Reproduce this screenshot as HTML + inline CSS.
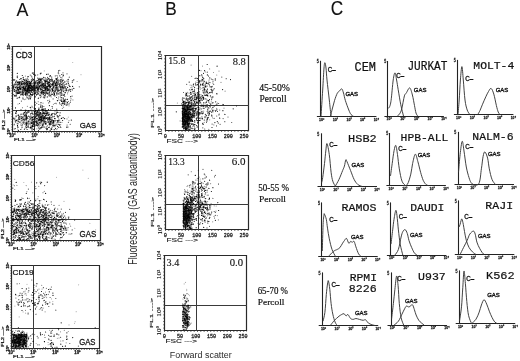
<!DOCTYPE html>
<html><head><meta charset="utf-8"><style>
html,body{margin:0;padding:0;background:#fff;}
body{width:520px;height:361px;overflow:hidden;}
svg{display:block;filter:grayscale(1);}
</style></head><body>
<svg width="520" height="361" viewBox="0 0 520 361">
<rect width="520" height="361" fill="#fff"/>
<text transform="matrix(0.29750,0,0,0.30000,16.550,15.550)" font-size="60" font-family='"Liberation Sans", sans-serif' font-weight="normal" fill="#111" stroke="#111" stroke-width="0.33" stroke-linejoin="round">A</text>
<text transform="matrix(0.28750,0,0,0.30244,165.312,14.750)" font-size="60" font-family='"Liberation Sans", sans-serif' font-weight="normal" fill="#111" stroke="#111" stroke-width="0.34" stroke-linejoin="round">B</text>
<text transform="matrix(0.28684,0,0,0.32683,330.689,14.750)" font-size="60" font-family='"Liberation Sans", sans-serif' font-weight="normal" fill="#111" stroke="#111" stroke-width="0.33" stroke-linejoin="round">C</text>
<line x1="12.5" y1="46" x2="12.5" y2="132" stroke="#2a2a2a" stroke-width="1.2"/>
<line x1="101.5" y1="46" x2="101.5" y2="132" stroke="#2a2a2a" stroke-width="1.2"/>
<line x1="12" y1="46.5" x2="102" y2="46.5" stroke="#2a2a2a" stroke-width="1.2"/>
<line x1="12" y1="131.5" x2="102" y2="131.5" stroke="#2a2a2a" stroke-width="1.2"/>
<line x1="34.5" y1="46" x2="34.5" y2="132" stroke="#3a3a3a" stroke-width="1"/>
<line x1="12" y1="110.5" x2="102" y2="110.5" stroke="#3a3a3a" stroke-width="1"/>
<path d="M24.3 90.5h0M19.4 88.7h0M21.3 83.8h0M29.1 82.6h0M22.2 83.6h0M16.7 84.4h0M19.8 92.4h0M13.3 79.9h0M21.3 85.3h0M22.1 86.5h0M26.2 82.4h0M33.9 90.5h0M16.5 95.3h0M25.1 83.7h0M21.7 83.8h0M33.8 81.6h0M22.4 87.1h0M31.9 86.3h0M28.2 90.1h0M35.7 85.8h0M42.2 87.5h0M26.7 92.6h0M22.2 82.2h0M23.2 94.5h0M22.3 91.9h0M36.0 91.6h0M19.8 89.1h0M16.6 91.1h0M29.4 95.7h0M25.7 95.5h0M33.9 87.2h0M32.3 88.1h0M18.7 89.6h0M29.2 87.7h0M28.9 91.8h0M33.2 88.5h0M17.7 89.9h0M13.8 88.0h0M20.9 85.8h0M23.3 87.4h0M27.5 87.3h0M25.8 92.4h0M22.5 94.3h0M17.3 83.3h0M31.4 86.6h0M26.8 96.4h0M24.1 81.4h0M29.2 91.9h0M32.0 86.3h0M17.1 85.3h0M17.4 84.7h0M14.4 85.9h0M24.1 86.8h0M33.0 88.2h0M32.5 88.8h0M25.4 93.4h0M27.0 84.0h0M22.9 94.1h0M32.7 79.6h0M19.9 81.6h0M25.7 99.2h0M17.7 82.4h0M31.4 81.4h0M23.8 93.1h0M26.7 81.8h0M29.2 97.8h0M32.5 86.4h0M33.4 91.2h0M31.2 87.5h0M28.5 92.0h0M23.9 90.3h0M13.3 90.1h0M35.0 85.7h0M27.1 88.3h0M20.1 83.0h0M25.5 90.3h0M24.4 99.6h0M34.6 96.8h0M17.6 89.4h0M21.5 82.6h0M19.7 86.9h0M21.2 93.2h0M25.7 85.1h0M38.7 97.7h0M17.7 85.1h0M50.2 89.3h0M23.7 90.0h0M35.4 83.7h0M16.1 90.7h0M41.4 83.8h0M23.6 93.6h0M25.7 89.7h0M16.9 88.4h0M18.9 85.9h0M18.3 88.7h0M29.1 87.6h0M22.1 89.6h0M33.4 89.7h0M28.8 80.9h0M38.5 89.7h0M40.6 84.4h0M36.8 88.3h0M29.1 83.1h0M32.7 90.9h0M26.0 78.5h0M19.1 81.6h0M39.7 88.5h0M28.0 93.9h0M27.9 87.2h0M27.4 84.7h0M17.2 93.8h0M22.1 90.7h0M16.7 81.2h0M22.0 83.8h0M21.5 88.9h0M23.6 81.8h0M25.5 83.5h0M25.1 89.9h0M40.4 89.6h0M17.8 87.3h0M21.5 86.8h0M20.9 83.5h0M32.4 86.4h0M20.1 90.6h0M28.1 98.4h0M20.7 91.7h0M21.2 87.7h0M33.7 80.2h0M45.5 87.4h0M22.3 81.9h0M30.5 82.7h0M36.2 94.9h0M26.1 86.0h0M33.5 90.3h0M32.9 88.9h0M20.2 88.1h0M23.0 87.9h0M17.4 84.9h0M34.7 90.2h0M34.4 87.6h0M21.1 87.9h0M30.6 90.6h0M36.8 94.6h0M22.5 84.8h0M33.6 92.6h0M17.0 89.0h0M33.7 89.1h0M27.0 83.9h0M35.9 85.2h0M29.4 87.3h0M44.7 90.8h0M44.7 87.6h0M39.1 87.4h0M44.3 82.9h0M42.5 78.3h0M13.9 87.2h0M54.8 89.8h0M50.5 85.2h0M37.3 89.6h0M37.8 80.8h0M24.7 91.2h0M37.7 94.4h0M41.0 84.6h0M42.6 81.3h0M56.1 82.1h0M50.0 96.4h0M37.8 86.1h0M34.3 90.5h0M48.6 82.6h0M34.8 85.4h0M54.1 88.6h0M37.2 92.8h0M59.4 92.4h0M46.1 90.3h0M50.1 87.0h0M54.6 95.2h0M30.7 94.4h0M38.5 84.0h0M48.8 89.1h0M39.4 86.6h0M26.1 92.7h0M48.6 81.6h0M40.6 90.5h0M36.3 81.1h0M39.9 86.4h0M64.1 82.3h0M38.2 101.7h0M39.6 94.8h0M31.0 96.2h0M45.8 85.3h0M39.2 79.7h0M40.5 94.2h0M48.5 85.3h0M50.0 84.0h0M32.1 87.1h0M48.7 88.8h0M47.4 86.5h0M38.6 88.2h0M46.6 92.3h0M47.4 81.4h0M59.7 87.0h0M34.4 85.5h0M40.8 88.8h0M34.4 86.6h0M44.9 93.6h0M38.3 90.1h0M49.5 89.2h0M42.1 91.6h0M38.9 84.4h0M34.0 87.5h0M58.7 86.3h0M40.4 88.6h0M40.7 86.8h0M41.5 93.3h0M42.6 85.4h0M50.0 79.7h0M39.4 86.2h0M51.9 81.6h0M51.6 78.4h0M32.1 88.2h0M39.4 92.0h0M37.3 75.1h0M48.9 90.3h0M28.4 79.6h0M39.1 88.0h0M44.5 95.4h0M36.1 86.0h0M56.1 82.3h0M26.9 90.0h0M61.9 86.1h0M33.2 79.2h0M47.6 84.1h0M57.4 87.0h0M37.2 91.4h0M51.4 92.6h0M31.0 83.4h0M54.9 81.3h0M31.4 91.5h0M34.7 93.4h0M36.4 85.7h0M48.0 84.9h0M39.3 86.9h0M43.6 94.3h0M32.7 83.4h0M31.2 80.6h0M47.6 88.7h0M51.1 86.4h0M55.2 91.6h0M38.8 91.3h0M54.4 84.1h0M27.0 88.5h0M54.9 90.6h0M57.2 92.7h0M32.6 86.9h0M57.7 87.0h0M47.1 89.3h0M54.4 81.6h0M33.9 84.1h0M54.7 91.1h0M59.1 87.7h0M44.2 98.1h0M45.4 78.3h0M44.1 86.0h0M46.9 87.1h0M51.2 86.4h0M35.6 81.7h0M49.1 96.0h0M35.1 92.8h0M51.9 94.2h0M58.0 93.8h0M34.3 84.5h0M48.1 90.6h0M41.6 94.8h0M25.4 76.1h0M51.5 85.5h0M37.7 86.8h0M37.2 88.1h0M48.9 82.6h0M37.9 84.7h0M37.9 91.2h0M53.0 84.9h0M36.5 90.6h0M51.0 85.8h0M44.1 91.4h0M34.3 88.7h0M49.3 79.4h0M40.3 88.8h0M40.2 93.5h0M41.1 86.8h0M32.8 90.1h0M35.2 86.5h0M46.4 86.9h0M43.2 88.3h0M45.5 93.2h0M39.6 95.4h0M31.3 91.0h0M64.8 86.9h0M52.8 84.1h0M50.3 95.3h0M57.2 87.8h0M49.3 100.2h0M52.1 89.5h0M62.3 89.5h0M64.0 85.4h0M62.7 90.6h0M54.9 91.3h0M68.2 90.5h0M61.1 104.4h0M41.3 96.6h0M63.5 83.9h0M62.5 88.4h0M58.5 89.6h0M52.5 90.3h0M63.2 91.0h0M61.7 95.5h0M52.4 85.6h0M60.7 86.8h0M57.3 82.7h0M58.5 90.4h0M54.9 83.2h0M60.7 83.9h0M69.6 89.0h0M58.4 82.1h0M53.7 90.1h0M58.7 91.5h0M66.3 91.1h0M55.4 90.1h0M56.9 82.0h0M59.2 86.4h0M53.3 87.7h0M55.0 95.3h0M58.6 89.6h0M49.4 86.2h0M53.7 83.8h0M56.3 83.9h0M68.6 91.2h0M58.1 93.4h0M59.4 90.0h0M63.7 87.0h0M60.4 85.0h0M54.2 94.8h0M67.8 92.3h0M61.6 93.5h0M66.0 86.5h0M65.4 99.2h0M56.9 95.1h0M61.2 88.9h0M58.5 81.2h0M58.0 80.7h0M61.5 82.7h0M77.1 81.5h0M61.4 99.5h0M50.1 86.7h0M72.9 80.7h0M57.1 80.0h0M49.6 80.4h0M48.7 82.7h0M43.4 88.7h0M56.5 86.8h0M50.1 87.3h0M62.9 80.2h0M40.5 83.5h0M57.8 89.4h0M46.8 80.7h0M52.3 89.6h0M46.2 81.8h0M49.4 85.7h0M66.5 81.0h0M55.9 82.8h0M35.0 89.8h0M49.2 82.2h0M52.1 85.6h0M62.1 77.9h0M55.9 84.9h0M66.8 83.9h0M56.6 79.3h0M47.4 87.3h0M57.2 91.0h0M48.9 84.0h0M53.7 81.9h0M58.7 82.6h0M44.7 83.2h0M60.5 82.6h0M59.0 83.4h0M47.3 84.3h0M46.3 87.2h0M53.5 84.6h0M57.9 87.8h0M45.3 84.4h0M67.0 81.0h0M49.4 85.8h0M53.8 81.0h0M34.0 90.4h0M51.9 80.0h0M45.8 81.5h0M61.6 84.6h0M51.2 96.9h0M49.6 79.7h0M58.9 73.8h0M55.5 88.4h0M57.2 78.8h0M48.6 87.0h0M64.1 102.7h0M59.9 103.9h0M67.5 93.8h0M65.1 103.2h0M66.9 102.0h0M57.5 100.7h0M64.7 101.8h0M64.1 101.4h0M63.2 105.9h0M63.2 101.3h0M55.9 103.2h0M61.1 100.8h0M63.4 99.6h0M69.0 105.8h0M65.9 99.3h0M62.4 108.4h0M62.1 101.0h0M68.3 104.1h0M63.6 107.5h0M72.9 99.9h0M65.6 104.8h0M63.2 99.3h0M67.3 104.5h0M56.4 103.7h0M58.6 118.8h0M23.7 122.8h0M17.6 129.0h0M23.0 113.9h0M32.5 128.5h0M14.8 119.2h0M35.2 121.3h0M25.0 122.7h0M24.8 113.8h0M22.5 117.5h0M26.8 120.2h0M33.2 111.1h0M17.9 123.0h0M25.2 120.1h0M28.3 111.1h0M15.1 118.1h0M33.4 123.1h0M33.8 118.8h0M18.0 115.1h0M17.8 127.0h0M31.9 113.0h0M26.4 121.3h0M25.9 119.3h0M31.8 120.5h0M15.1 120.3h0M31.1 125.8h0M36.5 121.8h0M23.6 121.4h0M36.3 118.6h0M15.2 121.7h0M20.6 122.5h0M20.8 124.9h0M26.5 118.4h0M21.7 127.8h0M14.4 124.2h0M18.8 118.3h0M25.2 122.5h0M27.9 124.1h0M40.2 123.2h0M35.2 125.9h0M21.4 125.7h0M25.0 115.8h0M34.9 121.4h0M28.1 125.0h0M32.6 107.2h0M19.3 117.9h0M16.4 116.6h0M31.1 115.8h0M35.1 119.9h0M24.3 124.5h0M37.3 115.3h0M41.2 121.6h0M31.3 120.2h0M22.5 107.7h0M30.7 124.6h0M28.5 127.2h0M20.6 122.8h0M16.3 115.3h0M16.0 115.5h0M45.1 112.3h0M21.9 123.5h0M23.9 113.9h0M28.2 127.2h0M19.8 119.5h0M41.6 114.1h0M18.1 123.1h0M20.4 121.1h0M36.4 123.1h0M31.9 106.2h0M18.0 104.0h0M29.3 123.8h0M32.5 117.4h0M31.9 119.9h0M24.8 121.9h0M22.7 122.6h0M31.8 129.4h0M26.4 119.9h0M36.4 115.7h0M24.9 128.3h0M22.0 121.7h0M31.0 122.2h0M22.4 116.7h0M25.7 114.0h0M35.3 122.0h0M57.3 116.4h0M43.8 122.2h0M53.7 124.5h0M42.6 110.5h0M46.6 129.2h0M40.5 114.3h0M45.6 115.6h0M28.5 120.7h0M18.2 123.8h0M42.8 123.3h0M58.4 122.5h0M46.4 126.3h0M35.9 125.6h0M38.2 121.7h0M53.0 123.8h0M44.0 123.2h0M47.6 125.7h0M39.5 114.7h0M38.5 114.0h0M44.2 117.3h0M43.2 127.3h0M26.0 110.5h0M45.8 117.6h0M41.0 107.4h0M31.7 111.2h0M48.3 122.2h0M41.8 113.2h0M41.4 120.8h0M27.5 113.2h0M51.3 117.3h0M40.7 125.3h0M30.0 122.9h0M49.2 122.1h0M38.0 113.1h0M39.2 124.7h0M50.2 119.3h0M43.0 103.2h0M43.3 126.2h0M47.7 126.1h0M34.6 109.2h0M44.2 117.7h0M49.0 117.8h0M32.4 128.7h0M34.2 118.0h0M39.3 111.6h0M53.4 122.0h0M40.9 119.3h0M24.0 120.1h0M30.8 125.1h0M36.4 120.5h0M50.9 123.5h0M44.0 123.3h0M53.4 124.3h0M41.0 124.6h0M59.6 115.0h0M39.7 119.7h0M35.6 112.6h0M30.0 123.4h0M56.1 123.0h0M52.6 123.4h0M37.8 126.6h0M39.3 117.8h0M31.1 123.2h0M45.9 128.4h0M18.8 115.1h0M44.0 106.5h0M37.4 121.5h0M34.3 113.0h0M45.0 120.9h0M38.5 112.9h0M39.3 116.0h0M48.0 113.1h0M58.7 116.8h0M43.3 111.9h0M47.2 128.4h0M43.4 116.3h0M34.6 126.0h0M51.4 122.5h0M47.0 121.8h0M35.1 112.8h0M37.2 119.7h0M46.4 113.0h0M39.2 115.5h0M51.1 119.1h0M40.8 114.7h0M44.4 122.6h0M44.2 118.6h0M41.7 114.5h0M29.7 111.2h0M43.1 121.2h0M37.7 114.0h0M36.9 128.8h0M39.1 122.1h0M41.5 121.7h0M30.6 127.4h0M32.2 123.1h0M35.0 124.4h0M55.0 118.9h0M43.3 125.0h0M50.3 121.4h0M45.2 118.6h0M40.1 128.7h0M57.0 115.4h0M35.8 120.0h0M39.7 120.4h0M38.0 110.9h0M48.3 115.1h0M43.9 112.8h0M40.3 113.4h0M38.7 112.0h0M46.8 113.8h0M39.9 112.6h0M48.4 119.2h0M44.9 111.6h0M42.2 109.8h0M43.6 116.6h0M34.5 112.1h0M42.1 115.4h0M35.7 116.2h0M42.3 112.5h0M39.3 115.6h0M46.8 114.2h0M45.9 110.8h0M34.5 113.7h0M36.3 119.0h0M42.2 111.0h0M42.5 107.6h0M38.6 114.9h0M47.1 112.0h0M39.6 112.5h0M43.5 116.0h0M43.6 110.6h0M43.8 113.7h0M45.6 110.8h0M40.7 114.1h0M45.9 113.3h0M47.3 112.3h0M52.3 120.2h0M60.7 124.6h0M46.4 112.2h0M53.9 125.8h0M60.6 122.4h0M53.6 122.4h0M56.6 113.1h0M52.9 124.4h0M56.7 129.6h0M50.2 119.8h0M58.1 121.9h0M62.0 122.3h0M52.5 119.7h0M54.1 123.1h0M56.8 124.5h0M57.3 128.6h0M67.0 118.9h0M55.2 121.0h0M46.4 127.2h0M55.0 126.8h0M47.1 115.7h0M38.1 124.7h0M69.0 120.6h0M52.2 126.3h0M46.3 117.4h0M53.5 120.7h0M60.5 126.7h0M40.8 104.3h0M41.6 110.0h0M32.4 80.7h0M26.6 91.4h0M42.8 83.0h0M37.8 74.7h0M53.4 104.3h0M63.3 89.7h0M50.7 109.7h0M17.3 83.8h0M61.5 93.5h0M58.2 98.6h0M27.4 106.3h0M15.9 92.9h0M62.9 98.8h0M24.0 94.5h0M25.1 79.5h0" stroke="#000" stroke-opacity="0.45" stroke-width="1.2" stroke-linecap="round" fill="none"/>
<path d="M35.0 84.1h0M19.3 82.0h0M20.6 89.3h0M31.4 86.8h0M22.6 91.5h0M30.2 82.8h0M16.2 94.0h0M27.6 78.9h0M18.0 91.5h0M21.9 80.0h0M27.5 89.8h0M30.5 98.3h0M33.4 88.5h0M27.1 95.4h0M18.0 81.6h0M28.8 95.8h0M29.6 89.0h0M27.1 93.1h0M31.0 88.7h0M20.0 83.2h0M16.1 95.3h0M28.4 87.2h0M29.4 87.8h0M29.7 90.4h0M40.1 85.9h0M14.9 85.0h0M29.1 98.2h0M21.3 94.6h0M18.8 89.8h0M38.2 87.0h0M27.8 76.9h0M22.0 84.6h0M35.9 86.8h0M16.5 86.6h0M21.6 82.9h0M24.2 84.0h0M27.0 86.6h0M31.2 88.7h0M35.9 92.0h0M23.0 98.9h0M23.2 91.0h0M26.3 84.0h0M26.0 84.6h0M18.2 93.2h0M17.5 84.8h0M42.1 85.4h0M30.8 97.2h0M16.6 93.9h0M25.1 94.4h0M19.8 88.8h0M26.8 92.4h0M22.5 87.4h0M19.5 87.2h0M27.5 85.7h0M22.2 91.3h0M18.8 83.7h0M16.4 92.4h0M28.3 84.5h0M26.7 89.0h0M29.7 82.9h0M15.5 84.7h0M31.1 90.3h0M27.3 84.7h0M39.0 83.5h0M33.8 86.6h0M25.3 93.4h0M16.2 96.2h0M22.0 87.4h0M22.1 91.0h0M20.8 78.5h0M39.5 82.0h0M30.4 90.6h0M30.7 83.8h0M29.5 83.9h0M35.4 75.6h0M27.3 85.9h0M18.9 97.7h0M37.9 90.1h0M13.5 88.9h0M29.4 85.1h0M17.8 92.4h0M22.1 92.7h0M25.3 88.2h0M26.6 89.2h0M37.8 89.6h0M27.0 88.4h0M27.1 93.0h0M26.5 80.3h0M18.0 87.4h0M26.5 80.2h0M36.0 88.1h0M25.4 90.5h0M13.7 94.6h0M27.6 92.2h0M56.6 89.1h0M27.0 87.8h0M15.9 90.1h0M23.6 92.5h0M25.9 89.1h0M22.7 94.3h0M29.6 89.4h0M22.4 94.4h0M32.4 78.6h0M32.0 86.2h0M35.7 82.1h0M28.8 99.2h0M20.8 95.1h0M35.5 91.8h0M23.3 99.0h0M33.2 90.2h0M21.9 92.1h0M28.0 87.1h0M20.0 85.2h0M28.1 91.9h0M26.9 91.4h0M23.9 83.8h0M30.8 88.4h0M23.1 85.9h0M25.1 91.3h0M29.5 86.3h0M38.4 89.9h0M19.1 92.1h0M27.3 90.4h0M38.1 87.3h0M27.2 94.2h0M28.9 86.9h0M19.2 97.7h0M32.9 89.1h0M32.5 86.2h0M23.3 78.9h0M30.7 85.2h0M22.4 84.1h0M28.4 87.7h0M33.4 89.8h0M36.1 88.3h0M39.2 82.3h0M26.4 94.1h0M23.8 88.6h0M14.5 91.4h0M38.7 87.7h0M32.4 95.1h0M23.4 82.8h0M31.1 82.7h0M24.8 90.6h0M26.9 90.7h0M13.5 88.6h0M33.5 89.0h0M18.7 87.5h0M25.9 86.8h0M30.6 89.0h0M14.9 96.3h0M16.6 80.9h0M27.2 86.5h0M17.3 89.7h0M31.1 91.5h0M33.3 89.3h0M21.4 101.1h0M23.0 83.4h0M28.3 89.0h0M17.0 84.8h0M31.5 89.0h0M19.8 87.2h0M15.6 81.9h0M15.4 95.6h0M15.8 91.1h0M16.1 92.2h0M33.9 85.0h0M33.7 88.8h0M22.1 87.2h0M20.6 88.1h0M23.9 91.8h0M28.3 82.1h0M45.7 88.7h0M51.3 88.8h0M45.2 85.5h0M53.6 90.9h0M64.4 84.9h0M47.3 81.3h0M45.8 90.3h0M40.9 89.6h0M38.2 78.8h0M46.9 93.3h0M39.5 78.3h0M26.8 86.0h0M43.5 85.5h0M31.3 94.5h0M38.6 85.8h0M57.3 90.3h0M57.6 77.2h0M45.4 92.6h0M45.5 86.8h0M32.6 90.0h0M31.6 87.2h0M32.2 87.9h0M36.0 82.3h0M37.0 85.0h0M19.8 85.1h0M44.7 87.3h0M28.4 90.2h0M41.6 88.0h0M46.3 91.0h0M35.6 90.2h0M49.9 87.9h0M37.9 88.5h0M48.3 82.7h0M30.4 92.1h0M31.9 88.6h0M33.9 84.9h0M32.0 77.1h0M60.6 79.8h0M36.8 85.3h0M44.3 88.0h0M46.8 79.1h0M40.9 82.3h0M29.8 90.2h0M54.5 93.6h0M41.6 79.6h0M54.9 96.1h0M48.3 89.7h0M47.1 92.2h0M40.6 88.1h0M37.7 93.0h0M22.9 97.9h0M41.3 85.4h0M45.7 82.5h0M48.1 83.3h0M34.6 82.7h0M28.4 86.7h0M41.0 85.5h0M34.0 87.8h0M61.2 92.5h0M39.8 81.2h0M33.4 82.6h0M34.9 82.7h0M29.1 88.4h0M37.3 89.8h0M33.9 85.4h0M40.9 80.6h0M37.6 86.0h0M25.2 81.9h0M44.2 86.3h0M50.9 91.2h0M45.4 84.9h0M51.4 88.9h0M43.2 93.7h0M42.7 91.6h0M45.9 83.4h0M34.9 83.4h0M40.6 97.6h0M38.9 89.1h0M44.2 90.7h0M27.3 84.1h0M52.7 89.1h0M44.9 95.3h0M53.7 92.6h0M52.4 91.4h0M41.1 85.3h0M56.2 87.7h0M42.1 93.3h0M32.3 73.1h0M38.5 81.2h0M39.4 86.3h0M53.1 98.9h0M53.0 85.8h0M32.2 90.3h0M27.7 89.0h0M40.7 80.9h0M53.9 86.5h0M39.1 85.5h0M47.4 90.5h0M32.5 87.1h0M45.0 77.6h0M39.3 87.3h0M51.3 84.5h0M37.7 87.4h0M28.8 92.7h0M25.0 86.1h0M37.2 92.2h0M38.7 82.3h0M38.1 94.2h0M49.7 93.2h0M49.1 85.9h0M43.8 84.6h0M39.6 87.2h0M49.1 89.2h0M37.8 89.8h0M47.8 100.6h0M43.8 93.0h0M48.5 78.7h0M45.3 95.2h0M33.9 86.7h0M45.3 88.4h0M46.2 87.9h0M31.2 86.9h0M52.6 94.4h0M28.0 87.5h0M52.7 83.9h0M31.7 88.2h0M45.3 79.8h0M47.4 88.7h0M48.0 93.5h0M35.9 93.0h0M31.4 79.6h0M38.2 87.9h0M37.5 90.3h0M43.3 93.0h0M45.9 91.5h0M44.8 97.7h0M45.2 82.7h0M42.3 90.3h0M43.3 97.1h0M57.9 88.7h0M41.6 93.3h0M49.2 86.3h0M42.5 92.4h0M34.6 89.8h0M52.3 79.4h0M65.7 88.3h0M49.4 92.2h0M29.0 89.1h0M26.3 83.6h0M33.1 73.4h0M36.0 87.6h0M32.4 89.3h0M44.0 93.1h0M37.9 84.3h0M38.2 84.6h0M45.5 90.8h0M57.7 91.5h0M66.9 90.5h0M61.2 89.7h0M72.4 90.0h0M60.9 87.9h0M69.0 90.1h0M60.7 86.7h0M58.0 90.3h0M57.9 91.6h0M56.2 92.6h0M65.2 89.9h0M55.1 87.4h0M72.1 96.1h0M52.7 90.3h0M60.4 95.9h0M64.9 81.9h0M54.3 91.9h0M62.4 86.4h0M61.1 88.1h0M60.5 92.4h0M48.6 94.9h0M65.3 87.4h0M60.3 83.6h0M79.3 86.8h0M50.3 95.3h0M63.5 91.6h0M58.7 93.9h0M53.4 92.9h0M49.2 90.0h0M72.3 80.8h0M66.5 83.9h0M58.6 90.5h0M50.1 90.4h0M67.0 73.8h0M65.3 86.8h0M61.9 97.7h0M61.0 93.9h0M52.2 84.7h0M46.1 81.4h0M61.6 91.9h0M63.2 103.7h0M72.1 89.0h0M56.4 87.6h0M63.6 91.2h0M63.7 88.0h0M61.3 87.7h0M57.5 84.9h0M57.6 77.0h0M44.9 90.3h0M62.8 94.1h0M62.8 85.3h0M61.6 91.1h0M47.9 86.4h0M72.3 82.4h0M50.4 75.5h0M64.4 86.9h0M44.8 83.5h0M65.1 90.7h0M59.7 85.8h0M47.6 77.4h0M43.7 79.0h0M49.1 79.5h0M57.7 90.0h0M60.9 77.4h0M62.5 83.2h0M64.8 96.5h0M49.9 76.6h0M63.0 72.8h0M55.6 84.5h0M46.3 81.4h0M44.9 81.6h0M64.8 81.3h0M61.2 84.6h0M55.3 75.9h0M70.0 86.6h0M45.1 84.7h0M48.9 84.5h0M57.0 75.6h0M55.9 78.4h0M43.0 91.5h0M55.7 84.5h0M52.2 80.4h0M57.4 81.1h0M50.4 83.5h0M51.3 94.8h0M69.3 77.2h0M65.8 84.3h0M59.1 80.7h0M50.6 86.3h0M64.0 94.7h0M56.5 84.0h0M62.0 80.4h0M60.3 81.5h0M56.9 78.5h0M41.7 86.8h0M59.8 70.3h0M63.7 82.9h0M47.6 80.9h0M55.5 84.6h0M58.8 79.8h0M60.5 80.3h0M49.9 83.2h0M68.2 79.4h0M56.1 88.6h0M46.8 81.3h0M63.8 101.2h0M64.9 92.8h0M66.7 104.8h0M65.8 101.6h0M64.5 101.1h0M64.1 99.8h0M66.8 105.4h0M71.0 98.8h0M69.3 103.8h0M70.3 102.5h0M59.0 100.0h0M64.2 103.2h0M70.6 100.8h0M68.3 101.5h0M61.9 101.0h0M54.9 103.5h0M16.0 112.4h0M32.2 120.0h0M14.3 128.9h0M30.6 128.2h0M15.7 113.1h0M36.4 124.9h0M24.4 120.2h0M17.2 123.7h0M30.0 127.7h0M41.0 121.6h0M24.3 119.7h0M30.3 116.2h0M36.2 114.9h0M27.9 118.6h0M26.0 112.7h0M31.8 118.7h0M40.1 120.7h0M36.7 125.0h0M28.5 116.0h0M21.7 120.1h0M20.0 117.5h0M36.3 116.6h0M26.2 127.7h0M29.8 117.7h0M15.9 120.9h0M22.1 117.5h0M24.4 129.4h0M50.5 122.1h0M18.7 118.0h0M21.5 120.3h0M14.1 124.8h0M22.2 127.2h0M15.5 128.6h0M24.2 118.0h0M25.3 110.1h0M16.0 116.6h0M42.1 114.8h0M32.1 130.2h0M18.5 117.6h0M30.2 119.6h0M38.5 130.4h0M17.7 126.7h0M18.0 127.4h0M40.7 116.2h0M25.4 123.8h0M32.6 122.4h0M37.1 122.4h0M27.9 121.9h0M26.5 115.2h0M18.5 115.0h0M24.9 115.2h0M36.9 115.6h0M42.6 116.6h0M39.7 122.5h0M36.8 121.0h0M32.6 123.7h0M33.7 123.3h0M29.9 121.6h0M30.2 107.4h0M26.6 118.8h0M26.7 123.3h0M36.7 121.3h0M28.1 122.9h0M30.8 127.0h0M18.9 116.7h0M25.7 111.0h0M25.6 111.4h0M15.7 122.1h0M28.0 126.4h0M19.2 118.8h0M23.3 114.6h0M34.3 124.6h0M21.5 116.7h0M23.4 117.0h0M39.5 118.7h0M26.5 117.0h0M31.0 110.0h0M28.2 125.8h0M28.8 124.1h0M42.8 120.8h0M54.7 114.6h0M50.9 115.7h0M48.2 115.4h0M19.5 103.5h0M38.7 124.9h0M44.7 113.7h0M42.5 111.1h0M37.9 118.9h0M45.6 117.2h0M52.6 113.7h0M46.9 128.7h0M43.1 121.9h0M36.5 112.1h0M41.5 120.4h0M48.0 112.7h0M48.0 118.2h0M55.0 111.0h0M47.2 113.3h0M40.4 120.3h0M51.2 128.6h0M54.4 116.4h0M49.4 127.2h0M34.1 123.2h0M18.3 119.3h0M39.7 122.4h0M37.2 114.8h0M50.1 124.7h0M41.4 120.9h0M35.5 110.9h0M35.4 116.2h0M47.7 113.8h0M40.1 120.6h0M52.0 127.7h0M48.9 118.3h0M32.9 123.5h0M50.1 119.2h0M29.5 119.8h0M44.7 120.1h0M35.3 116.9h0M40.7 106.1h0M48.1 118.9h0M37.2 114.8h0M42.7 125.3h0M32.0 117.3h0M46.3 122.9h0M49.7 122.9h0M37.3 116.0h0M50.0 117.3h0M36.1 114.0h0M36.9 121.2h0M44.3 118.3h0M45.5 116.9h0M32.5 126.4h0M52.4 108.2h0M43.6 123.8h0M38.0 118.1h0M35.9 111.4h0M38.6 119.8h0M49.8 118.2h0M32.2 112.1h0M32.9 119.9h0M26.6 124.8h0M49.1 119.9h0M34.3 108.2h0M43.7 115.6h0M42.0 108.0h0M38.5 127.9h0M53.5 123.0h0M48.7 118.6h0M38.0 112.0h0M46.0 123.0h0M55.2 120.7h0M38.3 119.0h0M42.6 120.4h0M39.6 117.8h0M47.7 117.7h0M41.4 116.3h0M45.1 121.6h0M45.5 116.7h0M48.7 114.5h0M47.7 120.7h0M37.6 111.3h0M46.2 113.7h0M40.2 117.2h0M45.6 123.9h0M39.2 126.0h0M40.2 119.4h0M46.1 124.2h0M28.0 111.2h0M35.8 116.3h0M39.7 129.1h0M38.3 124.4h0M42.7 127.0h0M41.0 121.6h0M51.4 121.2h0M43.2 110.4h0M39.8 128.1h0M48.0 122.3h0M48.6 115.5h0M45.2 122.8h0M56.7 109.2h0M45.8 115.4h0M41.6 118.5h0M40.3 118.0h0M40.6 107.2h0M40.6 112.9h0M42.2 105.6h0M51.2 114.9h0M43.2 113.3h0M41.3 109.6h0M44.4 116.7h0M38.5 115.0h0M46.8 110.5h0M38.8 116.5h0M39.2 111.0h0M49.2 113.0h0M42.5 116.8h0M38.1 115.2h0M35.4 110.1h0M44.7 112.9h0M47.3 112.6h0M35.4 118.9h0M45.9 111.2h0M37.4 118.5h0M39.4 120.1h0M38.8 109.6h0M45.1 119.4h0M36.2 116.5h0M43.8 113.8h0M37.1 113.2h0M38.6 115.7h0M46.9 113.1h0M55.1 118.5h0M59.7 120.1h0M55.1 125.2h0M54.9 114.5h0M49.7 121.0h0M47.2 117.7h0M60.0 122.3h0M68.4 122.3h0M55.9 114.1h0M58.8 121.0h0M52.6 125.5h0M54.1 113.4h0M57.9 117.3h0M61.3 118.3h0M70.2 124.3h0M57.3 122.7h0M60.8 127.4h0M57.2 112.4h0M59.6 125.1h0M67.1 125.0h0M56.8 90.1h0M33.1 72.5h0M36.7 103.3h0M58.7 97.0h0M31.4 76.0h0M62.8 102.2h0M30.3 75.1h0M62.5 103.3h0M61.5 105.5h0M57.3 87.1h0M51.9 94.2h0M48.7 102.9h0M38.8 104.5h0M53.7 95.2h0M59.5 90.5h0" stroke="#000" stroke-opacity="0.7" stroke-width="1.2" stroke-linecap="round" fill="none"/>
<path d="M36.2 80.8h0M23.5 83.9h0M30.7 87.2h0M38.1 89.1h0M23.1 95.6h0M30.1 87.3h0M22.8 93.7h0M28.2 83.0h0M24.3 80.5h0M32.1 90.2h0M17.3 76.2h0M28.9 91.7h0M16.7 90.8h0M17.4 88.3h0M36.5 87.3h0M31.4 94.8h0M27.6 89.5h0M32.6 94.8h0M29.5 92.0h0M29.4 81.7h0M23.8 87.2h0M27.1 82.2h0M29.4 83.4h0M23.1 87.5h0M19.3 93.4h0M35.3 90.1h0M23.2 87.5h0M35.3 87.9h0M26.2 80.2h0M37.6 82.7h0M30.3 93.4h0M17.3 77.6h0M23.9 88.8h0M17.4 93.0h0M27.5 81.1h0M26.8 93.1h0M19.6 91.8h0M34.9 83.1h0M28.8 88.4h0M43.0 86.1h0M24.6 84.0h0M47.1 86.2h0M18.2 82.4h0M20.9 94.2h0M20.2 84.9h0M31.3 86.3h0M17.4 87.2h0M19.6 97.2h0M19.1 83.1h0M33.8 85.5h0M29.2 85.3h0M40.5 85.5h0M43.2 94.7h0M28.1 81.6h0M29.0 90.0h0M28.9 91.0h0M25.6 88.3h0M29.6 85.5h0M24.8 79.9h0M20.0 88.4h0M18.9 89.7h0M26.6 85.0h0M35.8 88.6h0M24.4 89.0h0M13.5 86.5h0M40.1 79.7h0M28.9 85.4h0M28.2 85.4h0M26.3 81.0h0M19.5 88.0h0M14.2 91.1h0M39.2 83.4h0M19.4 82.6h0M30.3 83.2h0M22.9 89.4h0M24.8 85.0h0M14.7 84.2h0M15.5 82.8h0M21.6 84.4h0M28.0 81.7h0M20.1 86.3h0M32.9 89.2h0M20.3 82.0h0M30.3 84.8h0M20.5 89.2h0M42.2 91.0h0M18.4 93.3h0M26.4 90.9h0M29.7 90.2h0M28.2 89.2h0M28.9 92.7h0M14.5 95.6h0M19.4 83.9h0M22.0 81.4h0M20.7 89.2h0M13.6 87.6h0M28.1 89.1h0M23.7 86.9h0M25.6 89.2h0M17.1 90.8h0M31.6 81.3h0M25.2 88.1h0M17.2 82.5h0M47.7 82.7h0M25.7 86.8h0M27.1 97.7h0M27.9 83.3h0M27.3 94.0h0M13.5 85.1h0M24.2 88.4h0M22.9 81.5h0M27.1 84.4h0M22.9 92.4h0M28.5 87.2h0M18.7 92.0h0M32.9 94.4h0M27.5 91.5h0M18.9 91.9h0M17.3 93.5h0M26.3 82.4h0M18.6 84.6h0M23.1 88.2h0M19.6 92.2h0M27.9 90.3h0M23.7 88.0h0M30.8 83.7h0M23.6 79.5h0M37.1 87.4h0M35.4 93.0h0M29.5 87.5h0M23.0 90.4h0M20.2 81.9h0M25.0 90.3h0M43.5 86.5h0M19.6 82.7h0M35.7 88.3h0M17.2 98.2h0M25.3 87.3h0M19.9 79.5h0M17.3 73.3h0M22.3 75.5h0M29.1 86.5h0M30.5 98.8h0M25.3 83.4h0M30.4 94.4h0M17.4 92.7h0M30.2 85.6h0M15.3 87.1h0M27.2 89.8h0M21.1 78.5h0M20.4 92.2h0M26.2 86.0h0M14.7 79.9h0M26.7 90.9h0M25.6 93.7h0M23.7 86.4h0M31.1 85.5h0M29.4 90.4h0M35.5 96.8h0M34.1 88.0h0M25.7 87.2h0M23.8 87.0h0M28.4 86.1h0M28.5 85.3h0M27.1 83.4h0M29.2 86.7h0M19.0 87.2h0M25.3 92.3h0M19.2 83.6h0M33.1 86.1h0M24.4 82.7h0M33.7 91.1h0M20.7 88.6h0M18.5 90.2h0M25.4 94.4h0M32.7 87.4h0M39.8 79.8h0M48.4 86.0h0M54.1 85.9h0M29.6 85.3h0M49.6 94.8h0M47.4 90.6h0M39.6 81.6h0M44.1 97.0h0M46.7 92.9h0M42.2 78.9h0M32.0 84.0h0M28.4 87.9h0M43.8 90.6h0M41.3 81.8h0M24.5 89.4h0M40.3 95.7h0M34.1 93.7h0M46.9 88.5h0M49.3 91.8h0M38.9 82.6h0M18.0 89.3h0M43.0 84.4h0M38.8 91.0h0M36.2 86.6h0M28.9 85.3h0M38.7 79.3h0M32.3 80.1h0M42.0 84.8h0M45.2 80.9h0M45.1 87.9h0M47.4 86.5h0M49.5 80.8h0M21.7 83.3h0M58.1 84.5h0M42.6 86.1h0M46.5 86.8h0M42.2 84.3h0M29.9 95.9h0M41.9 83.9h0M49.1 82.0h0M41.6 86.0h0M54.8 82.8h0M45.0 80.6h0M35.0 93.7h0M41.0 102.7h0M38.3 88.6h0M51.7 77.0h0M41.7 89.4h0M56.4 82.4h0M40.3 88.9h0M18.3 93.2h0M52.4 90.4h0M25.7 95.0h0M43.5 92.4h0M39.3 86.5h0M40.5 89.0h0M34.0 83.6h0M23.2 77.4h0M40.7 79.4h0M48.3 82.8h0M26.0 81.0h0M48.8 93.0h0M47.3 96.9h0M40.9 82.3h0M38.1 88.5h0M23.7 87.8h0M47.8 84.0h0M48.8 90.1h0M53.3 87.8h0M34.7 85.1h0M13.7 79.9h0M37.1 83.7h0M25.7 90.7h0M35.9 82.8h0M36.2 87.3h0M30.9 85.2h0M42.6 87.8h0M50.7 79.6h0M47.9 88.8h0M56.9 94.1h0M53.4 87.0h0M27.5 88.7h0M45.0 85.8h0M40.9 80.4h0M32.0 95.1h0M41.8 92.6h0M43.1 87.3h0M37.8 78.0h0M37.8 80.6h0M50.2 87.5h0M37.7 89.3h0M46.1 80.9h0M46.1 89.4h0M31.0 90.5h0M31.4 89.2h0M47.6 89.9h0M52.5 89.6h0M47.5 93.8h0M63.2 87.2h0M14.5 89.7h0M44.3 87.8h0M33.5 87.0h0M45.7 94.1h0M42.0 89.3h0M37.3 87.9h0M31.6 92.1h0M54.3 93.2h0M32.4 92.8h0M49.6 85.5h0M45.2 85.0h0M47.3 79.2h0M33.7 74.3h0M43.6 77.3h0M44.9 81.1h0M57.4 100.6h0M44.0 80.1h0M30.2 88.4h0M44.1 85.1h0M42.1 89.9h0M36.6 94.8h0M38.2 93.2h0M40.8 92.3h0M44.4 92.9h0M49.7 101.7h0M43.3 90.5h0M49.7 86.7h0M31.5 85.9h0M45.8 87.8h0M38.3 98.5h0M38.7 79.6h0M31.1 88.0h0M41.2 91.7h0M45.1 89.4h0M37.6 83.1h0M45.1 96.0h0M43.5 83.5h0M56.1 86.5h0M50.7 86.6h0M64.5 94.9h0M69.1 89.8h0M67.6 87.4h0M61.2 86.8h0M60.0 93.8h0M56.9 78.8h0M61.1 79.3h0M40.2 79.8h0M62.3 81.2h0M72.6 86.4h0M56.8 88.9h0M57.1 80.2h0M61.8 74.5h0M54.5 94.4h0M69.0 85.2h0M53.2 87.2h0M56.2 85.3h0M53.1 84.7h0M65.3 92.6h0M50.1 75.9h0M68.1 79.8h0M62.1 84.7h0M52.4 89.1h0M63.2 95.5h0M59.8 85.7h0M63.9 88.3h0M62.8 86.8h0M70.7 89.5h0M48.7 85.2h0M62.4 87.7h0M69.8 86.4h0M55.4 90.2h0M70.6 91.2h0M68.1 81.9h0M61.6 95.1h0M58.1 83.0h0M66.4 90.2h0M56.8 93.6h0M56.5 81.8h0M47.2 87.6h0M50.8 81.2h0M48.1 74.2h0M68.4 83.6h0M55.6 83.5h0M49.7 84.5h0M55.4 84.0h0M55.1 91.5h0M39.6 86.5h0M52.4 81.1h0M43.2 86.0h0M40.3 73.8h0M57.1 83.2h0M52.8 88.0h0M62.9 76.0h0M59.8 75.8h0M41.0 73.2h0M55.3 90.0h0M42.6 83.0h0M45.6 81.9h0M59.5 84.2h0M45.9 88.8h0M54.7 80.7h0M56.3 87.1h0M45.5 86.0h0M48.6 82.7h0M61.1 90.7h0M50.7 86.6h0M48.9 78.5h0M73.8 79.8h0M58.6 70.9h0M52.9 82.8h0M52.6 84.8h0M49.5 82.3h0M40.9 79.0h0M57.0 85.3h0M55.3 85.4h0M33.5 79.7h0M66.7 88.9h0M44.3 87.9h0M63.1 80.2h0M58.3 72.9h0M51.4 79.8h0M63.4 75.2h0M41.0 78.3h0M52.0 84.1h0M53.0 83.4h0M35.0 74.8h0M39.6 82.8h0M70.7 96.7h0M64.7 100.8h0M62.1 103.7h0M61.6 101.4h0M61.1 97.7h0M67.5 102.5h0M60.9 100.2h0M64.5 104.2h0M63.5 98.1h0M63.9 101.3h0M64.1 100.7h0M67.3 99.4h0M59.5 102.8h0M65.1 99.9h0M67.1 103.1h0M32.8 125.1h0M21.1 114.2h0M33.3 122.7h0M25.9 119.2h0M25.8 118.6h0M24.0 119.1h0M19.7 119.3h0M31.4 122.2h0M35.8 110.3h0M25.0 115.3h0M40.0 117.6h0M26.3 125.5h0M19.4 122.1h0M22.3 124.9h0M26.3 115.6h0M42.4 125.2h0M24.5 112.3h0M26.2 119.7h0M32.3 120.0h0M27.0 118.1h0M18.2 121.4h0M37.7 114.7h0M29.0 116.5h0M23.7 122.8h0M18.4 130.3h0M34.1 119.0h0M23.3 119.2h0M18.2 115.3h0M26.8 118.2h0M21.0 109.8h0M23.7 113.1h0M17.5 125.4h0M28.4 121.6h0M13.7 118.2h0M33.3 116.7h0M51.7 129.3h0M47.1 110.9h0M37.7 125.4h0M33.4 124.7h0M25.9 126.2h0M32.6 126.8h0M27.8 112.2h0M26.7 122.7h0M35.2 121.4h0M19.9 116.4h0M26.9 116.4h0M22.0 118.3h0M16.2 120.2h0M16.4 111.4h0M22.7 120.0h0M16.4 120.4h0M26.0 114.3h0M33.5 121.6h0M15.9 113.4h0M23.7 123.0h0M26.4 113.1h0M41.6 119.3h0M20.8 129.5h0M26.3 127.6h0M36.8 123.2h0M40.0 119.2h0M25.5 116.8h0M32.7 117.4h0M30.4 118.2h0M21.1 118.5h0M32.3 117.6h0M14.1 118.9h0M26.3 124.4h0M26.3 117.2h0M26.6 117.5h0M36.8 122.6h0M32.8 126.4h0M32.0 126.5h0M28.0 127.1h0M31.4 123.4h0M26.0 110.3h0M35.3 117.4h0M17.9 120.1h0M28.6 110.5h0M33.2 119.7h0M32.7 113.5h0M15.5 107.9h0M46.9 129.7h0M38.9 123.0h0M45.6 123.4h0M40.2 116.2h0M42.7 117.8h0M41.9 118.1h0M42.8 106.6h0M40.9 119.4h0M49.9 118.1h0M43.6 109.1h0M31.8 117.0h0M38.6 117.1h0M40.9 106.0h0M34.9 122.7h0M42.0 116.7h0M41.8 118.3h0M34.3 128.8h0M52.9 120.4h0M44.8 110.2h0M41.9 126.9h0M39.3 119.6h0M36.5 122.0h0M44.7 113.8h0M27.4 117.8h0M53.5 125.8h0M41.5 117.0h0M38.6 117.1h0M45.1 113.6h0M26.6 123.7h0M28.9 112.1h0M42.5 118.0h0M47.6 119.2h0M38.2 120.4h0M36.2 125.2h0M31.6 127.9h0M44.0 117.4h0M40.6 127.8h0M40.3 112.9h0M48.6 121.8h0M41.4 127.7h0M58.3 124.3h0M53.2 121.3h0M32.8 124.8h0M43.9 120.8h0M35.6 114.1h0M26.2 112.8h0M32.9 121.5h0M36.2 124.9h0M37.8 112.6h0M42.3 113.5h0M44.3 116.8h0M43.8 117.8h0M40.0 122.9h0M33.0 114.6h0M32.7 119.1h0M45.8 121.5h0M44.4 121.8h0M36.5 121.8h0M58.2 116.5h0M51.4 124.0h0M43.9 118.8h0M26.0 123.0h0M51.1 129.1h0M38.4 117.0h0M51.9 117.8h0M45.5 110.2h0M36.7 118.4h0M43.5 118.7h0M38.6 120.0h0M46.6 118.6h0M49.4 117.1h0M32.0 117.4h0M53.9 120.5h0M34.4 111.8h0M41.4 116.9h0M44.7 127.0h0M26.9 123.4h0M42.2 120.3h0M34.0 126.2h0M51.5 114.3h0M32.1 125.9h0M45.3 124.0h0M30.7 107.7h0M52.1 106.5h0M35.0 102.2h0M30.6 114.0h0M48.7 127.5h0M49.9 124.8h0M31.2 113.3h0M37.7 123.6h0M39.7 115.9h0M27.1 129.5h0M30.6 127.4h0M46.0 118.4h0M49.8 117.0h0M64.6 118.6h0M35.6 113.5h0M43.2 119.8h0M47.3 128.9h0M42.9 124.4h0M33.4 129.5h0M24.1 116.1h0M52.9 116.7h0M46.7 114.8h0M51.9 113.9h0M37.4 111.2h0M57.7 115.8h0M41.2 120.9h0M34.7 118.6h0M50.4 121.7h0M53.1 121.4h0M50.1 130.3h0M41.2 122.8h0M42.6 115.1h0M41.0 117.8h0M38.5 109.9h0M38.9 108.2h0M41.0 128.0h0M49.4 105.6h0M44.5 117.8h0M35.1 117.5h0M45.6 115.4h0M40.4 112.6h0M46.8 113.5h0M43.7 113.2h0M36.5 114.0h0M42.0 119.0h0M35.1 111.4h0M43.2 112.3h0M39.2 114.5h0M40.3 114.0h0M45.8 110.7h0M35.5 108.7h0M44.8 118.1h0M42.2 109.2h0M40.8 117.5h0M40.0 116.1h0M36.7 112.8h0M43.3 117.9h0M37.3 111.1h0M49.0 117.3h0M42.8 109.6h0M45.1 108.7h0M42.3 115.3h0M39.2 114.6h0M39.3 113.2h0M38.9 109.5h0M49.2 114.7h0M62.6 120.5h0M49.3 123.7h0M57.7 121.2h0M67.9 127.0h0M56.9 110.8h0M71.3 120.1h0M57.6 126.3h0M51.0 119.5h0M51.3 121.8h0M51.3 120.2h0M58.8 127.3h0M55.5 128.6h0M66.7 127.2h0M58.3 120.3h0M54.3 125.3h0M48.5 109.7h0M63.1 117.7h0M57.9 112.3h0M52.6 122.8h0M61.5 118.4h0M56.3 113.1h0M57.1 120.6h0M50.4 123.2h0M54.1 125.7h0M53.8 121.9h0M50.2 124.5h0M55.9 125.0h0M59.9 115.6h0M54.0 120.8h0M54.6 118.3h0M60.1 112.8h0M59.7 124.8h0M53.1 122.7h0M54.2 129.7h0M53.5 121.6h0M49.1 124.1h0M53.0 122.5h0M49.5 118.6h0M52.0 115.0h0M49.2 119.7h0M56.1 79.6h0M60.7 89.5h0M28.2 76.5h0M30.8 82.2h0M60.6 87.9h0M53.9 81.7h0M16.0 87.7h0M56.5 97.5h0M73.8 88.4h0M27.1 91.5h0M35.1 104.9h0M47.3 83.5h0M27.0 90.3h0M46.5 74.3h0M61.0 81.8h0M53.7 82.8h0" stroke="#000" stroke-opacity="0.95" stroke-width="1.2" stroke-linecap="round" fill="none"/>
<path d="M54.2 113.4h0M72.7 62.5h0M20.7 114.9h0M69.0 49.0h0M81.0 74.7h0M26.8 125.0h0M24.4 58.9h0M21.0 49.1h0M68.3 117.2h0M47.3 113.7h0M15.4 88.2h0M22.4 56.7h0M44.3 70.9h0M16.6 83.8h0" stroke="#000" stroke-opacity="0.3" stroke-width="1.2" stroke-linecap="round" fill="none"/>
<line x1="12" y1="132.5" x2="102" y2="132.5" stroke="#333" stroke-width="1" stroke-dasharray="1 1.6" stroke-opacity="0.7"/>
<line x1="11.5" y1="46" x2="11.5" y2="132" stroke="#333" stroke-width="1" stroke-dasharray="1 1.6" stroke-opacity="0.5"/>
<text transform="matrix(0.13816,0,0,0.14268,15.711,57.575)" font-size="60" font-family='"Liberation Sans", sans-serif' font-weight="normal" fill="#111" stroke="#111" stroke-width="1.78" stroke-linejoin="round">CD3</text>
<text transform="matrix(0.13017,0,0,0.13537,79.735,127.875)" font-size="60" font-family='"Liberation Sans", sans-serif' font-weight="normal" fill="#111" stroke="#111" stroke-width="1.88" stroke-linejoin="round">GAS</text>
<text transform="matrix(0.07024,0,0,0.07805,9.269,136.850)" font-size="60" font-family='"Liberation Sans", sans-serif' font-weight="bold" fill="#1a1a1a" stroke="#1a1a1a" stroke-width="4.05" stroke-linejoin="round">10°</text>
<text transform="matrix(0.07284,0,0,0.07805,31.509,136.850)" font-size="60" font-family='"Liberation Sans", sans-serif' font-weight="bold" fill="#1a1a1a" stroke="#1a1a1a" stroke-width="3.98" stroke-linejoin="round">10¹</text>
<text transform="matrix(0.07284,0,0,0.07619,53.759,136.850)" font-size="60" font-family='"Liberation Sans", sans-serif' font-weight="bold" fill="#1a1a1a" stroke="#1a1a1a" stroke-width="4.03" stroke-linejoin="round">10²</text>
<text transform="matrix(0.07284,0,0,0.07619,76.009,136.850)" font-size="60" font-family='"Liberation Sans", sans-serif' font-weight="bold" fill="#1a1a1a" stroke="#1a1a1a" stroke-width="4.03" stroke-linejoin="round">10³</text>
<text transform="matrix(0.06629,0,0,0.07805,98.285,136.850)" font-size="60" font-family='"Liberation Sans", sans-serif' font-weight="bold" fill="#1a1a1a" stroke="#1a1a1a" stroke-width="4.16" stroke-linejoin="round">10⁴</text>
<text transform="matrix(0.10193,0,0,0.05854,14.040,141.450)" font-size="60" font-family='"Liberation Sans", sans-serif' font-weight="normal" fill="#222" stroke="#222" stroke-width="3.74" stroke-linejoin="round">FL1 —&gt;</text>
<text transform="matrix(0,-0.06786,0.06098,0,10.050,134.621)" font-size="60" font-family='"Liberation Sans", sans-serif' font-weight="bold" fill="#1a1a1a" stroke="#1a1a1a" stroke-width="4.66" stroke-linejoin="round">10°</text>
<text transform="matrix(0,-0.07037,0.06098,0,10.050,113.381)" font-size="60" font-family='"Liberation Sans", sans-serif' font-weight="bold" fill="#1a1a1a" stroke="#1a1a1a" stroke-width="4.57" stroke-linejoin="round">10¹</text>
<text transform="matrix(0,-0.07037,0.05952,0,10.050,92.131)" font-size="60" font-family='"Liberation Sans", sans-serif' font-weight="bold" fill="#1a1a1a" stroke="#1a1a1a" stroke-width="4.62" stroke-linejoin="round">10²</text>
<text transform="matrix(0,-0.07037,0.05952,0,10.050,70.881)" font-size="60" font-family='"Liberation Sans", sans-serif' font-weight="bold" fill="#1a1a1a" stroke="#1a1a1a" stroke-width="4.62" stroke-linejoin="round">10³</text>
<text transform="matrix(0,-0.06404,0.06098,0,10.050,49.606)" font-size="60" font-family='"Liberation Sans", sans-serif' font-weight="bold" fill="#1a1a1a" stroke="#1a1a1a" stroke-width="4.80" stroke-linejoin="round">10⁴</text>
<text transform="matrix(0,-0.09517,0.06098,0,4.650,129.826)" font-size="60" font-family='"Liberation Sans", sans-serif' font-weight="normal" fill="#222" stroke="#222" stroke-width="3.84" stroke-linejoin="round">FL2 —&gt;</text>
<line x1="11.5" y1="155" x2="11.5" y2="241" stroke="#2a2a2a" stroke-width="1.2"/>
<line x1="100.5" y1="155" x2="100.5" y2="241" stroke="#2a2a2a" stroke-width="1.2"/>
<line x1="11" y1="155.5" x2="101" y2="155.5" stroke="#2a2a2a" stroke-width="1.2"/>
<line x1="11" y1="240.5" x2="101" y2="240.5" stroke="#2a2a2a" stroke-width="1.2"/>
<line x1="34.5" y1="155" x2="34.5" y2="241" stroke="#3a3a3a" stroke-width="1"/>
<line x1="11" y1="219.5" x2="101" y2="219.5" stroke="#3a3a3a" stroke-width="1"/>
<path d="M20.8 235.4h0M45.1 219.7h0M18.6 232.2h0M18.3 236.7h0M24.2 238.3h0M16.0 217.9h0M15.7 222.4h0M44.5 212.0h0M21.1 218.3h0M42.8 209.7h0M16.7 227.8h0M38.7 214.9h0M33.0 226.0h0M26.7 233.9h0M39.3 218.0h0M21.9 236.7h0M45.2 233.1h0M14.9 212.8h0M43.4 234.5h0M27.3 217.5h0M44.2 222.1h0M15.6 226.8h0M42.8 219.4h0M45.7 229.2h0M36.3 225.1h0M14.7 233.4h0M14.9 234.0h0M18.8 235.1h0M45.0 211.5h0M30.2 223.2h0M28.1 209.4h0M39.8 239.7h0M17.3 216.9h0M18.6 235.8h0M14.5 236.9h0M14.0 211.6h0M37.2 229.9h0M39.2 232.9h0M29.5 230.3h0M36.3 218.2h0M18.7 235.3h0M15.2 229.3h0M18.9 231.9h0M44.2 238.8h0M36.3 212.2h0M41.0 234.4h0M21.2 233.4h0M38.9 210.3h0M26.2 218.0h0M13.5 234.4h0M15.5 216.1h0M32.3 238.7h0M24.0 234.7h0M26.0 212.1h0M13.3 233.2h0M31.8 232.9h0M46.5 210.9h0M28.8 225.0h0M25.5 227.8h0M19.1 220.6h0M33.1 215.9h0M21.0 226.5h0M41.3 222.2h0M19.0 229.7h0M28.8 209.0h0M27.2 233.4h0M43.6 220.7h0M43.4 232.4h0M34.6 224.6h0M16.5 231.6h0M35.8 239.4h0M13.3 218.1h0M22.3 211.8h0M29.3 228.3h0M14.7 220.2h0M21.5 223.6h0M12.4 212.1h0M15.6 229.8h0M16.8 225.0h0M45.9 230.4h0M16.7 218.9h0M31.5 237.7h0M35.8 224.1h0M14.5 219.3h0M42.8 237.4h0M22.0 210.5h0M40.2 230.9h0M35.9 226.8h0M46.8 228.5h0M41.1 211.7h0M46.6 221.8h0M15.0 210.7h0M29.5 231.9h0M22.6 228.1h0M17.7 228.5h0M31.0 224.3h0M20.7 210.7h0M13.6 214.5h0M45.9 209.9h0M43.7 232.6h0M23.3 233.4h0M32.4 226.0h0M13.1 230.3h0M28.4 232.5h0M24.5 239.4h0M44.3 231.8h0M13.0 210.5h0M33.1 224.9h0M22.6 229.2h0M24.1 229.9h0M15.5 219.6h0M41.5 218.8h0M31.7 238.0h0M25.7 215.2h0M28.5 234.1h0M42.2 220.7h0M14.0 226.1h0M21.1 230.2h0M34.7 233.9h0M29.3 224.5h0M33.9 211.6h0M16.8 223.5h0M45.7 224.2h0M15.6 217.7h0M32.6 213.5h0M22.3 222.8h0M42.0 226.3h0M21.4 220.0h0M18.7 210.3h0M44.6 231.3h0M17.0 219.7h0M27.9 231.5h0M39.8 217.8h0M20.3 225.9h0M22.1 210.2h0M40.1 218.8h0M31.0 226.1h0M46.1 216.2h0M16.8 213.2h0M44.7 232.7h0M25.8 217.7h0M14.0 229.1h0M20.3 213.5h0M24.4 209.7h0M26.3 218.6h0M46.0 224.4h0M29.3 228.3h0M43.7 238.8h0M27.6 229.7h0M36.5 228.4h0M20.0 220.8h0M46.5 232.5h0M29.6 210.7h0M39.9 212.1h0M18.0 227.4h0M30.3 228.3h0M18.4 210.9h0M17.9 226.0h0M24.6 236.9h0M41.3 216.1h0M30.8 230.8h0M20.9 238.0h0M21.4 214.5h0M26.1 226.2h0M17.5 228.3h0M30.4 227.0h0M35.0 222.0h0M21.0 239.3h0M30.0 217.6h0M13.6 231.1h0M45.0 220.3h0M21.6 214.3h0M46.3 216.3h0M37.0 219.4h0M41.6 218.5h0M13.3 213.8h0M45.3 213.7h0M15.1 226.6h0M45.0 210.7h0M25.3 228.8h0M20.9 221.0h0M32.5 219.9h0M33.4 221.2h0M38.6 229.2h0M18.3 233.0h0M42.7 225.5h0M12.5 218.1h0M37.4 219.1h0M12.8 229.9h0M44.1 225.2h0M23.1 213.7h0M30.4 228.1h0M14.9 238.4h0M15.3 212.8h0M21.3 210.9h0M16.3 227.9h0M46.7 226.3h0M32.2 227.7h0M36.6 225.1h0M29.4 214.4h0M12.9 216.2h0M44.9 231.3h0M28.6 211.1h0M40.7 224.7h0M30.9 220.9h0M17.1 216.9h0M15.5 235.5h0M42.8 217.5h0M30.5 226.3h0M41.7 211.0h0M33.5 234.7h0M46.4 223.0h0M17.9 213.9h0M13.5 230.6h0M34.4 217.1h0M32.2 223.0h0M33.0 215.1h0M26.9 230.1h0M46.8 232.8h0M34.9 224.6h0M34.8 209.6h0M44.0 218.9h0M22.3 212.2h0M38.8 234.7h0M24.6 217.8h0M35.3 237.4h0M26.0 236.8h0M32.4 214.6h0M23.3 225.8h0M39.2 231.3h0M24.6 229.0h0M46.5 227.5h0M39.6 238.3h0M44.4 239.4h0M20.5 234.0h0M29.6 233.8h0M29.9 210.5h0M39.9 213.9h0M26.1 236.7h0M17.0 221.2h0M25.8 219.2h0M13.6 224.2h0M32.9 227.3h0M21.3 230.5h0M44.3 238.9h0M31.4 238.3h0M12.2 226.3h0M20.9 219.3h0M15.2 233.3h0M28.3 231.6h0M25.0 219.6h0M37.0 238.6h0M44.7 214.5h0M20.4 219.0h0M16.1 211.4h0M31.0 209.8h0M45.6 209.9h0M29.5 228.0h0M33.6 219.4h0M41.5 219.7h0M30.9 221.7h0M37.8 222.3h0M17.6 230.7h0M20.3 225.9h0M42.7 217.7h0M22.1 212.5h0M18.5 239.4h0M22.8 237.0h0M17.8 237.4h0M45.0 231.6h0M33.1 226.1h0M36.8 211.1h0M15.6 224.2h0M37.5 204.6h0M40.6 213.0h0M27.7 202.0h0M31.4 203.7h0M32.7 212.3h0M17.7 207.1h0M51.0 213.2h0M26.6 215.3h0M36.0 209.2h0M29.4 202.5h0M54.6 210.6h0M28.3 213.9h0M35.9 199.1h0M38.7 203.9h0M32.7 207.7h0M48.4 211.4h0M31.6 210.4h0M35.0 213.7h0M26.0 214.4h0M33.7 204.1h0M34.3 209.4h0M48.0 212.0h0M25.4 216.2h0M27.7 214.4h0M28.5 212.4h0M22.5 209.8h0M15.3 205.6h0M33.3 214.5h0M35.0 205.4h0M24.5 208.9h0M29.7 210.1h0M25.5 206.1h0M19.8 203.6h0M37.3 215.3h0M20.9 217.7h0M34.7 206.1h0M40.8 200.5h0M31.5 207.5h0M37.8 198.8h0M14.4 205.3h0M16.9 215.6h0M22.0 212.7h0M29.2 211.0h0M24.9 209.9h0M29.4 207.1h0M54.6 208.3h0M24.9 210.1h0M45.0 212.1h0M39.4 207.0h0M28.9 208.5h0M31.6 203.8h0M13.8 213.5h0M19.0 214.0h0M30.5 203.4h0M43.0 205.5h0M33.5 207.3h0M32.4 215.5h0M16.4 211.0h0M52.5 210.7h0M12.3 216.7h0M19.7 205.2h0M42.5 207.0h0M23.4 205.7h0M33.1 207.3h0M26.7 207.7h0M23.1 216.1h0M27.3 213.6h0M39.1 205.8h0M36.4 205.7h0M52.6 213.3h0M32.6 213.6h0M27.1 211.4h0M49.2 208.9h0M26.4 211.3h0M48.7 212.7h0M51.5 204.3h0M52.0 215.9h0M43.9 232.6h0M50.6 224.5h0M57.6 234.4h0M60.2 226.8h0M47.7 216.9h0M51.6 221.6h0M51.2 233.7h0M52.6 230.2h0M50.9 227.7h0M47.8 216.8h0M53.3 227.1h0M49.9 238.2h0M52.7 238.8h0M55.4 239.4h0M56.7 220.2h0M55.7 234.7h0M45.6 214.5h0M50.2 214.7h0M44.5 219.6h0M50.1 235.8h0M55.4 231.9h0M42.3 211.7h0M55.3 225.5h0M49.9 229.3h0M55.4 235.9h0M53.3 225.3h0M51.9 216.2h0M52.4 234.9h0M45.0 215.1h0M57.2 225.1h0M54.7 220.1h0M51.7 224.3h0M52.1 225.6h0M60.0 239.0h0M49.2 233.0h0M62.7 215.1h0M52.5 228.9h0M56.4 218.1h0M55.5 220.2h0M55.4 225.9h0M53.5 232.8h0M62.5 236.5h0M51.5 218.9h0M45.8 216.5h0M45.7 217.8h0M52.8 226.2h0M45.3 215.3h0M56.0 221.9h0M60.3 233.7h0M65.4 228.9h0M52.9 230.8h0M44.6 229.7h0M54.5 222.7h0M49.2 223.2h0M46.5 229.3h0M56.9 224.7h0M53.2 212.3h0M49.3 222.0h0M48.8 204.6h0M45.1 218.4h0M48.2 218.8h0M63.5 213.7h0M49.2 216.8h0M51.9 217.1h0M53.1 216.0h0M50.4 215.5h0M49.2 231.2h0M50.3 222.8h0M52.5 226.9h0M59.1 205.4h0M49.7 228.8h0M54.5 217.9h0M47.8 230.7h0M60.0 226.3h0M58.1 220.3h0M54.2 235.3h0M46.7 215.2h0M53.1 226.4h0M59.7 225.6h0M53.3 218.8h0M38.5 232.4h0M55.5 221.0h0M52.2 228.2h0M59.5 214.1h0M55.7 211.4h0M40.6 234.0h0M52.4 216.8h0M58.7 225.7h0M55.2 228.5h0M58.6 222.7h0M66.0 223.2h0M66.5 224.2h0M62.9 220.3h0M68.3 217.0h0M63.8 223.3h0M70.7 234.2h0M64.2 222.2h0M67.8 230.0h0M62.1 228.4h0M58.7 221.4h0M62.0 232.8h0M54.7 229.0h0M61.7 219.5h0M70.6 226.2h0M68.4 227.6h0M67.1 227.9h0M54.2 239.1h0M62.1 226.3h0M59.5 222.2h0M62.9 216.3h0M69.7 223.9h0M56.0 235.9h0M56.9 227.5h0M62.3 219.6h0M54.2 211.5h0M60.1 212.4h0M57.5 226.4h0M61.5 222.7h0M60.1 229.2h0M63.4 213.3h0M61.2 226.3h0M60.5 211.5h0M63.4 222.6h0M55.4 208.1h0M63.9 219.2h0M59.0 229.5h0M26.9 191.6h0M44.3 191.4h0M43.0 192.7h0M42.3 204.3h0M38.8 186.3h0M32.8 192.8h0M27.8 198.6h0M38.2 196.6h0M14.5 185.7h0M29.4 198.3h0M38.0 205.6h0M44.5 199.8h0M16.9 185.4h0M21.8 197.9h0M26.2 185.6h0M14.7 189.5h0M35.6 186.6h0" stroke="#000" stroke-opacity="0.45" stroke-width="1.2" stroke-linecap="round" fill="none"/>
<path d="M20.1 239.6h0M35.5 236.4h0M43.4 233.2h0M42.0 231.5h0M31.0 234.7h0M26.6 227.2h0M28.4 238.3h0M18.6 220.7h0M35.5 212.5h0M45.1 221.6h0M14.3 211.4h0M34.7 218.3h0M26.3 210.2h0M19.0 237.4h0M45.1 224.8h0M16.7 210.6h0M23.3 233.1h0M18.0 219.2h0M44.0 221.8h0M33.0 211.4h0M30.8 212.9h0M43.7 227.8h0M19.8 217.2h0M45.0 239.8h0M28.7 218.9h0M38.0 214.7h0M43.2 231.9h0M19.4 232.3h0M22.9 234.4h0M42.5 225.6h0M39.4 224.0h0M28.0 233.2h0M15.8 229.2h0M36.4 217.8h0M22.3 235.9h0M12.2 232.1h0M43.6 212.4h0M20.6 219.6h0M38.3 210.8h0M13.2 216.4h0M44.7 231.3h0M14.0 224.9h0M12.4 211.8h0M16.3 235.9h0M12.2 228.4h0M29.6 222.9h0M14.7 230.2h0M26.3 234.2h0M39.8 217.6h0M46.9 239.1h0M15.4 212.4h0M42.8 219.8h0M27.2 238.6h0M23.0 232.3h0M31.1 216.9h0M20.3 216.2h0M26.7 230.0h0M41.4 216.6h0M34.9 219.5h0M24.9 231.4h0M22.1 212.6h0M20.6 232.2h0M33.4 231.9h0M29.1 237.5h0M46.3 236.3h0M14.0 219.0h0M18.5 230.0h0M16.3 210.1h0M40.2 237.2h0M18.6 215.5h0M38.8 209.2h0M12.8 218.9h0M46.8 238.4h0M43.0 234.0h0M21.9 235.6h0M42.9 218.0h0M43.5 216.4h0M39.0 223.6h0M39.5 225.4h0M19.8 211.3h0M42.3 225.6h0M37.9 228.2h0M44.1 226.2h0M31.0 220.4h0M38.2 217.7h0M35.8 227.7h0M46.4 215.2h0M29.0 226.3h0M26.4 229.5h0M44.7 230.7h0M37.2 233.4h0M38.1 225.9h0M39.7 237.1h0M36.8 226.8h0M30.9 218.8h0M33.8 235.1h0M43.1 238.5h0M43.2 220.0h0M43.8 239.7h0M32.3 227.9h0M27.1 233.0h0M35.3 220.8h0M26.6 209.7h0M43.4 234.6h0M41.8 221.4h0M22.6 214.2h0M30.1 219.1h0M30.3 225.5h0M42.5 235.2h0M19.5 225.2h0M40.7 233.6h0M44.4 213.3h0M25.6 231.8h0M15.7 235.6h0M45.8 220.0h0M38.7 217.9h0M44.5 214.4h0M19.5 237.8h0M45.1 213.0h0M24.7 213.9h0M32.7 235.7h0M16.2 222.9h0M38.9 227.2h0M36.0 238.8h0M22.9 236.9h0M43.2 232.0h0M19.4 231.7h0M17.6 222.4h0M30.3 216.6h0M46.6 212.4h0M38.7 226.3h0M31.9 226.5h0M22.6 239.6h0M38.1 218.2h0M21.7 233.4h0M15.8 232.1h0M25.7 233.1h0M45.2 231.4h0M20.4 223.7h0M29.1 218.4h0M16.5 211.6h0M43.9 231.9h0M22.9 211.1h0M38.2 221.8h0M40.9 210.4h0M23.7 236.9h0M14.8 210.9h0M28.8 220.0h0M19.2 227.7h0M44.8 233.0h0M28.5 225.6h0M39.5 234.8h0M35.1 226.5h0M12.2 223.2h0M13.1 237.7h0M43.8 218.1h0M32.8 235.3h0M39.1 229.8h0M24.9 222.1h0M17.8 229.2h0M23.4 217.4h0M16.8 210.4h0M34.7 219.8h0M43.8 236.2h0M34.9 217.1h0M45.5 218.6h0M44.8 216.6h0M12.2 229.2h0M23.5 222.8h0M43.5 209.7h0M17.2 228.5h0M26.8 228.8h0M24.3 216.5h0M15.1 226.6h0M29.0 231.1h0M30.4 216.5h0M20.3 233.6h0M41.7 216.0h0M39.8 239.6h0M46.0 231.6h0M15.2 232.0h0M38.0 221.4h0M21.7 226.8h0M33.6 236.8h0M30.8 225.2h0M26.2 213.9h0M19.9 211.2h0M37.2 214.9h0M45.7 212.1h0M13.6 236.6h0M46.8 237.7h0M25.0 225.4h0M37.7 215.9h0M25.3 222.9h0M39.9 237.9h0M22.4 232.2h0M13.6 220.5h0M23.5 227.7h0M43.0 215.3h0M25.5 209.4h0M22.5 232.9h0M12.9 216.4h0M40.1 226.8h0M24.9 215.6h0M36.2 211.2h0M38.4 217.9h0M14.9 209.7h0M37.6 231.6h0M22.3 230.1h0M21.6 225.8h0M41.6 210.0h0M27.7 238.5h0M12.8 219.2h0M29.6 224.7h0M29.4 223.0h0M46.9 222.7h0M27.7 235.4h0M40.7 212.1h0M21.6 232.5h0M40.4 234.4h0M32.3 220.7h0M44.3 232.1h0M19.5 221.7h0M26.1 226.5h0M22.7 210.8h0M12.8 234.7h0M43.1 224.0h0M24.1 234.3h0M28.4 221.2h0M36.4 231.6h0M26.5 228.6h0M36.3 226.3h0M35.9 223.6h0M16.0 218.1h0M32.2 237.9h0M12.6 223.0h0M33.7 223.3h0M42.4 220.6h0M14.2 233.9h0M29.6 227.1h0M35.6 233.5h0M28.9 235.8h0M14.7 223.8h0M20.4 227.8h0M20.6 215.3h0M44.3 223.8h0M19.3 223.7h0M21.7 231.5h0M13.9 232.3h0M46.6 215.5h0M24.0 217.2h0M43.2 225.0h0M29.7 216.1h0M29.0 220.2h0M18.3 218.7h0M34.8 222.9h0M14.3 232.3h0M28.6 226.0h0M26.8 233.7h0M43.0 229.9h0M45.6 220.1h0M43.1 232.1h0M44.6 228.8h0M28.8 230.9h0M37.5 230.7h0M35.5 232.7h0M35.5 236.2h0M40.6 209.8h0M36.6 211.5h0M33.4 208.7h0M32.4 208.5h0M51.6 215.8h0M26.4 208.0h0M31.9 204.5h0M44.5 207.4h0M37.5 208.1h0M22.3 213.8h0M23.9 211.7h0M26.2 212.3h0M24.2 211.3h0M39.8 203.5h0M16.1 215.5h0M38.8 208.2h0M30.1 211.7h0M23.3 219.4h0M38.2 209.9h0M54.0 205.4h0M33.3 219.6h0M38.9 219.3h0M19.5 209.3h0M38.5 205.8h0M21.2 203.6h0M24.9 204.4h0M51.2 201.9h0M31.5 204.2h0M37.5 204.5h0M39.7 201.8h0M14.2 210.1h0M23.4 212.0h0M20.0 212.1h0M27.4 209.1h0M19.2 211.3h0M25.2 206.5h0M26.2 207.2h0M15.6 213.5h0M32.4 203.9h0M37.7 208.3h0M22.3 209.0h0M46.4 207.9h0M43.4 213.1h0M26.3 205.0h0M26.1 205.0h0M34.6 215.1h0M39.5 208.3h0M27.5 209.9h0M29.1 201.8h0M37.2 214.2h0M34.4 213.3h0M12.5 206.4h0M40.1 210.8h0M46.2 210.7h0M19.1 207.3h0M28.2 206.8h0M44.5 207.1h0M41.4 210.5h0M13.4 212.3h0M26.0 217.5h0M29.4 211.2h0M29.2 214.4h0M36.8 212.6h0M16.5 209.2h0M40.2 210.8h0M33.2 204.1h0M31.6 210.8h0M46.6 214.0h0M23.2 209.1h0M30.7 216.5h0M30.9 212.0h0M42.0 209.4h0M43.7 220.9h0M20.4 205.0h0M33.6 210.5h0M45.9 212.8h0M42.7 212.3h0M43.7 207.1h0M19.9 209.7h0M29.7 205.6h0M29.0 204.6h0M45.7 210.2h0M45.2 204.9h0M60.8 228.5h0M37.8 219.9h0M53.2 228.2h0M57.3 224.1h0M47.2 229.0h0M60.6 227.0h0M65.1 223.0h0M54.4 227.7h0M38.6 234.6h0M54.1 212.0h0M52.2 220.3h0M61.0 216.2h0M50.7 210.3h0M55.8 224.2h0M55.8 223.2h0M50.5 222.0h0M56.6 233.1h0M55.9 218.9h0M56.9 230.6h0M49.8 211.1h0M51.8 220.0h0M52.8 231.7h0M43.0 229.0h0M58.8 225.6h0M61.8 214.0h0M48.6 222.0h0M61.9 230.7h0M49.3 225.5h0M65.5 212.4h0M48.1 218.4h0M64.3 219.5h0M60.6 226.6h0M49.0 224.4h0M57.6 231.4h0M52.3 222.7h0M52.3 225.7h0M44.6 210.4h0M57.1 234.3h0M47.9 222.5h0M50.7 227.6h0M57.7 223.4h0M49.1 224.3h0M57.1 213.4h0M54.8 230.8h0M49.1 225.7h0M52.3 229.8h0M51.7 222.4h0M59.9 226.1h0M47.4 225.9h0M47.1 220.8h0M55.6 236.1h0M44.9 234.5h0M45.9 208.3h0M60.5 222.5h0M45.1 229.9h0M48.8 237.6h0M49.6 211.5h0M43.6 217.8h0M43.9 218.5h0M61.3 209.1h0M43.0 218.0h0M56.1 234.4h0M61.3 217.5h0M52.1 226.2h0M41.2 232.6h0M57.7 209.0h0M48.8 229.2h0M60.5 217.1h0M60.8 231.1h0M51.5 220.2h0M55.7 233.1h0M50.0 217.3h0M39.2 219.7h0M52.1 228.0h0M51.5 217.6h0M55.4 223.3h0M45.5 234.1h0M55.9 228.8h0M40.6 228.9h0M58.9 217.4h0M38.1 220.5h0M52.5 237.1h0M64.0 234.4h0M65.9 220.5h0M71.8 233.7h0M62.7 226.8h0M53.4 229.7h0M69.7 209.3h0M69.1 234.0h0M56.4 226.2h0M57.9 222.4h0M61.1 224.0h0M61.2 225.2h0M60.4 216.4h0M56.5 218.9h0M62.1 219.7h0M72.2 229.9h0M63.2 219.9h0M58.8 232.7h0M65.1 227.1h0M57.2 225.1h0M56.4 225.5h0M62.3 232.9h0M57.7 230.2h0M58.7 212.9h0M68.9 217.1h0M15.2 199.8h0M28.4 189.1h0M35.9 188.6h0M40.2 182.2h0M20.1 199.5h0M23.0 198.5h0M44.6 185.6h0" stroke="#000" stroke-opacity="0.7" stroke-width="1.2" stroke-linecap="round" fill="none"/>
<path d="M21.0 214.2h0M27.9 213.0h0M44.3 223.1h0M44.8 224.5h0M42.5 235.2h0M19.7 237.7h0M39.8 212.6h0M35.2 210.5h0M39.3 224.8h0M12.7 227.2h0M37.5 226.1h0M36.9 214.0h0M31.5 228.9h0M45.1 220.2h0M40.0 228.6h0M29.5 219.4h0M27.7 229.9h0M36.0 231.7h0M33.6 216.1h0M22.2 210.1h0M40.7 221.8h0M26.2 213.0h0M38.7 217.1h0M20.4 218.2h0M14.4 232.2h0M18.6 216.6h0M36.1 221.5h0M36.2 225.4h0M36.3 211.9h0M33.2 211.0h0M17.1 232.7h0M16.3 229.3h0M43.1 234.6h0M42.1 222.4h0M30.7 238.1h0M39.1 215.2h0M38.3 230.1h0M35.8 235.5h0M29.0 239.2h0M26.2 239.5h0M29.0 236.7h0M41.9 234.0h0M14.6 210.7h0M39.6 220.9h0M19.8 222.7h0M17.3 209.3h0M21.7 223.0h0M28.4 211.7h0M22.3 210.5h0M27.2 211.1h0M43.0 222.6h0M31.8 221.4h0M35.9 231.6h0M13.4 211.2h0M36.2 210.6h0M19.7 239.5h0M22.3 220.7h0M18.3 210.4h0M16.6 218.5h0M32.2 219.8h0M12.3 221.0h0M45.3 220.6h0M35.2 217.4h0M46.8 239.4h0M23.6 239.3h0M21.1 233.1h0M44.8 221.7h0M42.5 237.7h0M42.0 222.6h0M43.4 211.7h0M36.0 209.3h0M40.1 214.0h0M24.3 225.6h0M40.2 233.1h0M33.7 213.5h0M16.4 228.1h0M24.1 218.1h0M27.9 213.0h0M39.5 223.3h0M26.9 225.0h0M18.0 210.0h0M13.9 234.5h0M40.9 224.5h0M28.8 219.6h0M39.7 238.3h0M40.9 229.6h0M20.3 231.6h0M41.2 209.6h0M41.0 221.6h0M13.6 226.6h0M38.8 226.5h0M37.2 211.6h0M25.8 236.0h0M37.0 235.2h0M32.7 213.1h0M30.1 236.1h0M17.0 225.7h0M38.3 221.3h0M26.1 210.2h0M44.6 226.2h0M26.3 225.4h0M46.2 228.2h0M43.0 216.1h0M16.5 227.4h0M21.8 217.2h0M39.4 236.4h0M24.4 214.2h0M37.5 209.5h0M29.0 226.2h0M37.4 239.4h0M39.3 228.5h0M22.8 231.2h0M14.0 233.2h0M25.7 219.5h0M21.6 222.6h0M21.1 219.3h0M38.3 215.4h0M40.0 225.9h0M15.6 217.5h0M42.0 234.0h0M15.8 229.4h0M29.2 210.5h0M34.4 233.0h0M30.2 237.8h0M24.0 236.6h0M13.3 234.6h0M34.4 226.4h0M23.5 233.8h0M22.2 221.1h0M18.7 230.9h0M35.0 214.7h0M36.3 225.2h0M16.1 230.6h0M12.5 222.9h0M33.1 220.7h0M20.9 231.0h0M36.3 210.8h0M31.8 213.3h0M26.3 234.2h0M12.5 225.4h0M28.9 235.9h0M36.2 236.4h0M23.3 214.2h0M18.5 215.9h0M12.8 216.3h0M27.0 239.7h0M39.3 214.8h0M14.5 230.3h0M23.3 209.3h0M19.6 215.6h0M22.3 221.3h0M28.2 232.3h0M30.3 227.1h0M16.7 213.9h0M19.0 219.9h0M32.9 219.2h0M40.0 213.8h0M30.9 223.7h0M17.6 215.1h0M41.5 221.5h0M30.8 236.4h0M41.6 231.9h0M34.5 235.4h0M34.5 230.6h0M41.2 210.6h0M16.5 232.3h0M13.5 218.9h0M42.2 215.5h0M19.3 216.9h0M40.7 223.4h0M39.1 229.6h0M45.6 233.6h0M17.7 224.8h0M17.3 213.4h0M24.9 213.4h0M40.5 227.6h0M17.3 212.6h0M46.5 217.1h0M26.6 214.3h0M13.5 239.5h0M19.3 235.5h0M19.0 227.1h0M24.1 234.1h0M23.1 233.0h0M15.3 237.2h0M43.1 223.0h0M29.2 212.3h0M38.7 234.7h0M12.6 220.5h0M35.8 235.4h0M33.4 217.8h0M46.4 217.4h0M38.3 236.3h0M29.9 222.8h0M46.8 236.9h0M13.7 220.9h0M16.6 233.1h0M25.9 223.6h0M27.3 230.6h0M45.9 219.8h0M17.4 215.7h0M43.2 219.7h0M17.2 239.6h0M31.2 223.6h0M29.3 234.5h0M45.8 238.8h0M39.3 221.0h0M39.9 225.4h0M20.1 238.4h0M20.5 225.7h0M25.3 223.1h0M38.0 222.4h0M28.0 213.2h0M29.9 227.0h0M16.2 231.0h0M12.9 212.1h0M43.8 211.8h0M29.2 230.7h0M34.9 233.8h0M35.5 212.5h0M38.1 231.1h0M40.7 221.6h0M14.3 209.4h0M40.4 219.7h0M12.7 219.1h0M37.9 226.3h0M21.9 226.1h0M40.1 211.9h0M35.8 226.1h0M14.9 233.2h0M35.7 220.7h0M42.9 214.1h0M22.1 223.8h0M37.5 220.2h0M13.6 231.2h0M18.9 238.3h0M42.1 212.6h0M45.5 238.6h0M25.8 213.7h0M24.8 214.5h0M19.0 220.1h0M28.6 224.9h0M22.4 229.2h0M25.6 219.8h0M43.1 217.2h0M33.1 233.6h0M31.9 214.3h0M39.4 225.8h0M20.5 239.3h0M32.7 229.0h0M39.7 236.2h0M38.7 237.6h0M21.7 237.3h0M38.1 216.7h0M38.6 234.0h0M16.5 230.9h0M12.9 219.7h0M44.6 218.3h0M19.3 213.6h0M19.3 216.2h0M34.8 209.6h0M18.6 230.4h0M37.9 234.9h0M32.0 215.7h0M42.3 236.2h0M36.5 229.6h0M15.7 216.0h0M21.2 215.1h0M26.5 233.1h0M25.7 216.2h0M17.8 239.5h0M12.3 212.3h0M20.6 199.9h0M28.2 220.6h0M35.7 200.7h0M48.5 209.1h0M31.0 214.5h0M50.8 214.3h0M21.0 209.9h0M31.0 212.1h0M21.2 199.7h0M30.2 207.5h0M42.3 205.8h0M24.1 215.9h0M27.3 216.6h0M18.8 206.3h0M56.8 216.2h0M25.3 202.4h0M27.0 210.2h0M31.8 209.7h0M19.5 218.0h0M29.9 207.3h0M23.4 209.5h0M45.5 208.9h0M40.1 212.6h0M25.7 208.3h0M20.8 213.9h0M44.8 208.1h0M43.6 215.7h0M17.6 220.6h0M35.3 217.2h0M41.4 214.6h0M17.1 219.6h0M38.4 211.2h0M33.8 217.9h0M29.6 207.6h0M33.0 207.5h0M43.0 206.6h0M20.7 216.1h0M24.6 203.9h0M18.4 206.4h0M36.9 208.7h0M38.8 213.2h0M27.6 211.1h0M13.7 214.7h0M27.1 209.9h0M30.6 200.6h0M27.9 212.0h0M31.7 213.6h0M28.2 214.5h0M37.4 207.1h0M23.8 211.7h0M20.6 206.5h0M28.1 211.8h0M17.0 209.7h0M40.9 216.8h0M39.1 205.7h0M45.9 207.5h0M35.1 212.1h0M36.5 213.3h0M23.9 209.9h0M29.7 212.4h0M27.6 211.2h0M32.0 215.4h0M14.7 208.1h0M47.6 205.1h0M33.6 213.2h0M21.5 210.4h0M49.4 212.7h0M37.3 206.7h0M40.4 207.3h0M23.0 212.0h0M22.0 211.4h0M47.8 213.7h0M28.2 213.5h0M37.0 211.3h0M13.1 208.8h0M29.8 205.5h0M18.7 209.4h0M35.3 205.6h0M21.0 204.6h0M23.6 206.6h0M33.0 212.7h0M46.1 214.1h0M33.1 206.1h0M39.5 217.2h0M52.1 212.6h0M26.3 215.5h0M27.9 203.6h0M53.0 225.5h0M58.7 220.7h0M48.4 229.5h0M63.8 229.8h0M62.1 227.1h0M44.2 219.9h0M45.0 215.2h0M55.1 224.0h0M45.9 237.1h0M53.1 230.6h0M45.6 217.4h0M56.1 211.6h0M47.9 223.3h0M55.5 229.1h0M59.2 220.5h0M55.8 221.8h0M56.5 214.9h0M48.0 218.5h0M53.4 220.1h0M48.7 228.5h0M59.2 219.6h0M60.7 237.6h0M48.0 217.8h0M54.4 209.3h0M53.2 219.0h0M48.1 234.1h0M64.7 216.0h0M47.3 233.5h0M50.2 234.1h0M51.1 227.7h0M53.4 218.5h0M51.6 227.2h0M48.2 215.4h0M48.2 225.4h0M53.4 232.9h0M51.5 222.9h0M56.2 227.9h0M55.7 233.0h0M65.7 218.0h0M48.7 224.5h0M57.4 216.3h0M53.5 236.2h0M61.7 226.2h0M49.8 224.0h0M46.9 222.3h0M51.8 225.7h0M37.1 224.4h0M46.3 218.6h0M48.9 232.4h0M48.9 227.6h0M56.6 228.8h0M61.0 234.7h0M58.2 215.7h0M52.9 221.8h0M59.2 234.0h0M48.2 227.9h0M60.1 229.4h0M45.1 213.5h0M48.3 229.9h0M60.9 231.4h0M47.1 227.3h0M51.0 226.1h0M47.2 233.9h0M47.7 224.5h0M60.6 220.0h0M54.9 230.8h0M49.7 215.6h0M50.7 217.5h0M47.5 227.4h0M48.7 220.5h0M54.2 213.7h0M55.9 224.1h0M48.8 216.0h0M56.6 221.8h0M57.1 230.1h0M52.2 225.1h0M51.7 238.6h0M46.3 228.1h0M46.6 230.3h0M50.4 221.9h0M61.6 226.9h0M58.2 220.2h0M51.9 237.1h0M50.8 232.9h0M74.6 220.0h0M56.4 228.9h0M63.5 235.1h0M66.4 230.1h0M62.0 218.6h0M49.0 232.0h0M66.3 232.7h0M60.7 219.8h0M64.6 226.0h0M60.4 234.1h0M54.5 217.4h0M57.7 214.9h0M63.5 217.6h0M65.8 228.2h0M68.6 218.1h0M63.4 232.6h0M63.5 228.4h0M53.1 213.4h0M55.0 218.0h0M61.9 237.6h0M62.5 221.4h0M61.2 215.8h0M61.2 229.2h0M59.9 216.9h0M65.2 230.0h0M64.8 228.0h0M60.4 219.9h0M16.2 182.4h0M26.3 193.3h0M15.6 200.4h0M15.3 201.4h0M41.6 182.3h0M36.7 182.8h0M17.0 204.3h0M40.7 183.7h0M27.6 198.2h0M47.3 182.2h0M46.5 201.3h0M39.3 200.5h0M12.8 188.1h0M45.6 193.4h0M19.7 200.0h0M43.7 199.4h0" stroke="#000" stroke-opacity="0.95" stroke-width="1.2" stroke-linecap="round" fill="none"/>
<path d="M95.6 229.8h0M13.2 184.9h0M89.9 223.3h0M88.3 178.3h0M21.4 163.3h0M74.8 228.3h0M14.7 179.4h0M56.6 212.0h0M30.4 209.1h0M31.5 182.2h0M54.8 215.9h0M56.5 177.3h0M23.8 182.5h0M15.8 161.7h0M64.0 201.4h0M82.9 170.1h0" stroke="#000" stroke-opacity="0.3" stroke-width="1.2" stroke-linecap="round" fill="none"/>
<line x1="11" y1="241.5" x2="101" y2="241.5" stroke="#333" stroke-width="1" stroke-dasharray="1 1.6" stroke-opacity="0.7"/>
<line x1="10.5" y1="155" x2="10.5" y2="241" stroke="#333" stroke-width="1" stroke-dasharray="1 1.6" stroke-opacity="0.5"/>
<text transform="matrix(0.14088,0,0,0.13293,12.752,165.825)" font-size="60" font-family='"Liberation Sans", sans-serif' font-weight="normal" fill="#111" stroke="#111" stroke-width="1.10" stroke-linejoin="round">CD56</text>
<text transform="matrix(0.13182,0,0,0.13780,79.530,237.075)" font-size="60" font-family='"Liberation Sans", sans-serif' font-weight="normal" fill="#111" stroke="#111" stroke-width="1.85" stroke-linejoin="round">GAS</text>
<text transform="matrix(0.07024,0,0,0.07805,8.269,245.850)" font-size="60" font-family='"Liberation Sans", sans-serif' font-weight="bold" fill="#1a1a1a" stroke="#1a1a1a" stroke-width="4.05" stroke-linejoin="round">10°</text>
<text transform="matrix(0.07284,0,0,0.07805,30.509,245.850)" font-size="60" font-family='"Liberation Sans", sans-serif' font-weight="bold" fill="#1a1a1a" stroke="#1a1a1a" stroke-width="3.98" stroke-linejoin="round">10¹</text>
<text transform="matrix(0.07284,0,0,0.07619,52.759,245.850)" font-size="60" font-family='"Liberation Sans", sans-serif' font-weight="bold" fill="#1a1a1a" stroke="#1a1a1a" stroke-width="4.03" stroke-linejoin="round">10²</text>
<text transform="matrix(0.07284,0,0,0.07619,75.009,245.850)" font-size="60" font-family='"Liberation Sans", sans-serif' font-weight="bold" fill="#1a1a1a" stroke="#1a1a1a" stroke-width="4.03" stroke-linejoin="round">10³</text>
<text transform="matrix(0.06629,0,0,0.07805,97.285,245.850)" font-size="60" font-family='"Liberation Sans", sans-serif' font-weight="bold" fill="#1a1a1a" stroke="#1a1a1a" stroke-width="4.16" stroke-linejoin="round">10⁴</text>
<text transform="matrix(0.10193,0,0,0.05854,13.040,250.450)" font-size="60" font-family='"Liberation Sans", sans-serif' font-weight="normal" fill="#222" stroke="#222" stroke-width="3.74" stroke-linejoin="round">FL1 —&gt;</text>
<text transform="matrix(0,-0.06786,0.06098,0,9.050,243.621)" font-size="60" font-family='"Liberation Sans", sans-serif' font-weight="bold" fill="#1a1a1a" stroke="#1a1a1a" stroke-width="4.66" stroke-linejoin="round">10°</text>
<text transform="matrix(0,-0.07037,0.06098,0,9.050,222.381)" font-size="60" font-family='"Liberation Sans", sans-serif' font-weight="bold" fill="#1a1a1a" stroke="#1a1a1a" stroke-width="4.57" stroke-linejoin="round">10¹</text>
<text transform="matrix(0,-0.07037,0.05952,0,9.050,201.131)" font-size="60" font-family='"Liberation Sans", sans-serif' font-weight="bold" fill="#1a1a1a" stroke="#1a1a1a" stroke-width="4.62" stroke-linejoin="round">10²</text>
<text transform="matrix(0,-0.07037,0.05952,0,9.050,179.881)" font-size="60" font-family='"Liberation Sans", sans-serif' font-weight="bold" fill="#1a1a1a" stroke="#1a1a1a" stroke-width="4.62" stroke-linejoin="round">10³</text>
<text transform="matrix(0,-0.06404,0.06098,0,9.050,158.606)" font-size="60" font-family='"Liberation Sans", sans-serif' font-weight="bold" fill="#1a1a1a" stroke="#1a1a1a" stroke-width="4.80" stroke-linejoin="round">10⁴</text>
<text transform="matrix(0,-0.09517,0.06098,0,3.650,238.826)" font-size="60" font-family='"Liberation Sans", sans-serif' font-weight="normal" fill="#222" stroke="#222" stroke-width="3.84" stroke-linejoin="round">FL2 —&gt;</text>
<line x1="11.5" y1="265" x2="11.5" y2="349" stroke="#2a2a2a" stroke-width="1.2"/>
<line x1="99.5" y1="265" x2="99.5" y2="349" stroke="#2a2a2a" stroke-width="1.2"/>
<line x1="11" y1="265.5" x2="100" y2="265.5" stroke="#2a2a2a" stroke-width="1.2"/>
<line x1="11" y1="348.5" x2="100" y2="348.5" stroke="#2a2a2a" stroke-width="1.2"/>
<line x1="33.5" y1="265" x2="33.5" y2="349" stroke="#3a3a3a" stroke-width="1"/>
<line x1="11" y1="328.5" x2="100" y2="328.5" stroke="#3a3a3a" stroke-width="1"/>
<path d="M24.8 337.0h0M13.2 337.1h0M21.2 341.3h0M26.8 347.6h0M16.3 345.1h0M18.6 339.4h0M23.7 340.0h0M23.1 346.7h0M20.3 340.5h0M20.3 343.3h0M21.1 334.0h0M25.9 339.5h0M26.2 334.9h0M25.1 344.3h0M19.9 343.4h0M21.8 334.6h0M14.4 340.0h0M18.9 335.0h0M16.5 342.6h0M12.6 341.9h0M24.4 336.5h0M13.2 344.0h0M26.8 340.1h0M17.6 338.8h0M23.7 335.4h0M22.9 342.8h0M23.1 346.0h0M16.4 337.8h0M19.0 337.1h0M23.3 339.7h0M17.9 339.5h0M23.8 344.6h0M26.7 338.4h0M22.6 341.8h0M26.4 342.7h0M22.6 343.7h0M23.5 337.9h0M16.7 344.7h0M14.6 339.9h0M15.9 346.6h0M12.6 344.2h0M18.5 346.0h0M26.0 336.0h0M21.4 334.7h0M24.8 335.0h0M14.9 346.5h0M19.1 342.7h0M17.4 345.2h0M14.3 336.0h0M18.3 345.5h0M23.1 338.6h0M24.3 336.2h0M23.1 337.2h0M20.7 338.9h0M16.1 343.1h0M23.2 344.1h0M13.8 344.6h0M12.7 336.0h0M21.6 338.8h0M20.1 334.6h0M15.7 346.5h0M19.3 339.9h0M14.4 344.4h0M18.6 341.4h0M13.3 335.4h0M17.8 334.3h0M19.4 346.0h0M20.5 340.7h0M15.3 346.4h0M19.5 339.7h0M18.6 341.7h0M15.3 347.1h0M15.6 347.3h0M22.9 343.5h0M12.3 346.9h0M22.4 335.5h0M19.7 345.3h0M12.7 343.9h0M25.4 343.6h0M24.0 341.2h0M14.6 341.0h0M15.9 338.5h0M17.8 339.5h0M13.8 344.1h0M13.6 343.3h0M20.5 341.4h0M16.3 347.3h0M27.0 344.4h0M15.9 343.5h0M20.3 342.2h0M13.9 338.4h0M17.8 335.2h0M13.5 338.6h0M25.2 345.3h0M22.4 344.5h0M25.6 337.5h0M13.2 337.6h0M26.1 344.0h0M14.7 341.5h0M23.8 334.0h0M22.5 344.2h0M15.5 336.7h0M12.9 334.2h0M19.0 338.1h0M19.3 338.5h0M23.6 343.2h0M21.5 346.9h0M14.7 343.6h0M25.8 340.0h0M12.4 338.6h0M17.9 340.3h0M15.7 334.5h0M19.3 345.3h0M27.0 342.9h0M21.5 343.9h0M14.3 347.1h0M16.5 341.2h0M13.0 343.2h0M15.7 341.0h0M21.6 342.5h0M16.8 336.5h0M14.4 337.8h0M13.0 331.1h0M29.0 336.3h0M24.7 341.8h0M21.8 342.4h0M20.1 341.7h0M14.1 337.8h0M19.3 337.4h0M15.9 340.6h0M25.2 340.4h0M21.6 338.1h0M21.9 340.7h0M20.7 342.2h0M19.0 330.6h0M28.6 337.3h0M16.6 337.9h0M15.8 334.7h0M21.9 342.5h0M21.4 340.7h0M16.0 342.2h0M24.2 335.1h0M24.8 338.3h0M13.7 344.4h0M14.7 337.5h0M17.7 333.5h0M16.5 338.0h0M15.8 330.7h0M20.7 338.0h0M19.1 342.1h0M25.5 339.1h0M12.4 337.7h0M20.9 340.4h0M14.6 341.0h0M18.3 341.1h0M31.4 338.6h0M28.5 346.8h0M22.7 336.2h0M20.5 337.6h0M12.3 338.6h0M20.5 345.4h0M20.3 336.7h0M14.1 340.4h0M19.4 338.3h0M20.2 342.9h0M21.8 346.5h0M23.9 344.4h0M13.1 340.0h0M24.1 338.9h0M17.7 335.9h0M13.9 336.1h0M12.3 346.1h0M15.2 340.9h0M19.9 340.9h0M19.0 344.1h0M18.5 340.6h0M19.7 336.9h0M17.4 338.6h0M21.0 342.4h0M17.8 343.1h0M17.4 338.1h0M19.3 334.5h0M14.3 343.2h0M14.1 342.6h0M20.6 332.9h0M19.2 337.5h0M17.4 336.9h0M15.5 344.5h0M24.7 336.2h0M14.3 339.2h0M19.7 337.6h0M21.4 344.0h0M13.3 341.6h0M25.0 336.6h0M19.0 330.5h0M20.4 342.1h0M15.4 342.7h0M17.8 339.9h0M22.9 341.8h0M17.5 339.5h0M18.0 343.3h0M21.0 338.9h0M18.3 340.2h0M14.1 338.0h0M19.9 341.4h0M19.3 336.7h0M15.1 343.2h0M22.8 338.8h0M21.2 339.5h0M24.9 294.0h0M25.2 291.0h0M28.1 312.9h0M21.2 295.4h0M26.3 295.1h0M28.2 292.1h0M36.2 307.5h0M31.2 301.8h0M18.5 305.3h0M21.9 294.8h0M27.4 306.8h0M46.4 288.4h0M35.8 314.4h0M17.7 304.6h0M45.8 296.0h0M19.5 283.6h0M33.9 287.5h0M36.8 306.3h0M25.5 310.4h0M18.3 295.9h0M43.6 300.7h0M33.5 301.3h0M22.2 297.3h0M40.5 308.8h0M16.9 301.9h0M34.2 289.4h0M25.0 299.9h0M16.7 301.5h0M42.1 289.0h0M45.6 304.4h0M34.5 304.3h0M40.7 308.0h0M26.9 298.3h0M33.2 311.1h0M25.8 293.3h0M38.8 293.2h0M37.8 304.2h0M43.1 308.2h0M46.3 303.4h0M45.1 311.8h0M43.6 297.1h0M39.0 289.1h0M33.4 298.6h0M49.8 302.2h0M49.8 302.7h0M44.6 297.5h0M42.4 295.8h0M46.6 297.6h0M48.4 294.4h0M42.1 298.5h0M49.9 289.0h0M44.7 295.6h0M45.5 292.1h0M41.7 285.3h0M35.1 291.3h0M41.5 294.8h0M49.6 336.2h0M49.2 339.9h0M59.0 338.0h0M51.4 331.4h0M60.7 341.0h0M68.3 331.5h0M66.6 337.6h0M34.6 334.6h0M51.6 336.1h0M53.1 344.7h0M48.1 342.5h0M54.5 335.0h0M65.3 345.9h0M43.5 347.5h0M64.3 330.3h0M60.5 331.8h0M53.1 343.7h0M66.2 342.8h0M39.5 344.8h0M51.0 331.3h0M51.2 343.0h0" stroke="#000" stroke-opacity="0.45" stroke-width="1.2" stroke-linecap="round" fill="none"/>
<path d="M25.7 342.7h0M13.2 347.2h0M24.2 340.6h0M19.5 335.5h0M26.7 341.5h0M26.9 346.0h0M12.5 340.8h0M26.5 343.2h0M13.8 338.7h0M16.8 346.7h0M21.9 345.8h0M23.0 346.4h0M19.2 343.5h0M23.2 343.0h0M20.3 346.1h0M17.6 339.1h0M16.0 338.6h0M18.3 340.8h0M18.0 339.4h0M25.9 345.1h0M25.6 337.6h0M14.8 334.8h0M23.9 337.4h0M16.8 339.3h0M22.0 336.9h0M18.0 341.6h0M24.1 342.1h0M19.6 341.2h0M22.3 334.4h0M23.4 336.2h0M20.0 339.9h0M17.6 341.4h0M20.7 341.8h0M19.9 344.3h0M19.0 346.1h0M20.0 341.9h0M17.1 336.6h0M20.8 342.0h0M16.0 346.7h0M23.3 342.9h0M25.6 346.3h0M19.4 337.0h0M13.8 337.9h0M25.9 342.8h0M20.0 343.3h0M25.5 335.0h0M23.3 341.5h0M21.8 345.7h0M21.5 342.8h0M13.7 337.1h0M25.1 339.0h0M18.3 345.4h0M17.4 342.1h0M20.9 342.8h0M21.2 336.5h0M15.9 343.4h0M24.2 342.7h0M21.2 339.5h0M24.2 343.8h0M26.2 342.5h0M25.5 336.4h0M16.3 340.3h0M20.9 334.9h0M24.4 342.9h0M17.8 337.5h0M19.5 344.9h0M19.8 342.2h0M14.7 343.5h0M19.8 341.6h0M15.0 340.8h0M23.2 334.1h0M25.0 336.3h0M17.0 337.5h0M20.4 343.3h0M14.0 339.8h0M18.8 341.6h0M23.5 343.7h0M26.1 341.2h0M19.5 347.6h0M13.9 341.6h0M23.4 341.2h0M16.6 341.3h0M22.7 337.5h0M24.3 335.3h0M18.5 334.1h0M18.5 347.0h0M19.6 338.3h0M15.2 343.1h0M17.4 340.9h0M17.9 340.6h0M25.0 334.9h0M13.8 337.7h0M25.2 341.1h0M21.5 334.1h0M15.2 342.1h0M22.4 336.6h0M19.2 337.6h0M18.3 337.5h0M21.9 336.1h0M18.9 346.5h0M16.3 338.5h0M17.1 346.4h0M26.4 335.8h0M23.0 341.9h0M12.6 334.1h0M18.8 346.8h0M21.5 344.6h0M13.8 345.9h0M19.3 344.1h0M19.0 339.7h0M26.1 334.5h0M23.4 335.3h0M26.3 337.4h0M17.9 341.7h0M22.4 346.9h0M18.9 330.9h0M22.1 344.1h0M15.3 343.2h0M20.5 340.6h0M14.4 335.1h0M21.5 335.6h0M21.0 343.2h0M21.0 346.6h0M18.4 335.7h0M22.6 339.9h0M21.7 340.2h0M13.9 338.5h0M23.7 331.8h0M19.3 341.1h0M16.9 336.1h0M19.3 341.8h0M19.0 343.0h0M25.8 337.0h0M21.2 333.3h0M21.2 332.3h0M24.8 338.6h0M14.0 336.8h0M24.6 336.8h0M22.8 342.0h0M18.5 343.5h0M21.8 332.2h0M15.4 343.7h0M16.5 337.0h0M18.0 341.3h0M14.3 342.4h0M16.7 342.9h0M20.2 335.8h0M23.7 347.2h0M19.5 337.6h0M21.5 345.4h0M18.4 327.7h0M23.0 335.6h0M19.4 347.6h0M22.4 341.4h0M14.3 336.1h0M22.5 336.7h0M17.4 342.6h0M17.6 343.0h0M19.2 342.0h0M19.8 336.7h0M18.2 341.8h0M17.6 331.2h0M18.4 343.2h0M23.9 339.5h0M14.5 343.7h0M20.1 339.2h0M21.2 335.6h0M19.3 338.1h0M16.4 342.1h0M19.9 337.4h0M14.3 342.0h0M13.3 340.8h0M19.5 341.7h0M16.5 346.7h0M23.4 336.9h0M13.5 335.9h0M13.0 342.1h0M21.9 342.6h0M23.1 342.0h0M23.9 339.3h0M27.3 336.2h0M19.8 343.2h0M21.0 340.4h0M22.6 341.8h0M17.1 341.0h0M26.6 338.2h0M21.7 340.0h0M22.7 331.1h0M19.3 346.1h0M18.0 338.4h0M23.9 342.8h0M21.2 333.7h0M18.6 343.0h0M19.3 334.4h0M22.0 341.1h0M15.8 344.6h0M21.1 334.7h0M17.8 335.4h0M24.4 336.4h0M13.6 345.5h0M19.2 336.8h0M15.7 339.9h0M23.2 345.8h0M17.2 337.0h0M19.5 331.3h0M23.4 341.9h0M21.3 343.4h0M24.1 341.6h0M28.8 338.0h0M22.1 344.4h0M18.0 339.9h0M22.5 341.2h0M17.2 338.1h0M16.3 340.3h0M20.0 335.1h0M13.3 337.3h0M16.9 342.8h0M24.3 343.8h0M26.9 333.1h0M16.4 335.3h0M28.0 298.8h0M36.3 299.5h0M22.1 293.3h0M18.8 299.7h0M41.6 307.6h0M42.2 296.0h0M33.5 294.6h0M28.1 313.9h0M33.6 297.9h0M19.6 295.4h0M23.6 302.6h0M31.4 295.0h0M48.8 306.5h0M23.6 304.9h0M23.5 306.0h0M36.2 286.1h0M20.1 293.2h0M33.8 297.8h0M34.7 303.8h0M31.8 280.0h0M18.8 304.7h0M38.7 301.9h0M22.3 297.7h0M26.2 299.8h0M37.4 303.3h0M28.8 290.7h0M17.1 283.8h0M34.1 305.4h0M22.6 295.7h0M55.8 310.2h0M34.0 285.2h0M34.7 293.6h0M44.4 300.4h0M28.8 288.0h0M15.9 298.0h0M23.9 291.8h0M34.9 305.2h0M29.7 299.5h0M15.9 294.9h0M33.7 290.7h0M42.8 298.3h0M43.7 293.3h0M45.9 301.7h0M38.4 297.6h0M45.2 302.6h0M55.8 298.5h0M51.4 287.0h0M36.2 291.7h0M47.5 304.2h0M44.8 294.6h0M50.1 297.5h0M39.1 295.4h0M37.6 290.1h0M43.4 287.7h0M51.1 346.5h0M65.4 346.2h0M69.8 343.5h0M28.1 339.6h0M51.7 333.1h0M58.8 334.8h0M52.3 330.4h0M57.0 347.7h0M52.8 342.8h0M56.9 347.2h0M54.0 335.0h0M37.2 336.3h0M58.6 329.7h0M56.9 333.6h0M45.6 347.5h0M78.4 346.1h0M37.9 344.8h0M63.0 340.8h0M38.1 337.9h0M55.0 347.3h0M48.5 335.3h0M44.5 335.0h0M45.0 337.5h0M60.6 337.3h0M67.6 339.0h0M42.5 334.5h0M32.2 334.3h0" stroke="#000" stroke-opacity="0.7" stroke-width="1.2" stroke-linecap="round" fill="none"/>
<path d="M25.0 344.8h0M24.2 336.7h0M15.9 336.7h0M26.2 337.0h0M24.2 335.3h0M24.3 336.5h0M18.1 337.4h0M19.8 334.8h0M13.8 338.0h0M15.7 347.5h0M20.1 338.4h0M21.0 334.0h0M15.3 335.9h0M22.8 344.2h0M20.2 335.4h0M12.8 346.8h0M23.1 340.7h0M13.1 339.9h0M26.4 346.7h0M18.8 334.5h0M13.9 342.1h0M23.2 342.8h0M14.4 334.4h0M20.4 347.6h0M18.6 346.2h0M26.5 336.6h0M12.8 334.5h0M21.0 344.5h0M18.4 344.9h0M17.4 341.3h0M24.5 343.1h0M20.3 341.9h0M17.3 342.1h0M19.6 338.0h0M25.8 345.9h0M18.8 335.6h0M24.6 338.5h0M19.2 337.9h0M14.7 335.5h0M18.0 342.7h0M16.3 345.6h0M16.8 337.6h0M17.4 338.4h0M19.2 334.4h0M25.4 340.5h0M21.5 336.1h0M26.3 334.3h0M18.6 339.0h0M20.7 335.8h0M18.2 338.7h0M26.7 335.3h0M23.2 344.6h0M12.9 339.0h0M14.7 341.6h0M23.6 347.2h0M16.3 338.7h0M18.3 337.7h0M15.9 344.8h0M12.5 342.7h0M16.4 335.7h0M16.1 340.9h0M13.7 344.3h0M13.4 343.7h0M12.6 334.8h0M13.7 346.0h0M26.0 345.8h0M13.4 336.0h0M21.6 336.8h0M19.9 335.3h0M22.4 344.9h0M27.0 334.9h0M16.8 338.1h0M21.1 334.4h0M26.2 345.6h0M24.2 343.1h0M14.4 340.6h0M17.1 346.2h0M22.2 345.2h0M16.8 336.9h0M20.0 338.8h0M13.8 344.5h0M24.0 334.5h0M16.7 345.1h0M26.9 337.9h0M15.9 345.0h0M20.1 344.0h0M16.0 341.0h0M27.0 337.5h0M22.6 346.2h0M15.0 342.8h0M23.1 338.8h0M19.8 339.8h0M24.9 340.7h0M17.9 343.5h0M13.4 334.1h0M19.3 345.9h0M18.2 336.5h0M14.3 339.6h0M22.0 338.4h0M17.9 346.9h0M26.4 344.0h0M24.6 339.3h0M13.4 337.8h0M19.4 343.2h0M19.9 342.1h0M14.1 342.8h0M24.3 340.3h0M21.4 335.4h0M20.9 339.3h0M19.0 342.5h0M23.6 345.2h0M12.4 341.7h0M22.4 338.8h0M20.0 340.6h0M18.3 344.0h0M25.9 336.3h0M15.8 335.2h0M25.2 346.9h0M16.2 336.5h0M24.4 342.3h0M26.3 339.8h0M26.4 338.6h0M24.2 344.1h0M25.0 334.3h0M16.0 340.9h0M15.7 339.8h0M12.5 340.4h0M26.8 341.2h0M19.9 344.5h0M13.8 335.5h0M16.5 342.5h0M18.4 334.4h0M25.4 343.4h0M15.8 339.5h0M16.1 334.4h0M22.5 346.4h0M13.2 346.4h0M21.8 334.7h0M18.1 334.9h0M15.4 346.6h0M23.7 340.8h0M24.1 340.4h0M21.0 337.7h0M20.0 341.9h0M18.1 337.1h0M24.1 336.9h0M27.2 341.0h0M13.4 345.1h0M23.9 338.8h0M27.1 341.0h0M25.3 345.5h0M26.3 334.9h0M23.0 341.6h0M21.6 337.6h0M24.1 335.4h0M15.2 339.4h0M16.9 343.5h0M21.7 336.6h0M18.5 338.2h0M19.6 344.3h0M19.3 336.8h0M17.8 339.8h0M19.7 334.5h0M22.3 334.9h0M19.7 343.1h0M15.0 337.4h0M21.7 337.1h0M22.4 336.2h0M13.7 342.6h0M19.0 338.7h0M16.9 336.3h0M13.8 337.7h0M20.5 342.3h0M17.9 347.6h0M22.5 332.4h0M20.3 340.5h0M16.4 339.4h0M18.7 338.7h0M17.6 341.6h0M18.2 338.5h0M13.3 340.8h0M16.3 339.4h0M24.7 341.6h0M12.4 331.8h0M21.5 339.3h0M18.7 343.2h0M18.2 341.4h0M24.4 333.0h0M19.9 337.7h0M21.1 340.5h0M20.6 336.7h0M20.1 345.2h0M18.3 343.1h0M13.2 339.1h0M18.4 337.2h0M23.9 336.8h0M14.7 341.1h0M16.2 336.7h0M30.9 343.3h0M23.6 347.2h0M28.4 338.6h0M16.1 337.0h0M15.9 342.9h0M30.2 345.2h0M19.5 341.0h0M25.5 342.5h0M15.3 339.7h0M20.3 335.3h0M25.2 340.3h0M22.8 336.5h0M15.6 342.2h0M25.2 336.3h0M18.4 340.2h0M14.6 332.6h0M16.1 347.2h0M15.1 345.5h0M23.0 339.8h0M13.6 335.9h0M14.8 347.2h0M23.1 343.2h0M25.4 337.1h0M14.9 345.4h0M20.2 342.3h0M15.6 340.2h0M13.7 345.8h0M20.1 337.6h0M15.7 340.4h0M14.5 342.4h0M12.4 346.3h0M18.6 338.1h0M14.8 339.5h0M20.2 340.0h0M19.3 341.8h0M47.8 303.7h0M29.0 301.1h0M33.8 303.2h0M52.8 304.0h0M32.0 300.5h0M21.0 301.1h0M32.7 303.4h0M35.5 304.8h0M19.4 302.2h0M42.2 310.0h0M28.1 306.3h0M31.5 301.0h0M22.1 288.5h0M33.1 295.4h0M40.7 294.9h0M22.7 299.9h0M29.6 305.9h0M30.3 309.6h0M31.7 300.3h0M22.0 310.5h0M15.5 294.3h0M24.2 303.3h0M18.1 302.9h0M36.9 283.7h0M21.3 306.4h0M26.4 288.9h0M25.1 305.8h0M48.6 289.5h0M52.9 293.1h0M42.6 305.2h0M41.5 291.5h0M35.5 308.9h0M32.5 292.5h0M27.7 301.8h0M39.4 301.0h0M21.3 302.3h0M49.3 291.8h0M50.9 289.3h0M38.9 296.8h0M39.0 299.1h0M35.1 302.5h0M53.0 295.4h0M39.3 297.5h0M46.6 294.6h0M38.2 303.4h0M50.7 343.5h0M45.6 332.0h0M50.1 344.1h0M60.8 344.2h0M40.6 335.0h0M51.6 342.6h0M30.7 335.8h0M51.1 340.4h0M62.6 346.3h0M33.1 341.4h0M72.7 337.6h0M51.1 344.0h0M61.2 322.8h0M51.1 345.8h0M54.0 336.4h0M53.5 344.4h0M57.0 334.3h0M40.7 334.3h0M66.6 339.4h0M44.4 341.5h0M95.2 327.8h0M50.7 333.0h0M66.9 332.8h0M44.5 341.7h0M58.2 328.5h0M50.9 336.3h0M52.3 347.3h0M66.8 336.2h0M48.7 339.1h0M40.4 332.9h0" stroke="#000" stroke-opacity="0.95" stroke-width="1.2" stroke-linecap="round" fill="none"/>
<path d="M69.0 324.9h0M36.2 343.5h0M74.5 323.3h0M32.2 297.5h0M78.6 284.8h0M23.9 344.4h0M27.0 284.3h0M52.8 301.6h0M39.4 309.4h0M19.2 316.9h0M32.9 333.5h0M25.6 313.2h0M14.5 341.0h0M23.1 311.9h0M76.2 311.7h0M48.2 344.7h0M57.4 338.4h0M14.9 306.1h0M36.4 314.0h0M49.6 330.4h0M51.5 298.9h0M75.1 321.7h0" stroke="#000" stroke-opacity="0.3" stroke-width="1.2" stroke-linecap="round" fill="none"/>
<line x1="11" y1="349.5" x2="100" y2="349.5" stroke="#333" stroke-width="1" stroke-dasharray="1 1.6" stroke-opacity="0.7"/>
<line x1="10.5" y1="265" x2="10.5" y2="349" stroke="#333" stroke-width="1" stroke-dasharray="1 1.6" stroke-opacity="0.5"/>
<text transform="matrix(0.13810,0,0,0.13171,12.486,275.200)" font-size="60" font-family='"Liberation Sans", sans-serif' font-weight="normal" fill="#111" stroke="#111" stroke-width="1.48" stroke-linejoin="round">CD19</text>
<text transform="matrix(0.12934,0,0,0.14024,79.137,345.475)" font-size="60" font-family='"Liberation Sans", sans-serif' font-weight="normal" fill="#111" stroke="#111" stroke-width="1.85" stroke-linejoin="round">GAS</text>
<text transform="matrix(0.07024,0,0,0.07805,8.269,353.850)" font-size="60" font-family='"Liberation Sans", sans-serif' font-weight="bold" fill="#1a1a1a" stroke="#1a1a1a" stroke-width="4.05" stroke-linejoin="round">10°</text>
<text transform="matrix(0.07284,0,0,0.07805,30.259,353.850)" font-size="60" font-family='"Liberation Sans", sans-serif' font-weight="bold" fill="#1a1a1a" stroke="#1a1a1a" stroke-width="3.98" stroke-linejoin="round">10¹</text>
<text transform="matrix(0.07284,0,0,0.07619,52.259,353.850)" font-size="60" font-family='"Liberation Sans", sans-serif' font-weight="bold" fill="#1a1a1a" stroke="#1a1a1a" stroke-width="4.03" stroke-linejoin="round">10²</text>
<text transform="matrix(0.07284,0,0,0.07619,74.259,353.850)" font-size="60" font-family='"Liberation Sans", sans-serif' font-weight="bold" fill="#1a1a1a" stroke="#1a1a1a" stroke-width="4.03" stroke-linejoin="round">10³</text>
<text transform="matrix(0.06629,0,0,0.07805,96.285,353.850)" font-size="60" font-family='"Liberation Sans", sans-serif' font-weight="bold" fill="#1a1a1a" stroke="#1a1a1a" stroke-width="4.16" stroke-linejoin="round">10⁴</text>
<text transform="matrix(0.10193,0,0,0.05854,13.040,358.450)" font-size="60" font-family='"Liberation Sans", sans-serif' font-weight="normal" fill="#222" stroke="#222" stroke-width="3.74" stroke-linejoin="round">FL1 —&gt;</text>
<text transform="matrix(0,-0.06786,0.06098,0,9.050,351.621)" font-size="60" font-family='"Liberation Sans", sans-serif' font-weight="bold" fill="#1a1a1a" stroke="#1a1a1a" stroke-width="4.66" stroke-linejoin="round">10°</text>
<text transform="matrix(0,-0.07037,0.06098,0,9.050,330.881)" font-size="60" font-family='"Liberation Sans", sans-serif' font-weight="bold" fill="#1a1a1a" stroke="#1a1a1a" stroke-width="4.57" stroke-linejoin="round">10¹</text>
<text transform="matrix(0,-0.07037,0.05952,0,9.050,310.131)" font-size="60" font-family='"Liberation Sans", sans-serif' font-weight="bold" fill="#1a1a1a" stroke="#1a1a1a" stroke-width="4.62" stroke-linejoin="round">10²</text>
<text transform="matrix(0,-0.07037,0.05952,0,9.050,289.381)" font-size="60" font-family='"Liberation Sans", sans-serif' font-weight="bold" fill="#1a1a1a" stroke="#1a1a1a" stroke-width="4.62" stroke-linejoin="round">10³</text>
<text transform="matrix(0,-0.06404,0.06098,0,9.050,268.606)" font-size="60" font-family='"Liberation Sans", sans-serif' font-weight="bold" fill="#1a1a1a" stroke="#1a1a1a" stroke-width="4.80" stroke-linejoin="round">10⁴</text>
<text transform="matrix(0,-0.09517,0.06098,0,3.650,346.826)" font-size="60" font-family='"Liberation Sans", sans-serif' font-weight="normal" fill="#222" stroke="#222" stroke-width="3.84" stroke-linejoin="round">FL2 —&gt;</text>
<line x1="165.5" y1="55" x2="165.5" y2="131" stroke="#2a2a2a" stroke-width="1.2"/>
<line x1="248.5" y1="55" x2="248.5" y2="131" stroke="#2a2a2a" stroke-width="1.2"/>
<line x1="165" y1="55.5" x2="249" y2="55.5" stroke="#2a2a2a" stroke-width="1.2"/>
<line x1="165" y1="130.5" x2="249" y2="130.5" stroke="#2a2a2a" stroke-width="1.2"/>
<line x1="198.5" y1="55" x2="198.5" y2="131" stroke="#3a3a3a" stroke-width="1"/>
<line x1="165" y1="105.5" x2="249" y2="105.5" stroke="#3a3a3a" stroke-width="1"/>
<path d="M190.5 114.8h0M185.9 111.6h0M182.8 112.9h0M185.3 121.7h0M187.9 121.4h0M190.7 115.3h0M188.9 112.7h0M189.9 121.2h0M186.0 120.9h0M185.6 117.0h0M190.8 121.6h0M187.4 122.9h0M187.5 122.6h0M189.0 124.1h0M187.6 117.1h0M187.2 124.2h0M186.7 114.4h0M186.6 112.4h0M188.5 106.5h0M186.2 112.9h0M184.1 125.5h0M185.9 119.6h0M186.6 121.8h0M185.2 114.2h0M189.8 122.9h0M188.8 129.2h0M188.1 115.4h0M185.2 116.4h0M182.6 119.1h0M183.5 104.4h0M188.7 125.8h0M189.0 123.4h0M185.6 106.6h0M190.3 119.7h0M182.4 113.4h0M188.4 127.7h0M182.9 126.9h0M185.8 119.4h0M189.7 124.1h0M183.0 116.2h0M182.9 121.2h0M186.6 119.3h0M188.1 115.3h0M182.5 116.1h0M182.9 124.2h0M187.6 118.0h0M185.7 112.1h0M187.6 124.4h0M184.9 119.6h0M185.8 115.9h0M186.6 116.1h0M186.1 108.3h0M185.2 123.8h0M182.7 118.6h0M184.8 118.1h0M188.3 115.0h0M187.9 124.6h0M187.0 126.7h0M184.1 120.6h0M184.3 108.1h0M186.5 129.0h0M182.5 114.6h0M186.4 126.2h0M186.8 112.1h0M182.7 112.1h0M190.2 114.2h0M191.1 117.8h0M187.7 125.4h0M185.0 117.1h0M182.4 107.2h0M186.6 118.5h0M184.7 102.7h0M189.0 120.5h0M182.7 126.7h0M183.4 115.9h0M186.4 129.7h0M184.2 121.7h0M186.1 103.9h0M187.0 102.7h0M188.7 124.1h0M185.6 120.8h0M190.1 106.4h0M186.1 124.9h0M185.9 122.2h0M187.8 125.2h0M187.5 106.2h0M190.0 117.2h0M185.7 111.9h0M187.4 111.1h0M189.5 117.5h0M187.2 119.1h0M182.8 116.6h0M184.4 109.7h0M188.6 111.5h0M189.1 123.6h0M187.0 105.3h0M182.9 117.2h0M187.0 120.3h0M186.4 122.9h0M190.3 127.5h0M185.0 128.1h0M184.7 117.8h0M190.5 110.2h0M192.8 105.8h0M187.3 117.2h0M191.1 109.2h0M187.1 120.2h0M183.1 114.1h0M186.7 124.0h0M184.7 123.0h0M187.9 125.7h0M186.9 124.3h0M185.1 102.2h0M190.3 119.6h0M185.1 98.3h0M182.9 111.9h0M184.8 118.8h0M186.9 106.7h0M188.9 125.9h0M187.7 126.9h0M189.0 109.9h0M188.8 108.1h0M182.7 125.0h0M192.8 126.6h0M186.7 108.6h0M183.9 113.2h0M182.3 126.4h0M185.1 104.6h0M189.4 114.5h0M187.5 126.2h0M182.4 111.0h0M186.2 110.8h0M183.0 108.6h0M187.4 111.6h0M184.2 118.1h0M187.7 125.9h0M189.6 116.4h0M191.0 115.5h0M183.2 106.9h0M186.5 123.7h0M187.6 113.6h0M186.6 120.3h0M184.2 118.5h0M187.5 121.1h0M190.4 121.5h0M185.6 118.1h0M187.1 129.3h0M189.1 112.2h0M186.5 119.8h0M183.5 121.6h0M184.6 122.9h0M182.3 120.9h0M182.7 126.5h0M192.9 116.3h0M187.7 124.9h0M183.0 121.7h0M189.1 117.9h0M188.7 126.1h0M188.3 119.8h0M186.9 109.7h0M187.8 123.7h0M191.6 124.3h0M185.2 108.7h0M190.5 118.3h0M186.9 119.2h0M187.2 122.4h0M185.6 101.2h0M186.3 107.3h0M186.1 123.2h0M187.9 118.5h0M187.5 118.5h0M183.7 112.6h0M186.8 110.4h0M182.9 102.4h0M187.3 105.9h0M182.4 113.0h0M189.4 118.3h0M191.9 120.5h0M184.9 121.2h0M182.7 115.0h0M184.6 114.3h0M191.7 115.3h0M186.2 128.9h0M191.7 116.6h0M186.9 127.6h0M182.4 115.8h0M182.4 126.6h0M185.8 116.9h0M188.3 119.2h0M186.8 121.2h0M187.4 126.0h0M184.4 118.2h0M186.0 117.9h0M185.2 102.1h0M182.9 102.1h0M191.0 116.6h0M185.5 128.6h0M187.6 121.4h0M187.5 107.9h0M183.8 128.6h0M184.5 123.9h0M189.7 118.6h0M183.5 127.0h0M184.3 113.5h0M185.8 113.9h0M183.3 109.1h0M187.9 119.8h0M194.7 127.8h0M185.4 120.6h0M187.0 121.0h0M189.9 126.5h0M184.9 109.9h0M183.0 127.1h0M185.4 113.9h0M188.6 119.7h0M191.4 121.6h0M184.2 107.1h0M191.0 118.9h0M189.6 103.5h0M182.4 120.0h0M189.2 107.1h0M194.4 92.8h0M192.3 114.0h0M188.6 103.0h0M192.4 120.9h0M186.5 111.0h0M186.3 99.8h0M192.2 115.7h0M192.7 124.7h0M189.1 117.0h0M189.4 99.1h0M190.0 129.7h0M187.8 110.0h0M196.0 108.3h0M186.5 115.1h0M187.2 118.3h0M192.9 123.5h0M197.3 115.1h0M186.4 110.5h0M197.7 100.0h0M192.3 120.3h0M185.8 107.7h0M190.6 93.7h0M194.9 114.0h0M191.5 114.0h0M184.1 113.4h0M185.3 114.8h0M194.2 101.8h0M192.2 106.5h0M189.8 113.3h0M192.1 109.9h0M188.1 110.6h0M195.1 103.8h0M192.8 104.4h0M182.3 104.9h0M190.6 108.9h0M186.4 93.5h0M182.7 127.0h0M189.3 95.7h0M195.2 106.0h0M185.2 115.5h0M185.9 102.0h0M188.6 112.1h0M189.6 102.3h0M188.7 98.7h0M193.4 115.3h0M185.9 111.3h0M185.6 105.5h0M185.4 109.5h0M191.9 103.9h0M188.7 104.6h0M197.4 116.9h0M191.1 101.9h0M190.0 104.5h0M193.4 103.3h0M187.2 98.8h0M189.1 126.0h0M194.4 99.2h0M190.2 109.3h0M190.1 90.1h0M190.1 99.2h0M193.2 111.9h0M191.5 117.0h0M187.3 108.8h0M186.0 96.3h0M189.5 119.7h0M198.7 105.3h0M182.8 100.4h0M190.4 109.9h0M194.1 107.8h0M189.6 108.4h0M187.3 105.1h0M192.7 116.9h0M191.4 114.5h0M189.1 93.2h0M186.4 108.0h0M192.0 112.9h0M192.1 97.0h0M190.8 101.1h0M183.7 108.7h0M198.5 103.2h0M204.7 102.8h0M204.1 87.8h0M183.1 102.2h0M190.1 85.1h0M200.0 99.7h0M201.0 70.7h0M199.4 100.7h0M198.4 93.4h0M189.8 97.4h0M196.0 103.4h0M202.3 114.1h0M195.1 98.8h0M197.4 95.5h0M196.0 100.0h0M206.3 90.4h0M201.3 104.1h0M189.6 89.6h0M202.6 90.4h0M193.8 110.9h0M193.6 115.9h0M193.1 110.3h0M184.7 112.0h0M198.6 82.2h0M197.1 93.4h0M192.7 91.7h0M199.6 97.8h0M191.8 92.3h0M196.3 120.0h0M193.0 93.1h0M207.8 96.4h0M211.2 97.2h0M196.7 102.9h0M200.3 83.8h0M205.3 98.7h0M197.5 102.4h0M216.7 75.0h0M198.2 94.0h0M211.4 89.3h0M203.5 99.3h0M198.4 101.1h0M194.8 99.4h0M217.0 94.0h0M202.3 79.5h0M198.8 96.5h0M209.6 68.9h0M191.7 85.3h0M195.7 82.1h0M203.5 93.5h0M193.6 100.4h0M186.0 94.4h0M206.3 90.6h0M197.1 88.5h0M190.9 87.7h0M186.2 116.2h0M193.2 84.8h0M208.9 102.5h0M212.4 90.4h0M197.3 92.6h0M192.0 89.2h0M207.1 111.4h0M201.4 109.1h0M194.5 89.0h0M185.3 111.5h0M194.6 90.0h0M203.8 82.4h0M191.6 76.4h0M206.7 101.2h0M197.9 98.1h0M201.0 105.6h0M201.8 106.1h0M201.4 95.1h0M192.5 89.1h0M191.2 96.7h0M200.8 81.2h0M203.7 82.7h0M192.9 98.1h0M200.9 94.7h0M205.6 92.2h0M210.1 92.7h0M197.2 101.6h0M196.0 103.9h0M201.6 80.1h0M191.5 103.9h0M205.6 103.0h0M202.0 88.5h0M193.5 114.3h0M187.6 92.3h0M197.2 80.6h0M187.1 99.7h0M196.7 105.5h0M195.0 108.4h0M197.8 113.5h0M197.4 126.8h0M195.3 112.5h0M204.2 122.4h0M198.2 111.6h0M208.2 110.0h0M207.0 104.8h0M197.4 103.6h0M202.1 118.5h0M196.6 108.6h0M180.1 120.9h0M202.7 111.4h0M194.6 100.8h0M199.3 113.2h0M198.6 120.3h0M208.3 115.0h0M208.0 108.6h0M201.2 113.3h0M194.5 117.6h0M202.5 118.7h0M200.9 113.6h0M196.4 105.4h0M214.0 110.3h0M213.8 110.4h0M212.5 117.8h0M198.0 106.6h0M192.6 114.4h0M203.8 104.6h0M195.9 112.9h0M208.7 102.2h0M203.4 112.6h0M200.9 109.8h0M205.3 116.4h0M193.7 124.1h0M203.2 124.1h0M191.3 117.8h0M207.7 113.5h0M206.3 116.8h0M199.4 98.5h0M201.3 108.7h0M208.8 129.4h0M190.5 105.4h0M212.1 103.5h0M209.7 119.8h0M197.6 117.9h0M200.2 99.5h0M213.8 124.9h0M219.8 118.2h0M205.7 115.0h0M206.4 120.9h0M207.7 111.8h0M216.7 108.4h0M200.3 120.1h0M217.6 103.0h0M177.4 103.0h0M205.1 116.9h0M213.1 111.8h0M198.2 107.5h0M209.8 103.4h0M209.1 108.2h0M211.5 108.9h0M209.2 105.5h0M211.3 101.8h0M193.8 95.7h0M203.2 90.9h0M202.3 84.0h0M202.0 81.7h0M206.0 94.1h0M205.3 71.9h0M203.6 80.2h0M204.1 85.1h0M208.8 81.0h0M212.3 97.1h0M208.3 82.6h0M209.2 79.8h0M206.2 81.9h0M207.4 100.1h0M202.1 79.1h0M209.6 86.1h0M216.1 104.9h0M213.5 72.5h0M199.4 93.0h0M203.7 111.0h0M212.4 92.9h0M202.5 66.1h0M211.6 89.0h0M206.1 102.5h0M204.8 116.7h0M191.1 65.1h0M208.5 115.5h0M224.0 108.2h0M222.9 104.4h0M196.1 111.2h0M219.0 71.1h0M185.5 122.9h0M212.7 109.1h0M221.0 82.4h0M225.1 91.2h0" stroke="#000" stroke-opacity="0.45" stroke-width="1.2" stroke-linecap="round" fill="none"/>
<path d="M187.1 109.6h0M182.7 119.7h0M188.5 121.9h0M186.6 112.6h0M183.5 110.1h0M189.0 117.3h0M182.4 111.7h0M185.2 110.1h0M182.7 124.3h0M185.5 114.3h0M182.9 123.8h0M188.0 116.2h0M188.8 114.4h0M185.8 126.1h0M186.1 99.5h0M184.6 114.1h0M187.9 121.3h0M185.6 117.2h0M183.5 128.4h0M185.6 111.6h0M188.2 106.9h0M188.8 116.5h0M184.9 122.9h0M187.0 127.6h0M191.2 105.8h0M186.1 112.5h0M189.8 107.4h0M185.8 113.6h0M182.3 127.2h0M188.1 116.1h0M184.5 125.8h0M184.3 127.2h0M185.4 121.0h0M184.8 111.1h0M185.5 117.1h0M189.3 117.3h0M184.3 117.5h0M190.5 119.0h0M184.2 128.3h0M187.6 122.7h0M183.4 108.8h0M186.2 112.3h0M187.3 102.6h0M189.3 111.4h0M185.6 125.7h0M185.7 128.3h0M183.0 122.4h0M190.7 114.3h0M182.6 106.2h0M187.2 122.7h0M183.1 118.2h0M188.9 116.5h0M186.3 126.6h0M185.9 117.7h0M183.3 126.8h0M182.6 116.0h0M186.0 106.2h0M185.9 112.1h0M184.6 128.5h0M187.3 120.7h0M184.1 118.8h0M185.1 113.4h0M182.4 124.6h0M186.7 116.1h0M187.5 109.3h0M183.7 123.1h0M185.4 122.3h0M184.0 112.6h0M188.8 118.1h0M184.7 111.5h0M189.7 118.3h0M190.1 123.7h0M183.7 115.3h0M183.0 104.3h0M183.0 118.2h0M186.2 110.7h0M189.2 115.7h0M182.9 113.0h0M182.8 123.6h0M182.4 123.6h0M183.9 116.0h0M185.6 129.4h0M188.1 126.0h0M186.8 122.2h0M188.0 127.4h0M186.1 109.2h0M189.0 102.0h0M185.2 110.8h0M182.7 122.9h0M185.2 114.3h0M183.1 115.1h0M184.2 122.4h0M190.9 114.0h0M188.1 129.3h0M188.0 108.7h0M186.3 112.3h0M188.3 120.8h0M185.1 106.3h0M187.7 108.1h0M185.0 123.8h0M182.8 124.0h0M187.2 118.7h0M186.8 118.2h0M189.8 121.4h0M187.4 108.7h0M185.8 118.3h0M188.2 108.1h0M188.2 111.2h0M189.9 117.6h0M184.8 108.9h0M183.4 112.0h0M184.4 114.2h0M185.5 115.6h0M186.1 109.1h0M182.5 112.9h0M190.0 114.1h0M186.3 128.4h0M191.8 128.2h0M191.1 109.7h0M188.8 114.4h0M186.4 114.5h0M182.9 107.5h0M184.9 104.8h0M188.7 116.8h0M183.0 109.5h0M188.7 113.6h0M187.6 113.4h0M186.8 126.1h0M185.3 118.3h0M186.5 115.9h0M188.5 126.8h0M187.2 118.7h0M183.6 105.9h0M185.7 119.7h0M182.6 121.0h0M190.2 112.2h0M186.4 110.0h0M186.5 120.4h0M183.0 107.7h0M185.5 125.9h0M189.1 96.1h0M185.5 114.4h0M188.6 107.7h0M182.8 118.0h0M187.4 122.5h0M187.8 107.0h0M185.8 102.5h0M190.7 112.6h0M186.2 117.4h0M182.8 109.3h0M185.1 120.5h0M186.9 122.7h0M185.7 128.6h0M187.7 121.3h0M182.3 124.1h0M189.5 113.9h0M188.0 126.8h0M182.8 108.4h0M183.1 116.6h0M186.2 113.8h0M189.2 109.5h0M182.6 106.8h0M186.4 122.6h0M182.7 100.0h0M182.5 123.8h0M184.5 124.6h0M190.2 117.4h0M183.6 126.7h0M189.3 106.7h0M182.8 109.9h0M184.8 120.0h0M185.9 119.8h0M185.0 115.1h0M186.3 121.8h0M185.0 120.6h0M185.2 121.0h0M183.0 111.8h0M182.6 114.0h0M190.8 120.4h0M182.6 118.2h0M187.7 124.4h0M186.3 121.9h0M187.4 106.4h0M188.1 100.7h0M188.0 115.4h0M183.7 121.6h0M186.7 106.4h0M185.9 120.7h0M191.7 116.6h0M185.9 118.2h0M185.7 123.6h0M184.1 122.0h0M182.8 107.7h0M185.7 112.1h0M187.7 124.0h0M187.8 110.8h0M188.8 125.5h0M183.5 122.7h0M184.6 119.8h0M186.7 112.2h0M187.3 115.5h0M188.4 123.7h0M190.6 118.9h0M186.5 120.0h0M182.7 117.3h0M187.0 116.3h0M191.0 114.8h0M192.9 114.2h0M185.4 105.2h0M187.6 125.3h0M191.5 124.1h0M192.0 99.2h0M191.0 110.0h0M192.5 114.6h0M189.9 113.9h0M195.4 110.1h0M194.0 93.7h0M191.3 108.3h0M194.8 128.8h0M193.5 100.5h0M190.5 98.7h0M187.5 100.7h0M185.2 121.6h0M189.4 101.4h0M182.6 97.8h0M185.5 107.8h0M194.2 126.2h0M190.0 97.3h0M182.9 117.4h0M193.8 112.6h0M185.9 113.3h0M186.4 110.3h0M184.6 105.8h0M194.5 113.8h0M188.1 101.8h0M195.5 104.5h0M197.0 117.9h0M186.2 126.1h0M185.4 120.8h0M190.3 115.9h0M184.7 108.4h0M191.9 100.9h0M192.2 102.9h0M188.4 126.2h0M186.1 111.5h0M193.1 109.0h0M183.2 104.3h0M187.2 107.6h0M189.1 116.1h0M187.1 118.7h0M190.8 107.2h0M192.7 109.9h0M195.0 105.7h0M185.7 114.0h0M189.3 108.5h0M197.1 111.9h0M192.2 119.8h0M192.9 128.7h0M194.1 117.0h0M191.5 104.6h0M194.8 105.3h0M191.2 115.0h0M192.4 117.6h0M194.9 124.7h0M197.5 111.2h0M188.5 116.2h0M182.3 99.1h0M182.4 108.4h0M194.7 106.3h0M192.4 113.4h0M195.2 99.6h0M189.3 103.0h0M190.9 128.6h0M194.1 110.7h0M186.7 114.1h0M186.1 107.1h0M185.7 109.0h0M193.8 108.3h0M187.1 114.9h0M184.9 111.4h0M194.9 128.4h0M189.1 102.4h0M193.3 103.8h0M182.7 111.4h0M194.8 113.8h0M194.7 115.7h0M187.0 128.6h0M187.7 113.2h0M193.1 112.5h0M211.0 89.5h0M197.5 84.3h0M189.3 98.9h0M192.5 99.2h0M188.0 107.4h0M202.6 96.8h0M197.5 94.3h0M199.4 94.9h0M207.3 72.2h0M206.4 82.7h0M196.4 108.8h0M206.0 95.5h0M213.0 81.2h0M209.5 84.9h0M190.7 106.2h0M194.2 101.6h0M199.1 91.7h0M194.3 101.6h0M192.8 98.1h0M199.1 114.5h0M204.7 87.0h0M196.5 102.4h0M198.2 97.9h0M186.7 102.7h0M202.1 98.0h0M197.1 82.5h0M203.3 83.6h0M199.1 86.2h0M195.3 93.0h0M215.3 80.2h0M214.2 88.7h0M198.2 96.5h0M184.1 107.8h0M192.0 89.6h0M191.1 103.7h0M192.0 87.0h0M194.4 97.2h0M211.9 98.1h0M197.1 97.8h0M205.5 107.0h0M194.4 90.1h0M199.6 82.7h0M190.4 97.3h0M203.1 92.0h0M186.7 84.3h0M211.7 87.2h0M202.0 105.8h0M208.1 93.4h0M200.0 108.1h0M195.0 78.5h0M210.9 92.4h0M190.5 100.3h0M199.9 113.9h0M200.6 102.2h0M202.2 76.0h0M199.5 98.2h0M190.7 94.3h0M195.8 103.5h0M192.7 95.7h0M190.4 97.9h0M201.4 111.7h0M183.3 106.6h0M190.0 103.0h0M206.2 82.3h0M192.6 98.9h0M212.8 79.5h0M183.5 92.5h0M193.4 86.1h0M202.1 105.0h0M192.5 113.7h0M200.2 89.0h0M198.4 79.7h0M196.5 101.9h0M189.9 129.3h0M197.3 98.2h0M201.2 96.7h0M196.4 99.7h0M228.0 117.0h0M194.1 111.7h0M218.6 103.5h0M206.5 115.4h0M212.9 83.0h0M206.0 105.1h0M211.9 116.2h0M207.5 117.9h0M191.8 124.2h0M216.9 109.3h0M199.2 109.7h0M215.9 110.6h0M201.4 111.5h0M189.7 102.9h0M203.2 106.7h0M236.5 106.0h0M216.2 110.5h0M206.1 106.1h0M202.8 127.8h0M205.0 117.7h0M209.6 111.4h0M206.5 122.5h0M205.4 114.4h0M208.2 113.1h0M205.5 107.1h0M199.3 113.2h0M204.7 129.0h0M216.7 116.0h0M218.9 114.9h0M214.1 118.4h0M219.7 110.0h0M201.9 116.9h0M204.2 108.3h0M197.1 107.6h0M224.8 121.7h0M207.2 104.5h0M203.2 108.3h0M195.3 105.2h0M219.2 114.1h0M191.5 97.6h0M217.5 111.4h0M212.1 124.1h0M181.5 103.8h0M214.1 106.3h0M198.6 118.6h0M207.0 121.1h0M212.2 86.4h0M210.2 87.0h0M211.4 79.1h0M200.7 85.6h0M203.8 85.2h0M200.0 103.2h0M203.7 98.8h0M207.1 86.1h0M221.8 77.1h0M202.2 80.4h0M208.9 100.7h0M203.4 92.4h0M203.2 97.7h0M213.7 84.3h0M197.5 92.7h0M207.5 91.0h0M206.1 99.1h0M208.1 100.6h0M199.5 101.1h0M200.0 87.3h0M213.2 89.9h0M198.2 109.6h0M211.6 99.7h0M207.3 83.6h0M206.0 106.9h0M187.6 122.6h0M216.5 125.9h0M196.8 115.2h0M223.1 118.6h0M226.2 78.7h0M201.3 98.7h0M220.1 124.3h0M231.7 122.5h0" stroke="#000" stroke-opacity="0.7" stroke-width="1.2" stroke-linecap="round" fill="none"/>
<path d="M183.6 117.3h0M183.6 124.5h0M187.8 115.7h0M182.6 119.7h0M192.5 120.5h0M189.6 127.0h0M182.9 119.9h0M188.7 123.3h0M186.4 128.7h0M183.7 117.2h0M183.4 118.0h0M182.5 114.2h0M185.5 109.6h0M184.0 114.6h0M184.2 123.9h0M185.0 110.8h0M182.9 121.0h0M185.7 127.9h0M186.2 127.2h0M190.0 113.4h0M182.4 118.2h0M189.5 118.6h0M183.8 123.6h0M186.3 117.0h0M183.8 120.9h0M183.9 129.0h0M184.5 113.4h0M182.9 125.9h0M187.6 107.7h0M190.3 127.0h0M184.8 120.7h0M186.6 129.3h0M189.2 123.4h0M182.4 113.5h0M185.7 110.9h0M185.2 111.9h0M184.8 111.0h0M182.7 121.0h0M183.6 124.6h0M186.8 124.7h0M187.2 116.5h0M183.6 123.7h0M188.7 124.9h0M186.0 114.4h0M185.4 103.3h0M183.3 114.5h0M183.6 109.0h0M183.4 126.1h0M187.1 113.6h0M190.0 110.3h0M188.1 121.3h0M182.9 102.7h0M182.4 117.5h0M186.2 113.9h0M184.7 106.0h0M190.0 119.6h0M187.0 118.7h0M187.7 118.0h0M184.1 108.9h0M182.3 121.4h0M188.6 124.7h0M183.9 119.0h0M188.6 119.4h0M183.9 104.6h0M187.2 120.0h0M184.3 120.4h0M187.3 117.3h0M187.4 122.4h0M182.5 120.4h0M184.5 112.5h0M189.1 129.2h0M185.6 129.3h0M183.9 104.4h0M183.9 113.4h0M189.2 116.3h0M182.9 110.4h0M182.9 109.0h0M185.7 114.9h0M184.2 103.6h0M183.4 125.1h0M184.3 115.6h0M185.0 118.9h0M187.7 128.6h0M184.0 101.5h0M192.0 118.1h0M183.3 101.4h0M184.7 120.8h0M185.2 127.1h0M183.5 122.6h0M186.9 107.8h0M185.6 121.2h0M187.0 116.8h0M189.0 118.5h0M185.2 117.2h0M183.1 114.4h0M186.7 118.7h0M183.0 117.3h0M185.4 124.0h0M183.6 116.5h0M187.3 118.2h0M184.9 124.0h0M186.9 108.2h0M188.9 126.8h0M185.0 125.9h0M186.3 102.7h0M184.2 115.4h0M184.1 124.3h0M184.2 116.7h0M186.4 111.4h0M185.8 123.1h0M187.3 112.3h0M188.6 115.8h0M191.0 109.3h0M182.8 119.2h0M184.9 115.7h0M189.0 116.6h0M188.1 120.5h0M186.9 120.3h0M184.6 116.7h0M193.0 108.4h0M184.9 126.0h0M183.5 115.0h0M183.3 114.3h0M187.8 126.0h0M188.4 119.8h0M191.5 120.1h0M189.0 109.7h0M184.5 109.9h0M186.5 119.0h0M189.1 122.3h0M183.2 119.6h0M187.0 111.5h0M182.7 119.9h0M185.1 121.7h0M188.3 114.8h0M187.8 124.4h0M185.3 120.9h0M188.3 115.0h0M182.6 114.8h0M185.0 121.9h0M190.4 109.0h0M184.3 112.5h0M185.9 114.2h0M187.9 121.1h0M185.0 123.9h0M191.1 116.9h0M183.2 120.6h0M188.5 118.2h0M191.4 116.6h0M189.2 117.1h0M186.8 123.1h0M187.0 120.1h0M182.3 111.9h0M183.1 119.3h0M182.7 114.3h0M182.6 123.9h0M187.8 105.7h0M184.6 124.4h0M185.5 124.7h0M182.6 115.6h0M183.0 111.7h0M187.2 112.6h0M190.2 117.9h0M186.0 121.0h0M187.0 113.4h0M182.7 126.8h0M186.9 113.7h0M189.9 120.3h0M186.3 113.5h0M185.4 113.5h0M185.8 127.9h0M185.4 128.2h0M189.8 117.6h0M185.1 110.5h0M182.6 121.8h0M187.8 117.5h0M183.2 109.3h0M184.3 108.6h0M185.9 113.8h0M184.9 115.3h0M184.9 114.6h0M190.3 120.9h0M183.9 98.2h0M186.8 120.8h0M194.9 115.8h0M190.6 120.8h0M188.0 109.6h0M182.5 122.1h0M184.6 125.0h0M187.7 110.5h0M185.2 122.9h0M182.9 111.4h0M189.4 123.8h0M187.2 119.4h0M189.9 106.5h0M187.9 121.5h0M188.2 114.9h0M186.3 121.7h0M186.3 114.3h0M184.2 119.6h0M189.0 114.3h0M186.8 113.3h0M183.9 112.7h0M187.0 116.6h0M189.8 111.3h0M182.3 118.4h0M191.2 119.8h0M189.2 120.0h0M184.9 120.5h0M185.4 110.3h0M184.2 121.5h0M183.1 117.5h0M183.1 116.4h0M182.4 111.5h0M183.5 110.8h0M190.2 105.5h0M187.7 119.1h0M183.5 119.0h0M182.7 120.4h0M184.8 112.5h0M183.8 113.8h0M185.1 122.2h0M186.3 94.0h0M183.4 125.3h0M182.3 108.3h0M188.8 109.1h0M184.8 117.3h0M188.5 102.5h0M182.5 121.3h0M184.1 107.8h0M189.7 119.5h0M187.8 121.2h0M187.2 119.9h0M183.9 121.4h0M184.0 127.0h0M187.2 99.1h0M186.0 118.5h0M198.3 112.8h0M189.4 118.0h0M192.4 111.2h0M194.7 120.7h0M183.1 110.9h0M185.8 116.4h0M187.1 109.3h0M184.2 101.7h0M188.2 107.9h0M192.2 117.0h0M183.8 103.1h0M186.6 98.1h0M187.0 106.7h0M193.2 115.4h0M187.7 104.9h0M188.6 103.7h0M186.9 116.7h0M189.9 119.5h0M192.0 116.1h0M192.9 111.0h0M182.8 111.5h0M189.7 106.9h0M190.1 109.6h0M184.4 107.2h0M188.4 117.0h0M187.2 107.8h0M195.7 108.6h0M189.2 107.0h0M183.7 108.6h0M192.8 121.3h0M194.8 122.1h0M187.7 123.4h0M185.3 116.0h0M191.3 106.5h0M190.4 125.8h0M189.5 109.7h0M193.5 124.9h0M193.1 107.6h0M187.3 108.9h0M187.4 114.6h0M188.6 125.2h0M190.5 114.6h0M187.1 117.8h0M195.0 101.8h0M194.9 111.8h0M196.6 98.6h0M188.4 104.9h0M191.4 119.4h0M194.7 129.7h0M196.3 118.3h0M187.9 118.4h0M188.0 116.9h0M191.1 102.8h0M193.8 113.3h0M182.5 105.3h0M193.4 105.9h0M199.8 120.5h0M190.3 106.3h0M188.7 99.0h0M188.6 112.9h0M191.4 100.2h0M191.4 94.0h0M198.3 122.2h0M194.2 115.8h0M189.3 111.9h0M194.9 97.0h0M191.2 114.2h0M191.0 106.9h0M190.6 92.4h0M182.3 118.1h0M194.0 104.6h0M184.6 105.8h0M194.5 113.8h0M192.0 96.5h0M187.6 114.4h0M197.1 127.0h0M193.6 116.9h0M193.0 109.4h0M196.3 97.3h0M196.6 113.0h0M199.2 112.7h0M183.6 108.3h0M192.0 123.8h0M184.5 111.7h0M186.6 95.3h0M195.2 108.4h0M191.7 100.5h0M209.9 82.6h0M194.6 87.3h0M191.7 104.8h0M201.0 105.9h0M196.1 99.2h0M192.8 111.1h0M203.7 99.0h0M195.1 110.2h0M184.2 108.8h0M192.4 115.6h0M204.6 70.7h0M197.9 112.3h0M209.4 105.8h0M208.4 100.7h0M210.4 95.9h0M186.1 93.1h0M192.0 108.1h0M198.5 99.1h0M199.4 100.5h0M197.1 97.6h0M199.5 101.8h0M195.5 94.5h0M199.8 96.8h0M210.3 106.8h0M204.0 89.8h0M195.0 94.3h0M203.6 97.9h0M197.2 84.8h0M205.4 84.0h0M186.5 114.7h0M187.7 96.1h0M193.5 84.2h0M195.4 83.8h0M205.7 85.9h0M183.8 102.2h0M185.8 95.2h0M208.5 76.0h0M186.8 93.8h0M194.8 95.6h0M202.3 84.3h0M200.6 97.9h0M206.7 94.9h0M202.8 77.4h0M202.6 85.1h0M198.6 88.7h0M207.4 89.2h0M192.0 89.7h0M194.3 91.5h0M195.9 85.1h0M203.1 87.3h0M188.8 113.3h0M199.6 81.5h0M192.1 121.4h0M186.6 110.5h0M206.3 102.2h0M191.2 102.6h0M197.4 78.5h0M197.2 102.6h0M200.1 100.3h0M195.8 95.8h0M189.2 82.1h0M193.1 91.3h0M199.1 94.9h0M203.5 102.8h0M202.2 118.4h0M212.2 91.0h0M206.6 83.4h0M194.7 124.5h0M207.4 74.9h0M208.5 83.8h0M201.9 99.8h0M194.5 102.9h0M197.1 113.8h0M196.0 78.2h0M203.5 73.3h0M194.0 111.1h0M198.5 109.7h0M205.8 86.9h0M212.9 96.9h0M202.4 79.6h0M197.5 120.7h0M219.6 118.0h0M212.0 127.5h0M190.3 112.6h0M222.9 110.7h0M184.8 109.3h0M198.7 107.7h0M215.5 111.1h0M207.3 119.7h0M192.7 108.8h0M216.9 104.1h0M203.1 124.3h0M209.5 99.5h0M176.3 111.8h0M224.9 114.4h0M215.7 101.8h0M195.8 109.2h0M204.3 120.0h0M198.8 115.3h0M198.4 114.2h0M211.7 112.2h0M202.9 105.6h0M188.4 112.3h0M197.5 122.9h0M223.2 104.6h0M200.1 118.2h0M212.9 102.7h0M209.0 114.9h0M202.1 113.1h0M196.5 119.8h0M182.5 121.5h0M196.7 114.8h0M200.8 112.9h0M207.6 109.8h0M218.3 123.0h0M202.2 118.8h0M184.1 101.4h0M203.0 113.3h0M208.1 112.0h0M209.2 112.8h0M212.7 110.6h0M212.9 107.4h0M191.4 116.8h0M198.3 116.8h0M217.3 121.6h0M212.6 111.0h0M208.2 117.4h0M196.8 102.5h0M191.5 109.8h0M194.6 99.1h0M202.7 123.3h0M207.1 119.2h0M209.5 113.7h0M210.3 111.1h0M193.7 111.0h0M207.2 106.3h0M199.8 118.2h0M199.0 120.5h0M211.7 115.2h0M203.9 106.1h0M208.1 107.6h0M199.4 70.4h0M202.1 100.4h0M199.8 75.7h0M203.7 78.7h0M204.3 88.7h0M207.4 92.3h0M199.8 80.7h0M201.7 74.9h0M207.5 95.4h0M205.4 86.7h0M212.0 92.2h0M204.7 91.0h0M202.5 84.0h0M211.5 90.0h0M204.9 89.6h0M207.7 95.2h0M197.2 96.2h0M209.6 92.7h0M204.4 95.1h0M211.1 86.6h0M204.8 92.8h0M200.6 84.5h0M205.8 95.4h0M203.3 97.2h0M206.8 92.1h0M206.4 91.0h0M202.6 95.5h0M203.6 97.7h0M204.2 81.4h0M233.2 108.8h0M207.8 118.1h0M222.6 89.6h0M209.8 77.9h0M215.3 78.9h0M230.5 79.6h0M207.2 64.5h0M217.1 66.2h0M210.7 104.2h0M196.7 125.5h0M216.8 93.7h0M214.9 122.6h0" stroke="#000" stroke-opacity="0.95" stroke-width="1.2" stroke-linecap="round" fill="none"/>
<line x1="165" y1="131.5" x2="249" y2="131.5" stroke="#333" stroke-width="1" stroke-dasharray="1 2.3" stroke-opacity="0.7"/>
<line x1="164.5" y1="55" x2="164.5" y2="131" stroke="#333" stroke-width="1" stroke-dasharray="1 2.3" stroke-opacity="0.6"/>
<text transform="matrix(0.16510,0,0,0.15846,168.134,64.040)" font-size="60" font-family='"Liberation Serif", serif' font-weight="normal" fill="#111" stroke="#111" stroke-width="0.74" stroke-linejoin="round">15.8</text>
<text transform="matrix(0.17437,0,0,0.17641,232.711,64.940)" font-size="60" font-family='"Liberation Serif", serif' font-weight="normal" fill="#111" stroke="#111" stroke-width="0.68" stroke-linejoin="round">8.8</text>
<text transform="matrix(0.08750,0,0,0.08846,163.725,137.875)" font-size="60" font-family='"Liberation Mono", monospace' font-weight="normal" fill="#1a1a1a" stroke="#1a1a1a" stroke-width="2.84" stroke-linejoin="round">0</text>
<text transform="matrix(0.08516,0,0,0.08846,177.984,137.875)" font-size="60" font-family='"Liberation Mono", monospace' font-weight="normal" fill="#1a1a1a" stroke="#1a1a1a" stroke-width="2.88" stroke-linejoin="round">50</text>
<text transform="matrix(0.08450,0,0,0.08846,192.237,137.875)" font-size="60" font-family='"Liberation Mono", monospace' font-weight="normal" fill="#1a1a1a" stroke="#1a1a1a" stroke-width="2.89" stroke-linejoin="round">100</text>
<text transform="matrix(0.08450,0,0,0.08846,207.987,137.875)" font-size="60" font-family='"Liberation Mono", monospace' font-weight="normal" fill="#1a1a1a" stroke="#1a1a1a" stroke-width="2.89" stroke-linejoin="round">150</text>
<text transform="matrix(0.08450,0,0,0.08846,223.737,137.875)" font-size="60" font-family='"Liberation Mono", monospace' font-weight="normal" fill="#1a1a1a" stroke="#1a1a1a" stroke-width="2.89" stroke-linejoin="round">200</text>
<text transform="matrix(0.08450,0,0,0.08846,239.487,137.875)" font-size="60" font-family='"Liberation Mono", monospace' font-weight="normal" fill="#1a1a1a" stroke="#1a1a1a" stroke-width="2.89" stroke-linejoin="round">250</text>
<text transform="matrix(0.13683,0,0,0.08415,166.491,142.925)" font-size="60" font-family='"Liberation Sans", sans-serif' font-weight="normal" fill="#222" stroke="#222" stroke-width="1.36" stroke-linejoin="round">FSC ---&gt;</text>
<text transform="matrix(0,-0.11645,0.08625,0,162.225,135.507)" font-size="60" font-family='"Liberation Serif", serif' font-weight="normal" fill="#1a1a1a" stroke="#1a1a1a" stroke-width="1.48" stroke-linejoin="round">10°</text>
<text transform="matrix(0,-0.12465,0.08625,0,162.225,116.798)" font-size="60" font-family='"Liberation Serif", serif' font-weight="normal" fill="#1a1a1a" stroke="#1a1a1a" stroke-width="1.42" stroke-linejoin="round">10¹</text>
<text transform="matrix(0,-0.12292,0.08625,0,162.225,98.040)" font-size="60" font-family='"Liberation Serif", serif' font-weight="normal" fill="#1a1a1a" stroke="#1a1a1a" stroke-width="1.43" stroke-linejoin="round">10²</text>
<text transform="matrix(0,-0.12292,0.08415,0,162.225,79.290)" font-size="60" font-family='"Liberation Serif", serif' font-weight="normal" fill="#1a1a1a" stroke="#1a1a1a" stroke-width="1.45" stroke-linejoin="round">10³</text>
<text transform="matrix(0,-0.11959,0.08625,0,162.225,60.523)" font-size="60" font-family='"Liberation Serif", serif' font-weight="normal" fill="#1a1a1a" stroke="#1a1a1a" stroke-width="1.46" stroke-linejoin="round">10⁴</text>
<text transform="matrix(0,-0.14130,0.07195,0,154.075,128.082)" font-size="60" font-family='"Liberation Sans", sans-serif' font-weight="normal" fill="#222" stroke="#222" stroke-width="2.34" stroke-linejoin="round">FL1 ---&gt;</text>
<text transform="matrix(0.16203,0,0,0.16923,259.138,90.900)" font-size="60" font-family='"Liberation Serif", serif' font-weight="normal" fill="#111" stroke="#111" stroke-width="1.21" stroke-linejoin="round">45-50%</text>
<text transform="matrix(0.15988,0,0,0.15854,259.480,101.900)" font-size="60" font-family='"Liberation Serif", serif' font-weight="normal" fill="#111" stroke="#111" stroke-width="1.26" stroke-linejoin="round">Percoll</text>
<line x1="165.5" y1="155" x2="165.5" y2="230" stroke="#2a2a2a" stroke-width="1.2"/>
<line x1="248.5" y1="155" x2="248.5" y2="230" stroke="#2a2a2a" stroke-width="1.2"/>
<line x1="165" y1="155.5" x2="249" y2="155.5" stroke="#2a2a2a" stroke-width="1.2"/>
<line x1="165" y1="229.5" x2="249" y2="229.5" stroke="#2a2a2a" stroke-width="1.2"/>
<line x1="198.5" y1="155" x2="198.5" y2="230" stroke="#3a3a3a" stroke-width="1"/>
<line x1="165" y1="204.5" x2="249" y2="204.5" stroke="#3a3a3a" stroke-width="1"/>
<path d="M183.2 214.2h0M190.0 202.8h0M185.5 210.5h0M184.5 200.2h0M187.8 212.1h0M189.9 219.3h0M192.5 204.6h0M189.0 228.3h0M183.6 217.1h0M183.3 221.0h0M183.8 217.7h0M191.6 216.6h0M187.5 216.8h0M184.5 225.3h0M190.1 214.5h0M190.7 219.2h0M191.6 204.4h0M191.8 215.6h0M192.4 199.0h0M189.0 223.4h0M188.1 217.3h0M188.0 218.4h0M183.4 217.3h0M183.5 206.8h0M185.2 223.8h0M191.0 213.3h0M188.6 217.1h0M185.7 213.4h0M187.7 209.9h0M187.3 197.1h0M190.6 207.9h0M186.3 213.9h0M183.9 206.9h0M188.3 214.7h0M186.2 218.1h0M187.2 219.1h0M187.3 220.7h0M186.9 216.2h0M189.9 216.3h0M189.8 211.1h0M185.2 227.7h0M186.7 211.1h0M189.1 215.2h0M188.3 210.5h0M186.3 209.2h0M188.4 209.4h0M193.4 223.6h0M188.1 211.5h0M185.8 227.5h0M183.6 221.5h0M183.3 223.2h0M185.3 225.4h0M188.4 220.8h0M187.0 208.8h0M189.4 222.4h0M189.8 218.2h0M183.6 203.8h0M185.0 220.4h0M191.1 206.0h0M183.7 210.2h0M183.3 222.9h0M189.5 214.9h0M187.2 222.5h0M183.2 208.1h0M187.6 221.3h0M189.7 223.6h0M185.1 212.9h0M189.0 224.6h0M191.5 223.9h0M185.1 221.2h0M183.3 219.7h0M185.8 218.7h0M188.4 210.2h0M185.5 205.4h0M184.3 219.6h0M184.1 221.3h0M193.1 209.9h0M186.0 215.2h0M184.7 214.7h0M185.2 219.2h0M189.6 203.9h0M183.7 217.3h0M186.2 227.8h0M187.3 201.6h0M185.2 201.7h0M185.4 222.3h0M184.5 218.4h0M186.1 228.6h0M187.4 208.5h0M183.7 220.5h0M183.9 218.7h0M193.0 216.0h0M184.1 218.9h0M188.5 208.9h0M190.2 221.6h0M183.4 220.4h0M188.9 217.6h0M184.0 205.7h0M187.5 223.3h0M183.5 220.4h0M186.5 221.0h0M184.2 219.4h0M186.5 213.3h0M184.6 208.7h0M186.1 214.8h0M185.6 220.0h0M185.0 215.1h0M184.3 223.5h0M187.4 209.0h0M186.0 218.7h0M188.2 227.2h0M187.6 216.9h0M190.2 226.5h0M191.4 214.9h0M189.4 206.9h0M190.7 216.5h0M189.0 216.0h0M189.4 226.1h0M185.0 216.5h0M188.4 217.4h0M183.3 215.2h0M189.9 219.3h0M183.3 213.8h0M186.9 222.9h0M185.4 221.5h0M192.0 207.4h0M187.7 215.7h0M184.0 212.0h0M187.5 218.3h0M187.2 220.0h0M191.9 227.3h0M183.2 212.9h0M183.3 209.4h0M190.6 209.8h0M189.2 220.2h0M189.3 215.8h0M187.8 210.0h0M184.9 216.9h0M191.0 212.0h0M185.8 215.5h0M185.4 222.2h0M185.4 215.4h0M185.3 213.1h0M189.5 208.0h0M188.7 203.8h0M187.8 216.7h0M185.5 221.6h0M185.3 214.1h0M187.3 211.5h0M189.7 217.5h0M186.1 219.1h0M186.3 211.4h0M184.4 222.2h0M192.7 205.0h0M183.9 208.6h0M186.1 211.1h0M187.7 224.0h0M189.1 223.7h0M184.9 218.5h0M186.4 211.6h0M188.1 212.2h0M184.6 203.5h0M184.5 226.3h0M183.6 219.2h0M184.0 207.9h0M184.3 223.1h0M185.6 206.8h0M184.7 212.6h0M185.7 215.8h0M186.6 220.6h0M190.3 205.0h0M190.8 216.6h0M185.3 217.9h0M189.1 226.6h0M183.2 221.5h0M184.0 219.7h0M186.9 210.5h0M187.9 213.5h0M183.7 214.2h0M185.5 208.6h0M186.4 219.2h0M183.5 213.0h0M187.0 215.6h0M184.3 206.7h0M188.0 217.8h0M187.6 224.6h0M185.9 217.3h0M185.5 205.2h0M188.8 226.2h0M188.9 220.7h0M186.9 221.8h0M189.4 222.8h0M187.7 228.3h0M188.7 210.4h0M184.1 219.5h0M188.8 209.6h0M186.3 217.7h0M183.3 203.3h0M183.3 218.1h0M185.2 228.6h0M183.9 208.1h0M187.5 220.4h0M190.8 219.0h0M187.2 206.6h0M185.4 217.7h0M194.3 213.3h0M192.7 198.6h0M193.5 215.4h0M195.4 219.4h0M194.9 204.7h0M186.1 205.0h0M187.8 185.7h0M186.6 204.3h0M193.3 214.4h0M184.8 193.9h0M195.0 198.3h0M189.4 203.6h0M186.2 225.8h0M197.6 197.2h0M189.7 212.4h0M184.3 193.1h0M188.7 200.6h0M187.2 205.0h0M188.1 208.0h0M185.2 210.1h0M191.1 208.7h0M186.0 224.4h0M190.7 202.3h0M186.3 198.6h0M183.4 216.4h0M192.4 197.0h0M190.6 197.0h0M190.5 193.2h0M187.2 199.4h0M188.3 207.4h0M185.8 192.4h0M187.6 217.5h0M197.0 203.0h0M193.1 208.6h0M185.4 214.4h0M187.0 202.7h0M188.6 209.7h0M192.5 198.7h0M192.6 193.1h0M192.7 205.3h0M191.3 192.4h0M187.7 205.4h0M196.1 199.2h0M183.4 217.0h0M196.3 208.4h0M199.1 210.6h0M198.6 201.8h0M195.9 199.3h0M188.7 213.2h0M183.9 215.1h0M187.6 192.1h0M188.7 203.5h0M184.9 203.2h0M189.2 197.5h0M198.2 213.2h0M188.0 212.4h0M190.8 209.2h0M195.4 212.1h0M192.4 203.8h0M187.2 211.5h0M196.3 204.5h0M193.2 209.1h0M193.3 198.5h0M190.1 191.1h0M192.8 206.6h0M187.6 190.1h0M194.9 204.4h0M194.6 198.3h0M192.7 213.7h0M195.5 191.5h0M184.6 189.6h0M186.7 197.5h0M198.2 195.4h0M189.4 197.3h0M190.5 218.7h0M192.2 197.2h0M185.5 202.3h0M186.6 191.9h0M188.0 207.8h0M191.1 218.9h0M195.5 201.4h0M195.7 210.4h0M191.8 210.2h0M191.6 206.3h0M194.0 206.2h0M189.2 202.5h0M192.1 194.3h0M200.7 210.1h0M207.6 201.5h0M197.4 178.4h0M199.2 177.1h0M193.9 195.1h0M201.4 191.5h0M194.8 199.7h0M192.3 199.3h0M197.0 197.4h0M192.6 189.1h0M201.5 195.0h0M197.2 200.2h0M197.5 194.7h0M200.2 179.0h0M188.3 208.8h0M203.3 183.3h0M189.7 211.2h0M205.9 198.5h0M198.3 170.3h0M198.0 184.3h0M198.9 188.8h0M197.2 191.8h0M194.1 182.9h0M208.3 195.2h0M196.4 200.5h0M197.1 196.1h0M204.2 197.4h0M194.0 183.5h0M202.1 202.5h0M205.2 187.0h0M194.5 208.6h0M196.3 209.2h0M196.9 216.4h0M201.3 184.6h0M203.3 197.2h0M207.2 195.2h0M195.6 205.7h0M201.5 208.9h0M187.0 186.5h0M194.3 197.9h0M205.2 202.4h0M187.8 192.8h0M194.1 206.1h0M191.5 205.3h0M201.9 195.4h0M205.1 175.1h0M200.2 181.2h0M200.7 202.5h0M199.7 205.2h0M200.4 200.2h0M202.7 210.8h0M208.4 199.3h0M202.6 193.0h0M199.7 202.2h0M193.8 200.3h0M197.1 180.1h0M199.5 190.5h0M205.6 184.4h0M207.3 192.1h0M198.9 204.9h0M196.7 192.1h0M201.7 182.3h0M195.9 190.5h0M204.2 186.4h0M195.1 188.5h0M204.0 196.6h0M199.1 195.7h0M197.6 197.1h0M197.6 201.9h0M195.7 180.1h0M190.9 199.4h0M192.1 189.9h0M204.0 215.9h0M198.9 186.4h0M211.3 213.6h0M206.1 202.3h0M212.7 221.8h0M207.0 203.0h0M203.0 204.7h0M204.2 206.3h0M214.0 216.4h0M216.0 211.1h0M199.3 202.0h0M214.2 205.8h0M204.4 216.6h0M204.7 203.2h0M192.3 216.5h0M209.1 212.6h0M209.4 209.6h0M201.1 220.1h0M205.1 201.3h0M198.0 203.8h0M198.5 195.0h0M200.9 205.3h0M211.3 213.3h0M203.9 210.0h0M195.1 208.7h0M206.5 217.6h0M198.0 223.3h0M210.2 207.5h0M209.6 205.7h0M208.1 213.4h0M199.2 214.9h0M202.0 212.3h0M198.4 212.9h0M207.6 211.0h0M196.4 220.4h0M194.1 213.6h0M203.8 216.7h0M211.1 203.5h0M205.7 212.1h0M206.0 203.7h0M203.9 214.8h0M203.0 201.3h0M202.8 215.9h0M210.6 209.1h0M203.0 221.0h0M216.2 206.0h0M201.6 207.3h0M202.8 213.7h0M207.6 215.8h0M206.1 207.5h0M207.1 207.6h0M205.6 216.2h0M192.1 186.0h0M217.3 215.6h0M191.3 171.7h0M203.1 207.5h0M210.6 183.7h0M184.1 197.4h0M218.4 219.9h0M194.0 184.3h0" stroke="#000" stroke-opacity="0.45" stroke-width="1.2" stroke-linecap="round" fill="none"/>
<path d="M183.4 215.2h0M183.5 228.1h0M191.0 226.3h0M185.5 224.0h0M187.0 226.4h0M183.3 200.7h0M188.8 211.5h0M184.7 214.3h0M184.4 218.4h0M187.0 216.1h0M189.8 208.5h0M190.5 221.9h0M185.9 213.0h0M183.5 209.9h0M187.7 216.9h0M188.9 216.7h0M185.6 217.1h0M187.9 212.5h0M190.9 217.7h0M185.3 224.2h0M184.9 216.7h0M191.0 203.9h0M183.4 214.8h0M188.1 215.4h0M184.9 211.8h0M184.5 218.2h0M189.7 216.4h0M183.3 225.7h0M184.9 209.5h0M186.5 212.5h0M188.6 220.4h0M186.1 206.6h0M185.4 214.9h0M187.0 223.0h0M186.9 204.5h0M188.8 216.3h0M189.8 222.0h0M185.7 210.7h0M187.5 223.1h0M184.6 214.8h0M193.6 217.5h0M186.5 219.4h0M186.3 217.1h0M183.8 214.8h0M189.1 220.4h0M184.1 214.7h0M191.4 217.8h0M186.3 215.2h0M188.5 217.6h0M185.4 224.8h0M184.5 215.5h0M183.4 211.4h0M186.7 204.2h0M183.4 215.5h0M187.2 217.7h0M185.6 206.2h0M186.3 212.8h0M188.6 213.7h0M186.6 215.2h0M183.8 225.3h0M185.8 223.1h0M187.4 214.7h0M185.5 223.1h0M184.3 220.0h0M187.2 214.9h0M186.6 218.4h0M184.1 212.0h0M183.5 209.4h0M193.1 217.7h0M187.6 223.7h0M188.8 214.0h0M183.3 220.8h0M183.2 216.5h0M189.1 215.7h0M186.5 207.7h0M185.5 218.7h0M184.7 212.3h0M189.6 228.6h0M185.7 207.4h0M190.2 225.4h0M183.4 206.7h0M185.2 225.6h0M186.6 214.1h0M193.5 224.3h0M187.7 226.5h0M183.2 207.0h0M185.1 223.9h0M183.6 226.5h0M188.7 220.1h0M188.8 213.6h0M183.9 216.7h0M189.4 223.0h0M188.9 208.6h0M186.5 224.9h0M183.3 211.0h0M187.9 220.2h0M183.5 212.1h0M184.4 198.7h0M183.7 212.3h0M183.5 220.8h0M187.3 215.8h0M183.8 217.6h0M185.2 213.4h0M187.4 208.0h0M185.9 214.8h0M189.5 218.6h0M183.5 221.8h0M188.3 211.4h0M186.3 211.2h0M190.2 218.4h0M191.4 210.1h0M187.9 214.7h0M184.2 215.7h0M185.1 218.0h0M184.9 216.2h0M185.2 221.4h0M190.8 218.2h0M184.7 219.7h0M190.4 219.8h0M184.5 214.0h0M189.4 220.2h0M183.5 222.7h0M183.5 214.6h0M190.1 216.2h0M183.7 215.0h0M186.4 222.9h0M188.4 210.3h0M185.2 216.9h0M185.8 211.8h0M189.5 206.9h0M190.5 227.5h0M190.7 204.9h0M188.1 225.6h0M188.0 212.4h0M186.1 225.1h0M190.2 215.1h0M183.6 219.3h0M184.2 215.7h0M186.4 221.4h0M183.2 222.1h0M186.9 227.0h0M185.9 218.4h0M184.9 217.3h0M188.5 210.8h0M186.2 221.7h0M183.7 215.3h0M186.5 209.6h0M191.2 206.9h0M183.4 225.0h0M184.6 219.8h0M187.9 206.0h0M184.2 224.8h0M186.6 223.8h0M183.5 218.1h0M188.4 209.0h0M183.5 213.2h0M185.3 222.3h0M183.8 206.4h0M183.5 218.8h0M189.2 216.5h0M187.3 205.6h0M183.7 209.0h0M189.2 226.5h0M185.0 227.0h0M185.2 224.1h0M190.9 215.9h0M184.6 217.5h0M183.6 219.6h0M189.0 212.5h0M183.9 219.3h0M185.5 216.4h0M187.6 213.7h0M185.5 213.3h0M186.1 217.9h0M186.8 204.5h0M183.8 208.1h0M184.2 223.5h0M187.5 223.0h0M188.2 214.6h0M184.9 218.5h0M187.2 221.1h0M188.8 209.0h0M183.3 200.2h0M188.5 199.7h0M187.9 215.7h0M190.9 216.5h0M183.7 217.7h0M184.6 213.2h0M186.9 215.3h0M191.0 220.7h0M191.6 219.0h0M186.5 219.7h0M183.8 208.1h0M184.1 223.8h0M186.7 222.1h0M186.7 224.4h0M189.6 209.5h0M187.2 210.1h0M187.6 215.7h0M187.7 215.8h0M188.0 211.7h0M190.6 220.6h0M183.6 203.8h0M186.9 202.1h0M187.9 228.3h0M183.3 203.7h0M185.7 209.2h0M183.3 220.6h0M183.7 201.8h0M188.5 215.2h0M186.9 213.9h0M183.4 214.2h0M186.6 222.6h0M183.3 204.7h0M186.5 209.9h0M186.0 215.2h0M183.5 219.8h0M188.2 209.8h0M190.6 209.3h0M191.1 228.3h0M183.5 225.5h0M188.3 222.6h0M183.9 223.6h0M183.7 216.9h0M186.3 214.9h0M185.8 216.1h0M185.7 220.4h0M199.8 197.9h0M194.5 197.9h0M189.6 185.3h0M185.9 211.2h0M192.5 192.2h0M189.2 207.3h0M187.6 205.6h0M195.1 206.9h0M187.1 214.6h0M186.6 200.4h0M195.5 211.0h0M192.0 209.0h0M185.4 202.4h0M191.9 219.0h0M189.5 193.7h0M191.5 211.2h0M193.3 191.0h0M192.2 200.9h0M191.6 219.7h0M192.6 207.7h0M187.1 204.2h0M189.0 195.2h0M190.8 200.2h0M194.2 193.6h0M190.7 184.8h0M194.8 209.1h0M192.3 210.8h0M186.8 203.8h0M188.4 201.0h0M196.9 211.0h0M195.6 206.8h0M191.3 213.0h0M187.0 206.0h0M187.6 202.4h0M189.3 220.3h0M183.8 213.4h0M183.3 206.0h0M188.8 225.3h0M190.9 198.7h0M192.5 213.9h0M193.7 200.4h0M195.5 196.7h0M192.2 223.1h0M187.4 199.7h0M197.5 209.9h0M187.9 220.4h0M191.8 200.6h0M190.6 200.2h0M190.8 205.9h0M188.2 198.1h0M188.9 217.3h0M186.5 197.7h0M184.0 211.5h0M197.0 210.0h0M197.3 207.4h0M193.1 214.9h0M185.9 198.0h0M190.6 198.0h0M191.6 212.1h0M188.3 202.3h0M189.4 209.7h0M183.8 210.4h0M192.3 210.3h0M190.8 199.8h0M186.3 208.5h0M187.8 202.0h0M192.5 202.0h0M183.8 205.8h0M192.1 201.1h0M187.9 199.4h0M190.2 207.5h0M187.7 215.8h0M192.3 204.4h0M187.3 203.4h0M188.5 199.7h0M191.5 200.9h0M191.0 223.9h0M185.6 199.0h0M193.6 190.2h0M194.1 190.4h0M194.4 200.0h0M192.1 213.5h0M186.5 206.2h0M194.5 219.4h0M185.3 211.8h0M192.9 200.0h0M193.0 196.2h0M194.5 210.8h0M192.3 191.2h0M194.0 214.0h0M190.8 206.7h0M202.2 202.6h0M202.5 188.0h0M199.3 191.6h0M204.6 181.4h0M193.5 215.2h0M206.1 207.8h0M191.4 199.9h0M201.9 195.2h0M203.5 209.9h0M198.2 197.7h0M190.5 198.2h0M193.0 186.1h0M214.5 176.8h0M192.4 202.5h0M188.1 206.2h0M194.6 196.6h0M203.3 188.8h0M211.7 170.4h0M198.4 199.4h0M194.2 210.1h0M194.0 204.5h0M198.5 178.5h0M192.6 220.7h0M197.7 207.6h0M198.3 190.4h0M206.7 183.8h0M195.8 205.3h0M201.7 189.7h0M192.8 204.0h0M193.5 188.1h0M205.7 192.7h0M198.5 194.1h0M197.8 184.1h0M199.3 207.9h0M195.9 218.6h0M189.7 187.0h0M204.4 196.3h0M191.9 198.4h0M200.1 205.8h0M202.0 195.8h0M201.2 189.1h0M207.2 190.2h0M189.1 216.8h0M196.7 194.8h0M195.6 186.4h0M200.1 188.5h0M208.0 184.2h0M201.6 205.1h0M196.5 211.5h0M189.4 207.0h0M190.7 207.8h0M187.6 194.4h0M192.9 181.4h0M201.9 196.6h0M199.9 196.3h0M187.1 214.2h0M196.2 189.2h0M204.0 188.9h0M201.7 182.9h0M201.5 185.3h0M204.5 201.1h0M199.8 202.1h0M185.1 219.0h0M193.3 200.8h0M212.9 198.3h0M193.4 209.6h0M202.4 187.6h0M201.5 212.9h0M203.6 206.3h0M199.8 207.9h0M204.1 216.7h0M203.7 210.3h0M207.2 210.2h0M201.8 219.3h0M207.0 227.9h0M203.0 204.8h0M186.5 201.7h0M200.0 197.5h0M197.0 209.4h0M203.1 207.6h0M204.6 217.3h0M215.4 212.3h0M214.5 218.0h0M204.6 211.7h0M207.3 209.1h0M215.3 215.4h0M210.8 205.8h0M197.5 215.5h0M200.6 206.1h0M200.8 200.9h0M200.6 219.3h0M210.7 214.7h0M207.1 205.4h0M204.0 212.8h0M205.1 222.1h0M202.0 211.7h0M205.0 220.2h0M205.2 207.6h0M197.0 201.1h0M195.1 212.2h0M214.2 211.6h0M200.9 211.2h0M200.6 222.8h0M199.6 206.4h0M202.7 215.8h0M202.0 214.0h0M198.7 198.9h0M209.5 226.3h0M200.8 211.4h0M210.4 215.0h0M188.0 210.3h0M202.1 213.9h0M195.8 208.3h0M202.2 220.8h0M199.8 209.0h0M196.4 204.0h0M188.2 174.8h0M189.8 220.0h0M215.3 175.4h0M203.0 169.3h0M187.3 214.4h0M197.2 198.1h0M207.1 214.2h0" stroke="#000" stroke-opacity="0.7" stroke-width="1.2" stroke-linecap="round" fill="none"/>
<path d="M184.8 210.5h0M190.6 213.6h0M189.1 217.3h0M185.2 222.9h0M184.1 211.4h0M186.2 208.1h0M184.0 223.6h0M185.0 207.4h0M188.1 213.8h0M189.3 211.8h0M188.5 217.7h0M183.6 207.8h0M183.9 217.5h0M185.2 216.3h0M184.1 215.0h0M185.1 211.2h0M187.0 203.3h0M188.8 210.9h0M188.1 216.1h0M188.6 216.7h0M187.5 208.4h0M188.4 225.5h0M188.4 215.8h0M189.1 220.3h0M190.9 197.2h0M186.6 221.6h0M186.5 221.0h0M183.6 213.5h0M183.3 222.8h0M187.2 210.7h0M183.4 218.4h0M183.5 220.6h0M184.7 216.6h0M184.4 214.0h0M184.2 222.8h0M185.6 208.3h0M189.8 217.7h0M187.3 204.0h0M189.4 218.8h0M186.6 205.1h0M186.7 220.4h0M186.5 220.9h0M186.7 208.6h0M183.6 214.0h0M187.0 224.9h0M187.1 221.9h0M185.4 213.5h0M184.1 226.7h0M188.3 217.1h0M184.8 218.4h0M183.8 227.1h0M185.5 228.4h0M188.1 218.6h0M184.8 207.9h0M188.4 220.8h0M183.4 205.8h0M187.4 207.9h0M183.9 217.7h0M188.1 214.8h0M189.3 214.5h0M186.0 215.7h0M185.2 216.2h0M187.5 226.5h0M185.5 217.3h0M185.4 206.6h0M186.7 219.1h0M191.9 197.5h0M185.8 210.9h0M190.9 211.6h0M188.3 206.5h0M187.6 219.2h0M187.8 217.1h0M185.0 208.8h0M185.4 227.2h0M185.4 225.1h0M185.4 227.2h0M183.9 204.4h0M186.4 216.2h0M187.9 204.7h0M184.8 224.6h0M183.5 216.5h0M187.7 225.6h0M189.5 227.4h0M183.4 213.6h0M185.4 210.5h0M186.6 224.3h0M191.3 224.8h0M187.5 214.8h0M186.9 215.7h0M186.9 219.2h0M188.6 217.4h0M191.6 214.0h0M185.8 211.9h0M190.6 228.7h0M186.9 214.8h0M183.4 216.2h0M190.3 210.5h0M187.0 221.7h0M191.9 228.3h0M184.3 209.3h0M184.5 216.4h0M190.1 217.7h0M194.2 221.3h0M184.8 219.2h0M185.0 218.0h0M189.5 210.3h0M189.8 218.3h0M183.6 212.0h0M188.8 219.6h0M183.4 222.4h0M185.6 225.9h0M185.6 219.9h0M183.9 222.5h0M183.7 214.7h0M185.6 214.6h0M188.5 210.2h0M188.8 221.1h0M189.0 216.3h0M183.4 222.8h0M186.0 212.3h0M191.9 210.9h0M184.5 211.4h0M186.3 223.0h0M187.0 217.3h0M185.7 227.2h0M191.0 224.3h0M190.5 209.9h0M186.8 204.9h0M189.3 221.0h0M187.3 223.6h0M184.8 211.0h0M186.9 221.5h0M186.1 211.6h0M186.4 210.9h0M188.9 225.4h0M187.0 212.8h0M183.5 211.5h0M183.3 220.3h0M183.3 225.8h0M183.5 217.8h0M184.7 209.6h0M188.9 202.3h0M186.7 218.1h0M189.9 218.4h0M185.7 225.1h0M189.4 211.9h0M185.2 216.0h0M188.6 217.4h0M190.0 203.2h0M185.6 208.0h0M186.9 211.0h0M184.1 212.7h0M188.7 214.6h0M187.5 218.1h0M186.6 222.2h0M188.0 210.9h0M187.4 225.0h0M186.8 216.6h0M188.2 199.8h0M190.2 212.6h0M189.8 212.2h0M187.5 217.2h0M185.9 206.8h0M185.9 218.1h0M183.6 214.9h0M185.6 211.1h0M185.0 220.6h0M185.8 208.9h0M187.8 215.4h0M190.1 227.8h0M184.1 220.2h0M187.5 222.8h0M192.8 219.4h0M183.3 222.0h0M188.6 219.3h0M188.5 216.9h0M185.7 213.2h0M183.2 211.1h0M185.9 205.3h0M183.3 221.0h0M183.6 212.8h0M187.1 226.3h0M186.6 208.1h0M188.6 215.8h0M183.7 219.4h0M183.5 214.8h0M184.3 216.2h0M188.8 222.0h0M187.5 222.0h0M191.0 211.0h0M183.4 208.7h0M183.4 222.4h0M184.0 219.6h0M188.0 192.3h0M186.2 208.2h0M190.6 202.1h0M186.4 201.5h0M195.4 211.8h0M190.0 196.6h0M193.0 198.1h0M190.2 202.0h0M196.5 196.3h0M189.0 219.0h0M186.5 206.9h0M189.4 213.6h0M187.0 201.4h0M193.7 182.2h0M191.3 203.1h0M187.8 202.7h0M184.4 198.0h0M188.7 209.6h0M193.3 216.9h0M191.9 201.3h0M191.7 191.3h0M190.4 199.3h0M192.3 204.7h0M189.9 204.2h0M192.9 213.9h0M186.3 206.3h0M187.1 217.0h0M196.4 218.6h0M184.6 194.5h0M195.3 183.0h0M191.9 201.8h0M185.0 199.3h0M195.6 201.5h0M197.0 207.2h0M190.3 214.2h0M192.0 209.0h0M193.4 199.3h0M193.2 199.5h0M187.5 198.6h0M189.8 213.2h0M191.3 199.9h0M190.4 207.0h0M190.7 196.5h0M192.0 208.1h0M191.8 216.3h0M186.3 213.6h0M188.5 202.6h0M190.2 198.6h0M189.5 217.0h0M186.9 219.5h0M189.6 195.5h0M192.7 197.8h0M185.7 227.8h0M190.5 205.0h0M188.4 208.1h0M183.2 203.9h0M196.6 220.0h0M194.9 208.8h0M189.5 206.8h0M190.2 198.8h0M188.6 201.5h0M191.8 222.5h0M193.9 192.6h0M191.5 213.0h0M191.4 207.8h0M193.1 219.4h0M191.0 199.4h0M185.1 191.2h0M189.8 202.0h0M199.3 208.5h0M190.0 212.5h0M190.4 200.3h0M186.8 196.5h0M193.7 213.7h0M192.2 224.5h0M183.6 203.4h0M188.1 206.2h0M183.7 207.5h0M184.6 206.8h0M205.3 201.2h0M201.8 195.6h0M201.7 193.5h0M199.3 183.5h0M191.0 200.1h0M205.0 178.0h0M202.4 187.0h0M201.9 194.5h0M205.2 194.0h0M192.6 183.8h0M197.7 202.5h0M204.8 190.3h0M197.7 202.4h0M190.4 228.3h0M191.6 212.3h0M199.5 206.9h0M209.6 180.2h0M204.4 191.3h0M200.4 207.6h0M203.4 188.2h0M192.2 200.6h0M199.3 188.6h0M194.5 198.5h0M204.7 188.6h0M196.5 204.7h0M205.4 204.7h0M199.4 197.1h0M191.0 201.8h0M198.1 184.1h0M207.0 184.9h0M205.3 198.6h0M204.3 174.1h0M192.1 188.2h0M192.8 188.9h0M205.8 201.7h0M192.1 188.9h0M206.2 204.6h0M212.9 187.7h0M205.8 190.3h0M200.9 205.2h0M196.6 196.7h0M195.3 175.4h0M199.0 194.2h0M202.1 190.5h0M203.2 206.3h0M199.3 209.4h0M202.0 203.7h0M192.5 204.4h0M209.1 214.7h0M199.9 203.7h0M211.4 191.5h0M199.1 192.4h0M198.2 187.3h0M206.3 176.9h0M199.0 196.7h0M201.4 186.2h0M191.9 194.2h0M200.5 206.5h0M208.9 188.4h0M197.9 192.6h0M198.2 201.8h0M200.3 187.4h0M202.9 178.8h0M200.2 200.1h0M200.7 183.4h0M192.4 182.1h0M200.8 187.3h0M206.3 187.0h0M193.7 216.9h0M201.9 212.9h0M202.4 209.4h0M218.6 210.5h0M201.5 215.4h0M211.7 212.1h0M202.0 203.4h0M199.2 195.0h0M209.4 198.0h0M198.7 195.2h0M209.8 207.9h0M205.6 213.3h0M205.9 218.3h0M204.5 212.4h0M201.9 213.3h0M198.3 203.9h0M204.6 220.1h0M207.9 213.3h0M208.3 209.8h0M215.4 220.3h0M204.8 204.9h0M203.4 207.8h0M203.6 216.3h0M204.8 220.8h0M209.8 205.9h0M209.2 213.9h0M217.8 202.6h0M202.8 209.4h0M199.7 224.2h0M207.8 221.2h0M207.6 208.6h0M195.7 198.3h0M207.8 223.0h0M206.7 209.2h0M209.5 198.9h0M202.6 223.6h0M209.3 218.5h0M201.0 201.9h0M205.5 208.3h0M203.2 207.1h0M204.9 207.7h0M193.6 203.4h0M198.9 218.1h0M203.1 203.8h0M207.4 207.2h0M209.8 217.3h0M202.5 218.7h0M196.2 227.7h0M208.9 221.5h0M201.0 209.7h0M202.6 203.7h0M202.2 197.5h0M195.2 187.6h0M218.5 184.0h0M203.7 227.4h0M207.9 182.9h0" stroke="#000" stroke-opacity="0.95" stroke-width="1.2" stroke-linecap="round" fill="none"/>
<line x1="165" y1="230.5" x2="249" y2="230.5" stroke="#333" stroke-width="1" stroke-dasharray="1 2.3" stroke-opacity="0.7"/>
<line x1="164.5" y1="155" x2="164.5" y2="230" stroke="#333" stroke-width="1" stroke-dasharray="1 2.3" stroke-opacity="0.6"/>
<text transform="matrix(0.15694,0,0,0.15846,168.175,164.740)" font-size="60" font-family='"Liberation Serif", serif' font-weight="normal" fill="#111" stroke="#111" stroke-width="0.76" stroke-linejoin="round">13.3</text>
<text transform="matrix(0.18400,0,0,0.16359,231.708,164.740)" font-size="60" font-family='"Liberation Serif", serif' font-weight="normal" fill="#111" stroke="#111" stroke-width="0.69" stroke-linejoin="round">6.0</text>
<text transform="matrix(0.08750,0,0,0.08846,163.725,236.875)" font-size="60" font-family='"Liberation Mono", monospace' font-weight="normal" fill="#1a1a1a" stroke="#1a1a1a" stroke-width="2.84" stroke-linejoin="round">0</text>
<text transform="matrix(0.08516,0,0,0.08846,177.984,236.875)" font-size="60" font-family='"Liberation Mono", monospace' font-weight="normal" fill="#1a1a1a" stroke="#1a1a1a" stroke-width="2.88" stroke-linejoin="round">50</text>
<text transform="matrix(0.08450,0,0,0.08846,192.237,236.875)" font-size="60" font-family='"Liberation Mono", monospace' font-weight="normal" fill="#1a1a1a" stroke="#1a1a1a" stroke-width="2.89" stroke-linejoin="round">100</text>
<text transform="matrix(0.08450,0,0,0.08846,207.987,236.875)" font-size="60" font-family='"Liberation Mono", monospace' font-weight="normal" fill="#1a1a1a" stroke="#1a1a1a" stroke-width="2.89" stroke-linejoin="round">150</text>
<text transform="matrix(0.08450,0,0,0.08846,223.737,236.875)" font-size="60" font-family='"Liberation Mono", monospace' font-weight="normal" fill="#1a1a1a" stroke="#1a1a1a" stroke-width="2.89" stroke-linejoin="round">200</text>
<text transform="matrix(0.08450,0,0,0.08846,239.487,236.875)" font-size="60" font-family='"Liberation Mono", monospace' font-weight="normal" fill="#1a1a1a" stroke="#1a1a1a" stroke-width="2.89" stroke-linejoin="round">250</text>
<text transform="matrix(0.13683,0,0,0.08415,166.491,241.925)" font-size="60" font-family='"Liberation Sans", sans-serif' font-weight="normal" fill="#222" stroke="#222" stroke-width="1.36" stroke-linejoin="round">FSC ---&gt;</text>
<text transform="matrix(0,-0.11645,0.08625,0,162.225,234.507)" font-size="60" font-family='"Liberation Serif", serif' font-weight="normal" fill="#1a1a1a" stroke="#1a1a1a" stroke-width="1.48" stroke-linejoin="round">10°</text>
<text transform="matrix(0,-0.12465,0.08625,0,162.225,216.048)" font-size="60" font-family='"Liberation Serif", serif' font-weight="normal" fill="#1a1a1a" stroke="#1a1a1a" stroke-width="1.42" stroke-linejoin="round">10¹</text>
<text transform="matrix(0,-0.12292,0.08625,0,162.225,197.540)" font-size="60" font-family='"Liberation Serif", serif' font-weight="normal" fill="#1a1a1a" stroke="#1a1a1a" stroke-width="1.43" stroke-linejoin="round">10²</text>
<text transform="matrix(0,-0.12292,0.08415,0,162.225,179.040)" font-size="60" font-family='"Liberation Serif", serif' font-weight="normal" fill="#1a1a1a" stroke="#1a1a1a" stroke-width="1.45" stroke-linejoin="round">10³</text>
<text transform="matrix(0,-0.11959,0.08625,0,162.225,160.523)" font-size="60" font-family='"Liberation Serif", serif' font-weight="normal" fill="#1a1a1a" stroke="#1a1a1a" stroke-width="1.46" stroke-linejoin="round">10⁴</text>
<text transform="matrix(0,-0.14130,0.07195,0,154.075,227.082)" font-size="60" font-family='"Liberation Sans", sans-serif' font-weight="normal" fill="#222" stroke="#222" stroke-width="2.34" stroke-linejoin="round">FL1 ---&gt;</text>
<text transform="matrix(0.15025,0,0,0.16154,258.199,190.600)" font-size="60" font-family='"Liberation Serif", serif' font-weight="normal" fill="#111" stroke="#111" stroke-width="1.28" stroke-linejoin="round">50-55 %</text>
<text transform="matrix(0.15928,0,0,0.14878,258.981,201.500)" font-size="60" font-family='"Liberation Serif", serif' font-weight="normal" fill="#111" stroke="#111" stroke-width="1.30" stroke-linejoin="round">Percoll</text>
<line x1="164.5" y1="255" x2="164.5" y2="331" stroke="#2a2a2a" stroke-width="1.2"/>
<line x1="246.5" y1="255" x2="246.5" y2="331" stroke="#2a2a2a" stroke-width="1.2"/>
<line x1="164" y1="255.5" x2="247" y2="255.5" stroke="#2a2a2a" stroke-width="1.2"/>
<line x1="164" y1="330.5" x2="247" y2="330.5" stroke="#2a2a2a" stroke-width="1.2"/>
<line x1="196.5" y1="255" x2="196.5" y2="331" stroke="#3a3a3a" stroke-width="1"/>
<line x1="164" y1="305.5" x2="247" y2="305.5" stroke="#3a3a3a" stroke-width="1"/>
<path d="M186.2 312.4h0M187.5 321.9h0M187.0 320.8h0M184.8 316.4h0M188.7 309.0h0M184.7 296.1h0M185.4 316.4h0M184.4 310.5h0M184.8 317.4h0M186.3 308.9h0M185.1 320.5h0M191.2 323.1h0M185.0 313.4h0M186.9 310.9h0M185.8 320.6h0M184.2 319.3h0M185.3 310.4h0M187.8 316.1h0M185.1 308.3h0M187.6 319.1h0M185.6 318.7h0M183.9 308.7h0M187.7 318.4h0M183.3 316.9h0M186.7 314.6h0M185.4 327.5h0M183.8 322.6h0M187.0 317.4h0M188.9 311.0h0M184.5 304.9h0M186.5 298.1h0M185.3 325.2h0M184.0 326.5h0M184.9 320.5h0M186.4 302.2h0M184.3 322.3h0M184.8 300.9h0M183.1 312.8h0M182.7 311.0h0M185.1 303.6h0M186.7 324.5h0M186.7 310.6h0M185.8 313.0h0M184.9 309.0h0M188.7 312.0h0M187.4 327.0h0M186.1 322.7h0M185.6 309.6h0M187.1 299.4h0M185.0 326.9h0M182.6 313.7h0M186.5 316.3h0M185.7 309.4h0M184.2 312.9h0M186.0 318.1h0M182.6 303.8h0M185.4 303.7h0M187.6 321.6h0M186.3 317.6h0M186.3 312.1h0M184.3 314.1h0M186.1 301.7h0M187.3 322.0h0M183.0 316.7h0M187.5 321.9h0M188.5 326.3h0M184.8 318.9h0M188.7 305.3h0M185.0 310.3h0M186.9 323.4h0M186.0 312.1h0M185.5 313.8h0M183.9 321.7h0M185.7 308.0h0M184.1 312.0h0M186.2 323.9h0M187.7 305.2h0M184.0 312.2h0M186.5 317.1h0M184.4 310.3h0M188.6 311.2h0M185.9 318.9h0M188.0 311.0h0M185.8 324.5h0M185.4 310.6h0M185.7 318.1h0M184.2 318.0h0M185.5 312.1h0M188.6 314.7h0M184.2 313.1h0M185.7 311.7h0M188.6 321.6h0M186.1 311.1h0M184.6 317.7h0M186.0 317.0h0M186.2 322.9h0M187.1 311.0h0M188.4 324.7h0M182.9 304.0h0M183.0 299.0h0M184.7 303.3h0M187.6 298.4h0M185.0 295.9h0M184.5 297.3h0" stroke="#000" stroke-opacity="0.45" stroke-width="1.2" stroke-linecap="round" fill="none"/>
<path d="M186.9 314.0h0M186.4 322.6h0M183.2 311.1h0M185.9 321.7h0M188.3 319.1h0M185.7 315.8h0M183.9 317.9h0M189.2 311.5h0M183.6 320.0h0M183.3 305.1h0M186.2 319.5h0M182.7 318.0h0M184.7 311.6h0M185.6 321.6h0M188.0 301.6h0M190.1 317.7h0M185.5 322.9h0M184.7 323.6h0M184.1 320.2h0M184.7 322.0h0M182.5 305.3h0M187.3 317.7h0M184.9 321.7h0M184.3 320.0h0M182.8 327.6h0M187.8 308.7h0M185.1 324.9h0M185.9 317.0h0M185.4 315.4h0M184.8 323.6h0M185.9 302.9h0M189.2 307.3h0M184.6 319.7h0M188.3 309.5h0M184.8 323.4h0M187.0 323.8h0M186.3 317.1h0M188.0 319.2h0M184.8 322.1h0M186.4 329.6h0M183.2 321.0h0M190.7 306.9h0M185.9 320.5h0M186.1 314.3h0M186.9 316.7h0M187.0 317.6h0M186.5 319.0h0M185.5 316.0h0M185.9 309.6h0M183.2 327.3h0M183.3 323.1h0M187.6 313.9h0M188.5 311.8h0M184.8 319.1h0M186.9 306.7h0M186.3 321.7h0M185.2 312.8h0M188.0 306.1h0M186.1 312.7h0M183.6 318.4h0M182.5 318.8h0M184.2 324.6h0M187.0 293.7h0M183.9 315.6h0M189.6 308.1h0M185.7 313.8h0M188.6 319.2h0M187.7 316.7h0M186.7 328.6h0M185.7 323.0h0M185.1 315.3h0M184.1 314.9h0M187.4 325.2h0M184.7 309.1h0M185.0 304.0h0M185.1 315.2h0M187.8 324.4h0M190.4 324.0h0M189.0 316.5h0M185.5 320.7h0M186.9 328.4h0M182.6 326.8h0M183.9 306.9h0M182.6 321.0h0M187.7 318.9h0M188.7 306.7h0M185.7 325.4h0M184.4 322.8h0M183.5 308.4h0M184.0 312.1h0M186.0 323.7h0M188.4 308.2h0M185.5 295.3h0M184.9 296.8h0M185.7 300.6h0M185.2 304.3h0M186.2 301.7h0" stroke="#000" stroke-opacity="0.7" stroke-width="1.2" stroke-linecap="round" fill="none"/>
<path d="M185.7 309.7h0M182.7 316.8h0M187.4 324.7h0M187.4 326.8h0M185.2 313.0h0M185.2 316.3h0M185.2 313.1h0M184.6 318.5h0M186.0 310.1h0M184.3 319.6h0M183.5 316.6h0M184.7 298.5h0M182.6 320.7h0M187.7 317.3h0M186.4 310.7h0M186.0 327.7h0M189.4 319.6h0M188.0 317.0h0M183.5 323.0h0M182.6 311.8h0M186.3 316.2h0M186.0 323.3h0M186.9 325.6h0M187.2 310.7h0M183.1 307.1h0M183.5 309.7h0M186.7 317.5h0M182.9 306.5h0M187.0 314.9h0M185.0 306.8h0M184.8 308.3h0M188.0 307.5h0M188.9 325.1h0M183.0 305.1h0M183.1 307.6h0M186.9 315.4h0M189.4 325.0h0M186.1 316.8h0M189.5 317.0h0M188.1 321.7h0M187.5 319.1h0M184.1 320.1h0M185.8 323.0h0M186.6 315.8h0M183.4 329.3h0M185.9 319.0h0M183.5 325.5h0M188.9 323.3h0M185.0 315.0h0M185.0 323.4h0M187.7 325.8h0M188.3 321.7h0M184.9 308.8h0M182.8 320.0h0M184.9 329.5h0M188.4 305.4h0M183.1 314.7h0M185.2 320.9h0M189.0 319.8h0M182.5 325.6h0M184.0 314.2h0M184.8 319.2h0M189.1 318.2h0M184.9 327.7h0M183.0 311.6h0M184.8 318.5h0M182.6 314.7h0M188.1 324.8h0M186.3 314.4h0M188.0 324.6h0M187.1 311.8h0M187.4 326.9h0M187.2 320.2h0M183.7 307.9h0M185.0 319.9h0M184.6 312.3h0M186.3 301.7h0M189.0 322.6h0M187.2 321.6h0M183.5 322.7h0M183.6 311.4h0M186.6 325.8h0M186.4 318.6h0M188.2 300.3h0M187.4 318.6h0M187.0 322.7h0M187.5 315.6h0M183.5 326.8h0M183.1 312.8h0M184.7 305.5h0M187.7 323.0h0M187.4 323.4h0M183.3 309.8h0M187.4 322.0h0M187.4 314.5h0M184.0 297.5h0M187.0 306.7h0M183.7 295.1h0" stroke="#000" stroke-opacity="0.95" stroke-width="1.2" stroke-linecap="round" fill="none"/>
<path d="M186.7 290.6h0M183.8 294.3h0M185.5 282.4h0M188.6 294.4h0M189.4 295.6h0M184.9 295.0h0M184.2 283.9h0M186.7 289.3h0" stroke="#000" stroke-opacity="0.3" stroke-width="1.2" stroke-linecap="round" fill="none"/>
<line x1="164" y1="331.5" x2="247" y2="331.5" stroke="#333" stroke-width="1" stroke-dasharray="1 2.3" stroke-opacity="0.7"/>
<line x1="163.5" y1="255" x2="163.5" y2="331" stroke="#333" stroke-width="1" stroke-dasharray="1 2.3" stroke-opacity="0.6"/>
<text transform="matrix(0.17014,0,0,0.16615,166.550,266.340)" font-size="60" font-family='"Liberation Serif", serif' font-weight="normal" fill="#111" stroke="#111" stroke-width="0.71" stroke-linejoin="round">3.4</text>
<text transform="matrix(0.17859,0,0,0.15590,229.703,265.940)" font-size="60" font-family='"Liberation Serif", serif' font-weight="normal" fill="#111" stroke="#111" stroke-width="0.72" stroke-linejoin="round">0.0</text>
<text transform="matrix(0.08750,0,0,0.08846,162.725,337.875)" font-size="60" font-family='"Liberation Mono", monospace' font-weight="normal" fill="#1a1a1a" stroke="#1a1a1a" stroke-width="2.84" stroke-linejoin="round">0</text>
<text transform="matrix(0.08516,0,0,0.08846,176.984,337.875)" font-size="60" font-family='"Liberation Mono", monospace' font-weight="normal" fill="#1a1a1a" stroke="#1a1a1a" stroke-width="2.88" stroke-linejoin="round">50</text>
<text transform="matrix(0.08450,0,0,0.08846,191.237,337.875)" font-size="60" font-family='"Liberation Mono", monospace' font-weight="normal" fill="#1a1a1a" stroke="#1a1a1a" stroke-width="2.89" stroke-linejoin="round">100</text>
<text transform="matrix(0.08450,0,0,0.08846,206.987,337.875)" font-size="60" font-family='"Liberation Mono", monospace' font-weight="normal" fill="#1a1a1a" stroke="#1a1a1a" stroke-width="2.89" stroke-linejoin="round">150</text>
<text transform="matrix(0.08450,0,0,0.08846,222.737,337.875)" font-size="60" font-family='"Liberation Mono", monospace' font-weight="normal" fill="#1a1a1a" stroke="#1a1a1a" stroke-width="2.89" stroke-linejoin="round">200</text>
<text transform="matrix(0.08450,0,0,0.08846,238.487,337.875)" font-size="60" font-family='"Liberation Mono", monospace' font-weight="normal" fill="#1a1a1a" stroke="#1a1a1a" stroke-width="2.89" stroke-linejoin="round">250</text>
<text transform="matrix(0.13683,0,0,0.08415,165.491,342.925)" font-size="60" font-family='"Liberation Sans", sans-serif' font-weight="normal" fill="#222" stroke="#222" stroke-width="1.36" stroke-linejoin="round">FSC ---&gt;</text>
<text transform="matrix(0,-0.11645,0.08625,0,161.225,335.507)" font-size="60" font-family='"Liberation Serif", serif' font-weight="normal" fill="#1a1a1a" stroke="#1a1a1a" stroke-width="1.48" stroke-linejoin="round">10°</text>
<text transform="matrix(0,-0.12465,0.08625,0,161.225,316.798)" font-size="60" font-family='"Liberation Serif", serif' font-weight="normal" fill="#1a1a1a" stroke="#1a1a1a" stroke-width="1.42" stroke-linejoin="round">10¹</text>
<text transform="matrix(0,-0.12292,0.08625,0,161.225,298.040)" font-size="60" font-family='"Liberation Serif", serif' font-weight="normal" fill="#1a1a1a" stroke="#1a1a1a" stroke-width="1.43" stroke-linejoin="round">10²</text>
<text transform="matrix(0,-0.12292,0.08415,0,161.225,279.290)" font-size="60" font-family='"Liberation Serif", serif' font-weight="normal" fill="#1a1a1a" stroke="#1a1a1a" stroke-width="1.45" stroke-linejoin="round">10³</text>
<text transform="matrix(0,-0.11959,0.08625,0,161.225,260.523)" font-size="60" font-family='"Liberation Serif", serif' font-weight="normal" fill="#1a1a1a" stroke="#1a1a1a" stroke-width="1.46" stroke-linejoin="round">10⁴</text>
<text transform="matrix(0,-0.14130,0.07195,0,153.075,328.082)" font-size="60" font-family='"Liberation Sans", sans-serif' font-weight="normal" fill="#222" stroke="#222" stroke-width="2.34" stroke-linejoin="round">FL1 ---&gt;</text>
<text transform="matrix(0.14800,0,0,0.15897,257.656,293.900)" font-size="60" font-family='"Liberation Serif", serif' font-weight="normal" fill="#111" stroke="#111" stroke-width="1.30" stroke-linejoin="round">65-70 %</text>
<text transform="matrix(0.15689,0,0,0.14878,257.786,304.600)" font-size="60" font-family='"Liberation Serif", serif' font-weight="normal" fill="#111" stroke="#111" stroke-width="1.31" stroke-linejoin="round">Percoll</text>
<text transform="matrix(0,-0.14592,0.20364,0,137.156,264.630)" font-size="60" font-family='"Liberation Sans", sans-serif' font-weight="normal" fill="#2a2a2a">Fluorescence (GAS autoantibody)</text>
<text transform="matrix(0.14891,0,0,0.16512,169.755,358.400)" font-size="60" font-family='"Liberation Sans", sans-serif' font-weight="normal" fill="#2a2a2a">Forward scatter</text>
<line x1="320.5" y1="60.8" x2="320.5" y2="117.0" stroke="#222" stroke-width="1.1"/>
<line x1="316.9" y1="116.5" x2="376.4" y2="116.5" stroke="#222" stroke-width="1.1"/>
<text transform="matrix(0.05893,0,0,0.06951,319.089,120.675)" font-size="60" font-family='"Liberation Sans", sans-serif' font-weight="bold" fill="#1a1a1a" stroke="#1a1a1a" stroke-width="3.89" stroke-linejoin="round">10°</text>
<text transform="matrix(0.06111,0,0,0.06951,332.731,120.675)" font-size="60" font-family='"Liberation Sans", sans-serif' font-weight="bold" fill="#1a1a1a" stroke="#1a1a1a" stroke-width="3.83" stroke-linejoin="round">10¹</text>
<text transform="matrix(0.06111,0,0,0.06786,346.381,120.675)" font-size="60" font-family='"Liberation Sans", sans-serif' font-weight="bold" fill="#1a1a1a" stroke="#1a1a1a" stroke-width="3.88" stroke-linejoin="round">10²</text>
<text transform="matrix(0.06111,0,0,0.06786,360.031,120.675)" font-size="60" font-family='"Liberation Sans", sans-serif' font-weight="bold" fill="#1a1a1a" stroke="#1a1a1a" stroke-width="3.88" stroke-linejoin="round">10³</text>
<text transform="matrix(0.05562,0,0,0.06951,373.703,120.675)" font-size="60" font-family='"Liberation Sans", sans-serif' font-weight="bold" fill="#1a1a1a" stroke="#1a1a1a" stroke-width="4.00" stroke-linejoin="round">10⁴</text>
<text transform="matrix(0.06071,0,0,0.08049,316.768,63.250)" font-size="60" font-family='"Liberation Sans", sans-serif' font-weight="normal" fill="#222" stroke="#222" stroke-width="4.25" stroke-linejoin="round">5</text>
<path d="M321.00 116.30C321.28 111.92 322.20 98.05 322.70 90.00C323.20 81.95 323.63 72.55 324.00 68.00C324.37 63.45 324.57 62.70 324.90 62.70C325.23 62.70 325.65 65.12 326.00 68.00C326.35 70.88 326.45 74.67 327.00 80.00C327.55 85.33 328.63 93.95 329.30 100.00C329.97 106.05 330.72 113.58 331.00 116.30" fill="none" stroke="#383838" stroke-width="0.95" stroke-linejoin="round"/>
<path d="M330.50 116.30C330.83 114.92 331.82 110.67 332.50 108.00C333.18 105.33 333.80 102.77 334.60 100.30C335.40 97.83 336.48 94.75 337.30 93.20C338.12 91.65 338.77 91.73 339.50 91.00C340.23 90.27 341.03 88.47 341.70 88.80C342.37 89.13 342.90 91.08 343.50 93.00C344.10 94.92 344.42 97.47 345.30 100.30C346.18 103.13 347.85 107.63 348.80 110.00C349.75 112.37 350.22 113.45 351.00 114.50C351.78 115.55 353.08 116.00 353.50 116.30" fill="none" stroke="#383838" stroke-width="0.95" stroke-linejoin="round"/>
<text transform="matrix(0.19782,0,0,0.20205,354.617,71.090)" font-size="60" font-family='"Liberation Mono", monospace' font-weight="normal" fill="#111" stroke="#111" stroke-width="1.10" stroke-linejoin="round">CEM</text>
<text transform="matrix(0.10405,0,0,0.10488,327.638,71.650)" font-size="60" font-family='"Liberation Sans", sans-serif' font-weight="normal" fill="#111" stroke="#111" stroke-width="2.87" stroke-linejoin="round">C–</text>
<text transform="matrix(0.09959,0,0,0.10122,345.376,95.825)" font-size="60" font-family='"Liberation Sans", sans-serif' font-weight="normal" fill="#111" stroke="#111" stroke-width="3.49" stroke-linejoin="round">GAS</text>
<line x1="387.5" y1="61" x2="387.5" y2="117.0" stroke="#222" stroke-width="1.1"/>
<line x1="384.4" y1="116.5" x2="443.9" y2="116.5" stroke="#222" stroke-width="1.1"/>
<text transform="matrix(0.05893,0,0,0.06951,386.589,120.375)" font-size="60" font-family='"Liberation Sans", sans-serif' font-weight="bold" fill="#1a1a1a" stroke="#1a1a1a" stroke-width="3.89" stroke-linejoin="round">10°</text>
<text transform="matrix(0.06111,0,0,0.06951,400.231,120.375)" font-size="60" font-family='"Liberation Sans", sans-serif' font-weight="bold" fill="#1a1a1a" stroke="#1a1a1a" stroke-width="3.83" stroke-linejoin="round">10¹</text>
<text transform="matrix(0.06111,0,0,0.06786,413.881,120.375)" font-size="60" font-family='"Liberation Sans", sans-serif' font-weight="bold" fill="#1a1a1a" stroke="#1a1a1a" stroke-width="3.88" stroke-linejoin="round">10²</text>
<text transform="matrix(0.06111,0,0,0.06786,427.531,120.375)" font-size="60" font-family='"Liberation Sans", sans-serif' font-weight="bold" fill="#1a1a1a" stroke="#1a1a1a" stroke-width="3.88" stroke-linejoin="round">10³</text>
<text transform="matrix(0.05562,0,0,0.06951,441.203,120.375)" font-size="60" font-family='"Liberation Sans", sans-serif' font-weight="bold" fill="#1a1a1a" stroke="#1a1a1a" stroke-width="4.00" stroke-linejoin="round">10⁴</text>
<text transform="matrix(0.06071,0,0,0.08049,384.268,63.450)" font-size="60" font-family='"Liberation Sans", sans-serif' font-weight="normal" fill="#222" stroke="#222" stroke-width="4.25" stroke-linejoin="round">5</text>
<path d="M388.30 108.00C388.50 107.83 389.03 108.28 389.50 107.00C389.97 105.72 390.48 104.80 391.10 100.30C391.72 95.80 392.55 84.58 393.20 80.00C393.85 75.42 394.43 72.80 395.00 72.80C395.57 72.80 396.07 77.18 396.60 80.00C397.13 82.82 397.50 85.57 398.20 89.70C398.90 93.83 399.92 100.42 400.80 104.80C401.68 109.18 403.05 114.13 403.50 116.00" fill="none" stroke="#383838" stroke-width="0.95" stroke-linejoin="round"/>
<path d="M397.30 116.00C397.67 115.67 398.77 115.17 399.50 114.00C400.23 112.83 400.88 112.02 401.70 109.00C402.52 105.98 403.65 98.53 404.40 95.90C405.15 93.27 405.32 94.53 406.20 93.20C407.08 91.87 408.67 87.60 409.70 87.90C410.73 88.20 411.60 92.05 412.40 95.00C413.20 97.95 413.90 102.60 414.50 105.60C415.10 108.60 415.47 111.27 416.00 113.00C416.53 114.73 417.42 115.50 417.70 116.00" fill="none" stroke="#383838" stroke-width="0.95" stroke-linejoin="round"/>
<text transform="matrix(0.18555,0,0,0.19949,407.382,69.690)" font-size="60" font-family='"Liberation Mono", monospace' font-weight="normal" fill="#111" stroke="#111" stroke-width="1.14" stroke-linejoin="round">JURKAT</text>
<text transform="matrix(0.10405,0,0,0.10488,396.238,78.150)" font-size="60" font-family='"Liberation Sans", sans-serif' font-weight="normal" fill="#111" stroke="#111" stroke-width="2.87" stroke-linejoin="round">C–</text>
<text transform="matrix(0.09959,0,0,0.10122,413.776,92.025)" font-size="60" font-family='"Liberation Sans", sans-serif' font-weight="normal" fill="#111" stroke="#111" stroke-width="3.49" stroke-linejoin="round">GAS</text>
<line x1="457.5" y1="59.9" x2="457.5" y2="115.0" stroke="#222" stroke-width="1.1"/>
<line x1="453.9" y1="114.5" x2="513.4" y2="114.5" stroke="#222" stroke-width="1.1"/>
<text transform="matrix(0.05893,0,0,0.06951,456.089,118.875)" font-size="60" font-family='"Liberation Sans", sans-serif' font-weight="bold" fill="#1a1a1a" stroke="#1a1a1a" stroke-width="3.89" stroke-linejoin="round">10°</text>
<text transform="matrix(0.06111,0,0,0.06951,469.731,118.875)" font-size="60" font-family='"Liberation Sans", sans-serif' font-weight="bold" fill="#1a1a1a" stroke="#1a1a1a" stroke-width="3.83" stroke-linejoin="round">10¹</text>
<text transform="matrix(0.06111,0,0,0.06786,483.381,118.875)" font-size="60" font-family='"Liberation Sans", sans-serif' font-weight="bold" fill="#1a1a1a" stroke="#1a1a1a" stroke-width="3.88" stroke-linejoin="round">10²</text>
<text transform="matrix(0.06111,0,0,0.06786,497.031,118.875)" font-size="60" font-family='"Liberation Sans", sans-serif' font-weight="bold" fill="#1a1a1a" stroke="#1a1a1a" stroke-width="3.88" stroke-linejoin="round">10³</text>
<text transform="matrix(0.05562,0,0,0.06951,510.703,118.875)" font-size="60" font-family='"Liberation Sans", sans-serif' font-weight="bold" fill="#1a1a1a" stroke="#1a1a1a" stroke-width="4.00" stroke-linejoin="round">10⁴</text>
<text transform="matrix(0.06071,0,0,0.08049,453.768,62.350)" font-size="60" font-family='"Liberation Sans", sans-serif' font-weight="normal" fill="#222" stroke="#222" stroke-width="4.25" stroke-linejoin="round">5</text>
<path d="M458.00 114.50C458.20 112.08 458.80 105.75 459.20 100.00C459.60 94.25 459.95 85.57 460.40 80.00C460.85 74.43 461.42 66.60 461.90 66.60C462.38 66.60 462.78 74.43 463.30 80.00C463.82 85.57 464.35 95.00 465.00 100.00C465.65 105.00 466.40 107.58 467.20 110.00C468.00 112.42 469.37 113.75 469.80 114.50" fill="none" stroke="#383838" stroke-width="0.95" stroke-linejoin="round"/>
<path d="M477.80 114.50C478.17 113.83 479.25 112.12 480.00 110.50C480.75 108.88 481.33 107.08 482.30 104.80C483.27 102.52 484.77 99.02 485.80 96.80C486.83 94.58 487.62 92.90 488.50 91.50C489.38 90.10 490.22 87.97 491.10 88.40C491.98 88.83 492.92 91.23 493.80 94.10C494.68 96.97 495.67 102.62 496.40 105.60C497.13 108.58 497.60 110.52 498.20 112.00C498.80 113.48 499.70 114.08 500.00 114.50" fill="none" stroke="#383838" stroke-width="0.95" stroke-linejoin="round"/>
<text transform="matrix(0.18938,0,0,0.19436,473.352,68.690)" font-size="60" font-family='"Liberation Mono", monospace' font-weight="normal" fill="#111" stroke="#111" stroke-width="1.15" stroke-linejoin="round">MOLT-4</text>
<text transform="matrix(0.10405,0,0,0.10488,465.238,81.050)" font-size="60" font-family='"Liberation Sans", sans-serif' font-weight="normal" fill="#111" stroke="#111" stroke-width="2.87" stroke-linejoin="round">C–</text>
<text transform="matrix(0.09959,0,0,0.10122,495.676,91.625)" font-size="60" font-family='"Liberation Sans", sans-serif' font-weight="normal" fill="#111" stroke="#111" stroke-width="3.49" stroke-linejoin="round">GAS</text>
<line x1="321.5" y1="133.3" x2="321.5" y2="187.0" stroke="#222" stroke-width="1.1"/>
<line x1="317.5" y1="186.5" x2="377" y2="186.5" stroke="#222" stroke-width="1.1"/>
<text transform="matrix(0.05893,0,0,0.06951,319.689,190.875)" font-size="60" font-family='"Liberation Sans", sans-serif' font-weight="bold" fill="#1a1a1a" stroke="#1a1a1a" stroke-width="3.89" stroke-linejoin="round">10°</text>
<text transform="matrix(0.06111,0,0,0.06951,333.331,190.875)" font-size="60" font-family='"Liberation Sans", sans-serif' font-weight="bold" fill="#1a1a1a" stroke="#1a1a1a" stroke-width="3.83" stroke-linejoin="round">10¹</text>
<text transform="matrix(0.06111,0,0,0.06786,346.981,190.875)" font-size="60" font-family='"Liberation Sans", sans-serif' font-weight="bold" fill="#1a1a1a" stroke="#1a1a1a" stroke-width="3.88" stroke-linejoin="round">10²</text>
<text transform="matrix(0.06111,0,0,0.06786,360.631,190.875)" font-size="60" font-family='"Liberation Sans", sans-serif' font-weight="bold" fill="#1a1a1a" stroke="#1a1a1a" stroke-width="3.88" stroke-linejoin="round">10³</text>
<text transform="matrix(0.05562,0,0,0.06951,374.303,190.875)" font-size="60" font-family='"Liberation Sans", sans-serif' font-weight="bold" fill="#1a1a1a" stroke="#1a1a1a" stroke-width="4.00" stroke-linejoin="round">10⁴</text>
<text transform="matrix(0.06071,0,0,0.08049,317.368,135.750)" font-size="60" font-family='"Liberation Sans", sans-serif' font-weight="normal" fill="#222" stroke="#222" stroke-width="4.25" stroke-linejoin="round">5</text>
<path d="M321.50 183.00C321.70 182.10 322.20 180.85 322.70 177.60C323.20 174.35 323.98 167.93 324.50 163.50C325.02 159.07 325.38 154.32 325.80 151.00C326.22 147.68 326.42 143.00 327.00 143.60C327.58 144.20 328.62 149.82 329.30 154.60C329.98 159.38 330.52 167.87 331.10 172.30C331.68 176.73 332.07 178.83 332.80 181.20C333.53 183.57 335.05 185.62 335.50 186.50" fill="none" stroke="#383838" stroke-width="0.95" stroke-linejoin="round"/>
<path d="M335.10 186.50C335.75 185.32 337.75 182.05 339.00 179.40C340.25 176.75 341.70 172.82 342.60 170.60C343.50 168.38 343.87 167.88 344.40 166.10C344.93 164.32 345.37 160.63 345.80 159.90C346.23 159.17 346.20 159.92 347.00 161.70C347.80 163.48 349.42 167.65 350.60 170.60C351.78 173.55 352.92 177.10 354.10 179.40C355.28 181.70 356.37 183.22 357.70 184.40C359.03 185.58 361.37 186.15 362.10 186.50" fill="none" stroke="#383838" stroke-width="0.95" stroke-linejoin="round"/>
<text transform="matrix(0.19837,0,0,0.18667,348.118,141.890)" font-size="60" font-family='"Liberation Mono", monospace' font-weight="normal" fill="#111" stroke="#111" stroke-width="1.14" stroke-linejoin="round">HSB2</text>
<text transform="matrix(0.10405,0,0,0.10488,329.238,146.850)" font-size="60" font-family='"Liberation Sans", sans-serif' font-weight="normal" fill="#111" stroke="#111" stroke-width="2.87" stroke-linejoin="round">C–</text>
<text transform="matrix(0.09959,0,0,0.10122,351.576,166.625)" font-size="60" font-family='"Liberation Sans", sans-serif' font-weight="normal" fill="#111" stroke="#111" stroke-width="3.49" stroke-linejoin="round">GAS</text>
<line x1="389.5" y1="133" x2="389.5" y2="186.0" stroke="#222" stroke-width="1.1"/>
<line x1="386.4" y1="185.5" x2="445.9" y2="185.5" stroke="#222" stroke-width="1.1"/>
<text transform="matrix(0.05893,0,0,0.06951,388.589,189.975)" font-size="60" font-family='"Liberation Sans", sans-serif' font-weight="bold" fill="#1a1a1a" stroke="#1a1a1a" stroke-width="3.89" stroke-linejoin="round">10°</text>
<text transform="matrix(0.06111,0,0,0.06951,402.231,189.975)" font-size="60" font-family='"Liberation Sans", sans-serif' font-weight="bold" fill="#1a1a1a" stroke="#1a1a1a" stroke-width="3.83" stroke-linejoin="round">10¹</text>
<text transform="matrix(0.06111,0,0,0.06786,415.881,189.975)" font-size="60" font-family='"Liberation Sans", sans-serif' font-weight="bold" fill="#1a1a1a" stroke="#1a1a1a" stroke-width="3.88" stroke-linejoin="round">10²</text>
<text transform="matrix(0.06111,0,0,0.06786,429.531,189.975)" font-size="60" font-family='"Liberation Sans", sans-serif' font-weight="bold" fill="#1a1a1a" stroke="#1a1a1a" stroke-width="3.88" stroke-linejoin="round">10³</text>
<text transform="matrix(0.05562,0,0,0.06951,443.203,189.975)" font-size="60" font-family='"Liberation Sans", sans-serif' font-weight="bold" fill="#1a1a1a" stroke="#1a1a1a" stroke-width="4.00" stroke-linejoin="round">10⁴</text>
<text transform="matrix(0.06071,0,0,0.08049,386.268,135.450)" font-size="60" font-family='"Liberation Sans", sans-serif' font-weight="normal" fill="#222" stroke="#222" stroke-width="4.25" stroke-linejoin="round">5</text>
<path d="M390.50 175.90C390.78 173.83 391.62 167.65 392.20 163.50C392.78 159.35 393.40 154.02 394.00 151.00C394.60 147.98 395.22 144.80 395.80 145.40C396.38 146.00 396.92 150.70 397.50 154.60C398.08 158.50 398.55 164.37 399.30 168.80C400.05 173.23 400.97 178.40 402.00 181.20C403.03 184.00 404.92 184.87 405.50 185.60" fill="none" stroke="#383838" stroke-width="0.95" stroke-linejoin="round"/>
<path d="M403.00 185.60C403.72 185.42 406.00 186.42 407.30 184.50C408.60 182.58 409.92 177.60 410.80 174.10C411.68 170.60 411.85 166.82 412.60 163.50C413.35 160.18 414.42 154.50 415.30 154.20C416.18 153.90 417.02 158.68 417.90 161.70C418.78 164.72 419.72 169.20 420.60 172.30C421.48 175.40 422.30 178.27 423.20 180.30C424.10 182.33 425.10 183.62 426.00 184.50C426.90 185.38 428.17 185.42 428.60 185.60" fill="none" stroke="#383838" stroke-width="0.95" stroke-linejoin="round"/>
<text transform="matrix(0.18963,0,0,0.19692,400.562,140.790)" font-size="60" font-family='"Liberation Mono", monospace' font-weight="normal" fill="#111" stroke="#111" stroke-width="1.14" stroke-linejoin="round">HPB-ALL</text>
<text transform="matrix(0.10405,0,0,0.10488,398.238,150.850)" font-size="60" font-family='"Liberation Sans", sans-serif' font-weight="normal" fill="#111" stroke="#111" stroke-width="2.87" stroke-linejoin="round">C–</text>
<text transform="matrix(0.09959,0,0,0.10122,417.676,156.925)" font-size="60" font-family='"Liberation Sans", sans-serif' font-weight="normal" fill="#111" stroke="#111" stroke-width="3.49" stroke-linejoin="round">GAS</text>
<line x1="458.5" y1="131.9" x2="458.5" y2="185.0" stroke="#222" stroke-width="1.1"/>
<line x1="454.5" y1="184.5" x2="514" y2="184.5" stroke="#222" stroke-width="1.1"/>
<text transform="matrix(0.05893,0,0,0.06951,456.689,189.075)" font-size="60" font-family='"Liberation Sans", sans-serif' font-weight="bold" fill="#1a1a1a" stroke="#1a1a1a" stroke-width="3.89" stroke-linejoin="round">10°</text>
<text transform="matrix(0.06111,0,0,0.06951,470.331,189.075)" font-size="60" font-family='"Liberation Sans", sans-serif' font-weight="bold" fill="#1a1a1a" stroke="#1a1a1a" stroke-width="3.83" stroke-linejoin="round">10¹</text>
<text transform="matrix(0.06111,0,0,0.06786,483.981,189.075)" font-size="60" font-family='"Liberation Sans", sans-serif' font-weight="bold" fill="#1a1a1a" stroke="#1a1a1a" stroke-width="3.88" stroke-linejoin="round">10²</text>
<text transform="matrix(0.06111,0,0,0.06786,497.631,189.075)" font-size="60" font-family='"Liberation Sans", sans-serif' font-weight="bold" fill="#1a1a1a" stroke="#1a1a1a" stroke-width="3.88" stroke-linejoin="round">10³</text>
<text transform="matrix(0.05562,0,0,0.06951,511.303,189.075)" font-size="60" font-family='"Liberation Sans", sans-serif' font-weight="bold" fill="#1a1a1a" stroke="#1a1a1a" stroke-width="4.00" stroke-linejoin="round">10⁴</text>
<text transform="matrix(0.06071,0,0,0.08049,454.368,134.350)" font-size="60" font-family='"Liberation Sans", sans-serif' font-weight="normal" fill="#222" stroke="#222" stroke-width="4.25" stroke-linejoin="round">5</text>
<path d="M458.50 172.30C458.77 169.35 459.48 159.77 460.10 154.60C460.72 149.43 461.55 141.90 462.20 141.30C462.85 140.70 463.32 146.72 464.00 151.00C464.68 155.28 465.47 162.57 466.30 167.00C467.13 171.43 468.22 175.02 469.00 177.60C469.78 180.18 470.27 181.32 471.00 182.50C471.73 183.68 473.00 184.33 473.40 184.70" fill="none" stroke="#383838" stroke-width="0.95" stroke-linejoin="round"/>
<path d="M471.00 184.70C472.28 184.55 476.97 186.45 478.70 183.80C480.43 181.15 480.67 173.37 481.40 168.80C482.13 164.23 482.52 159.22 483.10 156.40C483.68 153.58 484.15 151.62 484.90 151.90C485.65 152.18 486.87 155.28 487.60 158.10C488.33 160.92 488.57 165.25 489.30 168.80C490.03 172.35 490.95 176.75 492.00 179.40C493.05 182.05 495.00 183.82 495.60 184.70" fill="none" stroke="#383838" stroke-width="0.95" stroke-linejoin="round"/>
<text transform="matrix(0.19121,0,0,0.19179,472.254,139.590)" font-size="60" font-family='"Liberation Mono", monospace' font-weight="normal" fill="#111" stroke="#111" stroke-width="1.15" stroke-linejoin="round">NALM-6</text>
<text transform="matrix(0.10405,0,0,0.10488,465.238,149.250)" font-size="60" font-family='"Liberation Sans", sans-serif' font-weight="normal" fill="#111" stroke="#111" stroke-width="2.87" stroke-linejoin="round">C–</text>
<text transform="matrix(0.09959,0,0,0.10122,487.876,156.025)" font-size="60" font-family='"Liberation Sans", sans-serif' font-weight="normal" fill="#111" stroke="#111" stroke-width="3.49" stroke-linejoin="round">GAS</text>
<line x1="321.5" y1="202.4" x2="321.5" y2="257.0" stroke="#222" stroke-width="1.1"/>
<line x1="318.2" y1="256.5" x2="377.7" y2="256.5" stroke="#222" stroke-width="1.1"/>
<text transform="matrix(0.05893,0,0,0.06951,320.389,260.875)" font-size="60" font-family='"Liberation Sans", sans-serif' font-weight="bold" fill="#1a1a1a" stroke="#1a1a1a" stroke-width="3.89" stroke-linejoin="round">10°</text>
<text transform="matrix(0.06111,0,0,0.06951,334.031,260.875)" font-size="60" font-family='"Liberation Sans", sans-serif' font-weight="bold" fill="#1a1a1a" stroke="#1a1a1a" stroke-width="3.83" stroke-linejoin="round">10¹</text>
<text transform="matrix(0.06111,0,0,0.06786,347.681,260.875)" font-size="60" font-family='"Liberation Sans", sans-serif' font-weight="bold" fill="#1a1a1a" stroke="#1a1a1a" stroke-width="3.88" stroke-linejoin="round">10²</text>
<text transform="matrix(0.06111,0,0,0.06786,361.331,260.875)" font-size="60" font-family='"Liberation Sans", sans-serif' font-weight="bold" fill="#1a1a1a" stroke="#1a1a1a" stroke-width="3.88" stroke-linejoin="round">10³</text>
<text transform="matrix(0.05562,0,0,0.06951,375.003,260.875)" font-size="60" font-family='"Liberation Sans", sans-serif' font-weight="bold" fill="#1a1a1a" stroke="#1a1a1a" stroke-width="4.00" stroke-linejoin="round">10⁴</text>
<text transform="matrix(0.06071,0,0,0.08049,318.068,204.850)" font-size="60" font-family='"Liberation Sans", sans-serif' font-weight="normal" fill="#222" stroke="#222" stroke-width="4.25" stroke-linejoin="round">5</text>
<path d="M322.30 251.00C322.43 246.60 322.82 230.63 323.10 224.60C323.38 218.57 323.77 216.52 324.00 214.80C324.23 213.08 324.12 213.55 324.50 214.30C324.88 215.05 325.80 217.00 326.30 219.30C326.80 221.60 327.00 224.85 327.50 228.10C328.00 231.35 328.55 235.25 329.30 238.80C330.05 242.35 330.97 246.45 332.00 249.40C333.03 252.35 334.92 255.32 335.50 256.50" fill="none" stroke="#383838" stroke-width="0.95" stroke-linejoin="round"/>
<path d="M328.40 256.50C329.28 255.62 332.22 252.38 333.70 251.20C335.18 250.02 336.27 250.00 337.30 249.40C338.33 248.80 339.02 248.63 339.90 247.60C340.78 246.57 341.85 244.37 342.60 243.20C343.35 242.03 343.75 241.40 344.40 240.60C345.05 239.80 345.77 237.97 346.50 238.40C347.23 238.83 348.12 242.70 348.80 243.20C349.48 243.70 350.02 241.55 350.60 241.40C351.18 241.25 351.72 242.30 352.30 242.30C352.88 242.30 353.50 240.65 354.10 241.40C354.70 242.15 355.15 244.72 355.90 246.80C356.65 248.88 357.72 252.28 358.60 253.90C359.48 255.52 360.77 256.07 361.20 256.50" fill="none" stroke="#383838" stroke-width="0.95" stroke-linejoin="round"/>
<text transform="matrix(0.19407,0,0,0.19436,341.540,211.390)" font-size="60" font-family='"Liberation Mono", monospace' font-weight="normal" fill="#111" stroke="#111" stroke-width="1.13" stroke-linejoin="round">RAMOS</text>
<text transform="matrix(0.10405,0,0,0.10488,329.238,221.950)" font-size="60" font-family='"Liberation Sans", sans-serif' font-weight="normal" fill="#111" stroke="#111" stroke-width="2.87" stroke-linejoin="round">C–</text>
<text transform="matrix(0.09959,0,0,0.10122,350.976,239.025)" font-size="60" font-family='"Liberation Sans", sans-serif' font-weight="normal" fill="#111" stroke="#111" stroke-width="3.49" stroke-linejoin="round">GAS</text>
<line x1="390.5" y1="202.4" x2="390.5" y2="256.0" stroke="#222" stroke-width="1.1"/>
<line x1="386.9" y1="255.5" x2="446.4" y2="255.5" stroke="#222" stroke-width="1.1"/>
<text transform="matrix(0.05893,0,0,0.06951,389.089,259.475)" font-size="60" font-family='"Liberation Sans", sans-serif' font-weight="bold" fill="#1a1a1a" stroke="#1a1a1a" stroke-width="3.89" stroke-linejoin="round">10°</text>
<text transform="matrix(0.06111,0,0,0.06951,402.731,259.475)" font-size="60" font-family='"Liberation Sans", sans-serif' font-weight="bold" fill="#1a1a1a" stroke="#1a1a1a" stroke-width="3.83" stroke-linejoin="round">10¹</text>
<text transform="matrix(0.06111,0,0,0.06786,416.381,259.475)" font-size="60" font-family='"Liberation Sans", sans-serif' font-weight="bold" fill="#1a1a1a" stroke="#1a1a1a" stroke-width="3.88" stroke-linejoin="round">10²</text>
<text transform="matrix(0.06111,0,0,0.06786,430.031,259.475)" font-size="60" font-family='"Liberation Sans", sans-serif' font-weight="bold" fill="#1a1a1a" stroke="#1a1a1a" stroke-width="3.88" stroke-linejoin="round">10³</text>
<text transform="matrix(0.05562,0,0,0.06951,443.703,259.475)" font-size="60" font-family='"Liberation Sans", sans-serif' font-weight="bold" fill="#1a1a1a" stroke="#1a1a1a" stroke-width="4.00" stroke-linejoin="round">10⁴</text>
<text transform="matrix(0.06071,0,0,0.08049,386.768,204.850)" font-size="60" font-family='"Liberation Sans", sans-serif' font-weight="normal" fill="#222" stroke="#222" stroke-width="4.25" stroke-linejoin="round">5</text>
<path d="M391.00 244.10C391.28 241.73 392.20 234.03 392.70 229.90C393.20 225.77 393.48 222.55 394.00 219.30C394.52 216.05 395.30 211.00 395.80 210.40C396.30 209.80 396.57 212.45 397.00 215.70C397.43 218.95 397.87 225.17 398.40 229.90C398.93 234.63 399.47 239.90 400.20 244.10C400.93 248.30 402.37 253.27 402.80 255.10" fill="none" stroke="#383838" stroke-width="0.95" stroke-linejoin="round"/>
<path d="M394.90 255.10C395.48 254.15 397.37 252.42 398.40 249.40C399.43 246.38 400.37 239.95 401.10 237.00C401.83 234.05 402.13 232.93 402.80 231.70C403.47 230.47 404.35 229.30 405.10 229.60C405.85 229.90 406.65 231.67 407.30 233.50C407.95 235.33 408.27 238.25 409.00 240.60C409.73 242.95 410.80 245.53 411.70 247.60C412.60 249.67 413.52 251.75 414.40 253.00C415.28 254.25 416.57 254.75 417.00 255.10" fill="none" stroke="#383838" stroke-width="0.95" stroke-linejoin="round"/>
<text transform="matrix(0.18923,0,0,0.19179,410.264,210.590)" font-size="60" font-family='"Liberation Mono", monospace' font-weight="normal" fill="#111" stroke="#111" stroke-width="1.15" stroke-linejoin="round">DAUDI</text>
<text transform="matrix(0.10405,0,0,0.10488,398.838,218.550)" font-size="60" font-family='"Liberation Sans", sans-serif' font-weight="normal" fill="#111" stroke="#111" stroke-width="2.87" stroke-linejoin="round">C–</text>
<text transform="matrix(0.09959,0,0,0.10122,409.876,237.125)" font-size="60" font-family='"Liberation Sans", sans-serif' font-weight="normal" fill="#111" stroke="#111" stroke-width="3.49" stroke-linejoin="round">GAS</text>
<line x1="458.5" y1="200.4" x2="458.5" y2="255.0" stroke="#222" stroke-width="1.1"/>
<line x1="454.8" y1="254.5" x2="514.3" y2="254.5" stroke="#222" stroke-width="1.1"/>
<text transform="matrix(0.05893,0,0,0.06951,456.989,258.875)" font-size="60" font-family='"Liberation Sans", sans-serif' font-weight="bold" fill="#1a1a1a" stroke="#1a1a1a" stroke-width="3.89" stroke-linejoin="round">10°</text>
<text transform="matrix(0.06111,0,0,0.06951,470.631,258.875)" font-size="60" font-family='"Liberation Sans", sans-serif' font-weight="bold" fill="#1a1a1a" stroke="#1a1a1a" stroke-width="3.83" stroke-linejoin="round">10¹</text>
<text transform="matrix(0.06111,0,0,0.06786,484.281,258.875)" font-size="60" font-family='"Liberation Sans", sans-serif' font-weight="bold" fill="#1a1a1a" stroke="#1a1a1a" stroke-width="3.88" stroke-linejoin="round">10²</text>
<text transform="matrix(0.06111,0,0,0.06786,497.931,258.875)" font-size="60" font-family='"Liberation Sans", sans-serif' font-weight="bold" fill="#1a1a1a" stroke="#1a1a1a" stroke-width="3.88" stroke-linejoin="round">10³</text>
<text transform="matrix(0.05562,0,0,0.06951,511.603,258.875)" font-size="60" font-family='"Liberation Sans", sans-serif' font-weight="bold" fill="#1a1a1a" stroke="#1a1a1a" stroke-width="4.00" stroke-linejoin="round">10⁴</text>
<text transform="matrix(0.06071,0,0,0.08049,454.668,202.850)" font-size="60" font-family='"Liberation Sans", sans-serif' font-weight="normal" fill="#222" stroke="#222" stroke-width="4.25" stroke-linejoin="round">5</text>
<path d="M459.00 227.00C459.18 226.57 459.77 225.43 460.10 224.40C460.43 223.37 460.70 221.70 461.00 220.80C461.30 219.90 461.52 218.40 461.90 219.00C462.28 219.60 462.87 222.32 463.30 224.40C463.73 226.48 464.00 228.85 464.50 231.50C465.00 234.15 465.55 237.65 466.30 240.30C467.05 242.95 467.97 245.47 469.00 247.40C470.03 249.33 471.33 250.72 472.50 251.90C473.67 253.08 475.42 254.07 476.00 254.50" fill="none" stroke="#383838" stroke-width="0.95" stroke-linejoin="round"/>
<path d="M460.10 254.50C460.68 253.32 462.42 249.77 463.60 247.40C464.78 245.03 466.17 242.52 467.20 240.30C468.23 238.08 468.77 235.63 469.80 234.10C470.83 232.57 472.50 231.10 473.40 231.10C474.30 231.10 474.62 232.27 475.20 234.10C475.78 235.93 476.17 239.73 476.90 242.10C477.63 244.47 478.70 246.53 479.60 248.30C480.50 250.07 481.57 251.67 482.30 252.70C483.03 253.73 483.72 254.20 484.00 254.50" fill="none" stroke="#383838" stroke-width="0.95" stroke-linejoin="round"/>
<text transform="matrix(0.19308,0,0,0.17385,485.345,208.890)" font-size="60" font-family='"Liberation Mono", monospace' font-weight="normal" fill="#111" stroke="#111" stroke-width="1.20" stroke-linejoin="round">RAJI</text>
<text transform="matrix(0.10405,0,0,0.10488,464.238,218.550)" font-size="60" font-family='"Liberation Sans", sans-serif' font-weight="normal" fill="#111" stroke="#111" stroke-width="2.87" stroke-linejoin="round">C–</text>
<text transform="matrix(0.09959,0,0,0.10122,477.876,238.425)" font-size="60" font-family='"Liberation Sans", sans-serif' font-weight="normal" fill="#111" stroke="#111" stroke-width="3.49" stroke-linejoin="round">GAS</text>
<line x1="322.5" y1="272.4" x2="322.5" y2="326.0" stroke="#222" stroke-width="1.1"/>
<line x1="318.7" y1="325.5" x2="378.2" y2="325.5" stroke="#222" stroke-width="1.1"/>
<text transform="matrix(0.05893,0,0,0.06951,320.889,329.975)" font-size="60" font-family='"Liberation Sans", sans-serif' font-weight="bold" fill="#1a1a1a" stroke="#1a1a1a" stroke-width="3.89" stroke-linejoin="round">10°</text>
<text transform="matrix(0.06111,0,0,0.06951,334.531,329.975)" font-size="60" font-family='"Liberation Sans", sans-serif' font-weight="bold" fill="#1a1a1a" stroke="#1a1a1a" stroke-width="3.83" stroke-linejoin="round">10¹</text>
<text transform="matrix(0.06111,0,0,0.06786,348.181,329.975)" font-size="60" font-family='"Liberation Sans", sans-serif' font-weight="bold" fill="#1a1a1a" stroke="#1a1a1a" stroke-width="3.88" stroke-linejoin="round">10²</text>
<text transform="matrix(0.06111,0,0,0.06786,361.831,329.975)" font-size="60" font-family='"Liberation Sans", sans-serif' font-weight="bold" fill="#1a1a1a" stroke="#1a1a1a" stroke-width="3.88" stroke-linejoin="round">10³</text>
<text transform="matrix(0.05562,0,0,0.06951,375.503,329.975)" font-size="60" font-family='"Liberation Sans", sans-serif' font-weight="bold" fill="#1a1a1a" stroke="#1a1a1a" stroke-width="4.00" stroke-linejoin="round">10⁴</text>
<text transform="matrix(0.06071,0,0,0.08049,318.568,274.850)" font-size="60" font-family='"Liberation Sans", sans-serif' font-weight="normal" fill="#222" stroke="#222" stroke-width="4.25" stroke-linejoin="round">5</text>
<path d="M323.00 321.20C323.32 319.72 324.35 316.73 324.90 312.30C325.45 307.87 325.87 299.32 326.30 294.60C326.73 289.88 327.15 286.30 327.50 284.00C327.85 281.70 328.02 279.92 328.40 280.80C328.78 281.68 329.35 285.52 329.80 289.30C330.25 293.08 330.60 299.37 331.10 303.50C331.60 307.63 332.13 311.00 332.80 314.10C333.47 317.20 334.35 320.18 335.10 322.10C335.85 324.02 336.93 325.02 337.30 325.60" fill="none" stroke="#383838" stroke-width="0.95" stroke-linejoin="round"/>
<path d="M330.20 325.60C330.78 324.87 332.67 322.38 333.70 321.20C334.73 320.02 335.52 319.33 336.40 318.50C337.28 317.67 338.12 316.87 339.00 316.20C339.88 315.53 340.87 314.92 341.70 314.50C342.53 314.08 343.27 313.47 344.00 313.70C344.73 313.93 345.45 315.77 346.10 315.90C346.75 316.03 347.15 314.07 347.90 314.50C348.65 314.93 349.72 317.68 350.60 318.50C351.48 319.32 352.32 319.40 353.20 319.40C354.08 319.40 354.87 318.50 355.90 318.50C356.93 318.50 358.22 319.10 359.40 319.40C360.58 319.70 361.97 320.23 363.00 320.30C364.03 320.37 364.72 319.35 365.60 319.80C366.48 320.25 367.25 322.18 368.30 323.00C369.35 323.82 370.72 324.27 371.90 324.70C373.08 325.13 374.82 325.45 375.40 325.60" fill="none" stroke="#383838" stroke-width="0.95" stroke-linejoin="round"/>
<text transform="matrix(0.19008,0,0,0.19179,349.660,281.390)" font-size="60" font-family='"Liberation Mono", monospace' font-weight="normal" fill="#111" stroke="#111" stroke-width="1.15" stroke-linejoin="round">RPMI</text>
<text transform="matrix(0.19324,0,0,0.18667,348.837,292.390)" font-size="60" font-family='"Liberation Mono", monospace' font-weight="normal" fill="#111" stroke="#111" stroke-width="1.16" stroke-linejoin="round">8226</text>
<text transform="matrix(0.10405,0,0,0.10488,331.538,287.450)" font-size="60" font-family='"Liberation Sans", sans-serif' font-weight="normal" fill="#111" stroke="#111" stroke-width="2.87" stroke-linejoin="round">C–</text>
<text transform="matrix(0.09959,0,0,0.10122,354.876,314.625)" font-size="60" font-family='"Liberation Sans", sans-serif' font-weight="normal" fill="#111" stroke="#111" stroke-width="3.49" stroke-linejoin="round">GAS</text>
<line x1="391.5" y1="272.4" x2="391.5" y2="326.0" stroke="#222" stroke-width="1.1"/>
<line x1="387.5" y1="325.5" x2="447" y2="325.5" stroke="#222" stroke-width="1.1"/>
<text transform="matrix(0.05893,0,0,0.06951,389.689,329.475)" font-size="60" font-family='"Liberation Sans", sans-serif' font-weight="bold" fill="#1a1a1a" stroke="#1a1a1a" stroke-width="3.89" stroke-linejoin="round">10°</text>
<text transform="matrix(0.06111,0,0,0.06951,403.331,329.475)" font-size="60" font-family='"Liberation Sans", sans-serif' font-weight="bold" fill="#1a1a1a" stroke="#1a1a1a" stroke-width="3.83" stroke-linejoin="round">10¹</text>
<text transform="matrix(0.06111,0,0,0.06786,416.981,329.475)" font-size="60" font-family='"Liberation Sans", sans-serif' font-weight="bold" fill="#1a1a1a" stroke="#1a1a1a" stroke-width="3.88" stroke-linejoin="round">10²</text>
<text transform="matrix(0.06111,0,0,0.06786,430.631,329.475)" font-size="60" font-family='"Liberation Sans", sans-serif' font-weight="bold" fill="#1a1a1a" stroke="#1a1a1a" stroke-width="3.88" stroke-linejoin="round">10³</text>
<text transform="matrix(0.05562,0,0,0.06951,444.303,329.475)" font-size="60" font-family='"Liberation Sans", sans-serif' font-weight="bold" fill="#1a1a1a" stroke="#1a1a1a" stroke-width="4.00" stroke-linejoin="round">10⁴</text>
<text transform="matrix(0.06071,0,0,0.08049,387.368,274.850)" font-size="60" font-family='"Liberation Sans", sans-serif' font-weight="normal" fill="#222" stroke="#222" stroke-width="4.25" stroke-linejoin="round">5</text>
<path d="M391.50 319.40C391.82 316.75 392.83 308.52 393.40 303.50C393.97 298.48 394.37 293.88 394.90 289.30C395.43 284.72 396.07 276.60 396.60 276.00C397.13 275.40 397.65 281.12 398.10 285.70C398.55 290.28 398.80 298.18 399.30 303.50C399.80 308.82 400.37 314.00 401.10 317.60C401.83 321.20 403.27 323.85 403.70 325.10" fill="none" stroke="#383838" stroke-width="0.95" stroke-linejoin="round"/>
<path d="M394.00 325.10C394.73 324.45 397.07 323.03 398.40 321.20C399.73 319.37 400.97 316.17 402.00 314.10C403.03 312.03 403.87 310.13 404.60 308.80C405.33 307.47 405.67 306.40 406.40 306.10C407.13 305.80 408.27 307.08 409.00 307.00C409.73 306.92 410.20 305.95 410.80 305.60C411.40 305.25 412.00 304.22 412.60 304.90C413.20 305.58 413.82 308.02 414.40 309.70C414.98 311.38 415.37 313.23 416.10 315.00C416.83 316.77 417.90 318.97 418.80 320.30C419.70 321.63 420.62 322.20 421.50 323.00C422.38 323.80 423.67 324.75 424.10 325.10" fill="none" stroke="#383838" stroke-width="0.95" stroke-linejoin="round"/>
<text transform="matrix(0.19244,0,0,0.19436,418.040,279.890)" font-size="60" font-family='"Liberation Mono", monospace' font-weight="normal" fill="#111" stroke="#111" stroke-width="1.14" stroke-linejoin="round">U937</text>
<text transform="matrix(0.10405,0,0,0.10488,397.238,280.550)" font-size="60" font-family='"Liberation Sans", sans-serif' font-weight="normal" fill="#111" stroke="#111" stroke-width="2.87" stroke-linejoin="round">C–</text>
<text transform="matrix(0.09959,0,0,0.10122,404.976,302.825)" font-size="60" font-family='"Liberation Sans", sans-serif' font-weight="normal" fill="#111" stroke="#111" stroke-width="3.49" stroke-linejoin="round">GAS</text>
<line x1="459.5" y1="270.4" x2="459.5" y2="324.0" stroke="#222" stroke-width="1.1"/>
<line x1="455.7" y1="323.5" x2="515.2" y2="323.5" stroke="#222" stroke-width="1.1"/>
<text transform="matrix(0.05893,0,0,0.06951,457.889,327.975)" font-size="60" font-family='"Liberation Sans", sans-serif' font-weight="bold" fill="#1a1a1a" stroke="#1a1a1a" stroke-width="3.89" stroke-linejoin="round">10°</text>
<text transform="matrix(0.06111,0,0,0.06951,471.531,327.975)" font-size="60" font-family='"Liberation Sans", sans-serif' font-weight="bold" fill="#1a1a1a" stroke="#1a1a1a" stroke-width="3.83" stroke-linejoin="round">10¹</text>
<text transform="matrix(0.06111,0,0,0.06786,485.181,327.975)" font-size="60" font-family='"Liberation Sans", sans-serif' font-weight="bold" fill="#1a1a1a" stroke="#1a1a1a" stroke-width="3.88" stroke-linejoin="round">10²</text>
<text transform="matrix(0.06111,0,0,0.06786,498.831,327.975)" font-size="60" font-family='"Liberation Sans", sans-serif' font-weight="bold" fill="#1a1a1a" stroke="#1a1a1a" stroke-width="3.88" stroke-linejoin="round">10³</text>
<text transform="matrix(0.05562,0,0,0.06951,512.503,327.975)" font-size="60" font-family='"Liberation Sans", sans-serif' font-weight="bold" fill="#1a1a1a" stroke="#1a1a1a" stroke-width="4.00" stroke-linejoin="round">10⁴</text>
<text transform="matrix(0.06071,0,0,0.08049,455.568,272.850)" font-size="60" font-family='"Liberation Sans", sans-serif' font-weight="normal" fill="#222" stroke="#222" stroke-width="4.25" stroke-linejoin="round">5</text>
<path d="M459.50 321.00C459.83 318.63 460.95 312.42 461.50 306.80C462.05 301.18 462.38 293.27 462.80 287.30C463.22 281.33 463.57 271.60 464.00 271.00C464.43 270.40 464.93 278.62 465.40 283.70C465.87 288.78 466.27 296.18 466.80 301.50C467.33 306.82 467.80 311.92 468.60 315.60C469.40 319.28 471.10 322.27 471.60 323.60" fill="none" stroke="#383838" stroke-width="0.95" stroke-linejoin="round"/>
<path d="M471.60 323.60C472.33 322.87 474.73 321.12 476.00 319.20C477.27 317.28 478.30 314.47 479.20 312.10C480.10 309.73 480.60 307.07 481.40 305.00C482.20 302.93 483.12 299.85 484.00 299.70C484.88 299.55 485.82 302.18 486.70 304.10C487.58 306.02 488.42 308.98 489.30 311.20C490.18 313.42 491.10 315.62 492.00 317.40C492.90 319.18 493.82 320.87 494.70 321.90C495.58 322.93 496.87 323.32 497.30 323.60" fill="none" stroke="#383838" stroke-width="0.95" stroke-linejoin="round"/>
<text transform="matrix(0.19911,0,0,0.18923,486.014,278.890)" font-size="60" font-family='"Liberation Mono", monospace' font-weight="normal" fill="#111" stroke="#111" stroke-width="1.13" stroke-linejoin="round">K562</text>
<text transform="matrix(0.10405,0,0,0.10488,466.138,281.050)" font-size="60" font-family='"Liberation Sans", sans-serif' font-weight="normal" fill="#111" stroke="#111" stroke-width="2.87" stroke-linejoin="round">C–</text>
<text transform="matrix(0.09959,0,0,0.10122,487.176,297.325)" font-size="60" font-family='"Liberation Sans", sans-serif' font-weight="normal" fill="#111" stroke="#111" stroke-width="3.49" stroke-linejoin="round">GAS</text>
</svg></body></html>
